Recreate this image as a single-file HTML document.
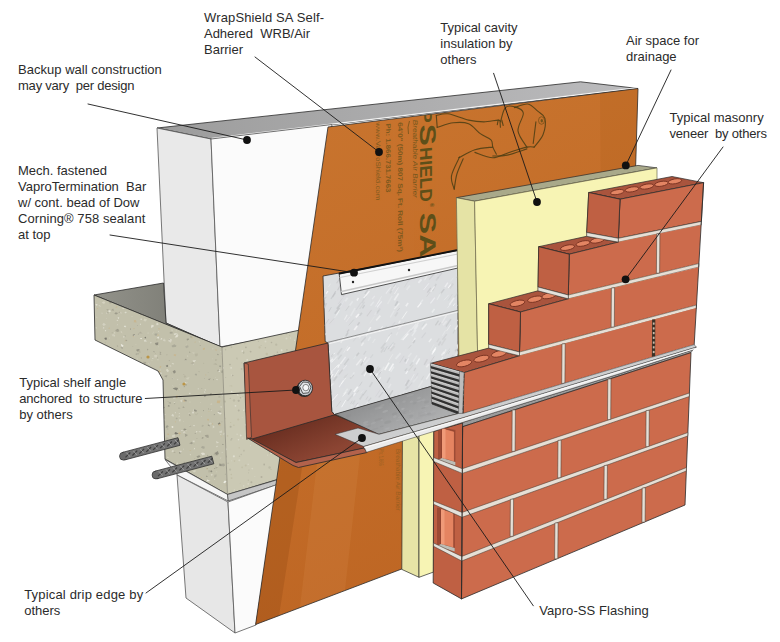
<!DOCTYPE html>
<html><head><meta charset="utf-8"><title>WrapShield SA detail</title>
<style>html,body{margin:0;padding:0;background:#fff}svg{display:block}</style></head>
<body>
<svg width="780" height="642" viewBox="0 0 780 642">
<rect width="780" height="642" fill="#fff"/>

<defs>
<linearGradient id="gMem" gradientUnits="userSpaceOnUse" x1="300" y1="120" x2="520" y2="640">
<stop offset="0" stop-color="#c8742e"/><stop offset="0.5" stop-color="#c36c28"/><stop offset="1" stop-color="#bc6422"/></linearGradient>
<linearGradient id="gTop" gradientUnits="userSpaceOnUse" x1="157" y1="0" x2="640" y2="0">
<stop offset="0" stop-color="#9c9c9c"/><stop offset="1" stop-color="#bcbcbe"/></linearGradient>
<linearGradient id="gSlabTop" gradientUnits="userSpaceOnUse" x1="94" y1="0" x2="220" y2="0">
<stop offset="0" stop-color="#92928a"/><stop offset="1" stop-color="#74746d"/></linearGradient>
<linearGradient id="gFlashH" gradientUnits="userSpaceOnUse" x1="380" y1="395" x2="400" y2="435">
<stop offset="0" stop-color="#909192"/><stop offset="1" stop-color="#acadae"/></linearGradient>
<linearGradient id="gLeg" gradientUnits="userSpaceOnUse" x1="290" y1="425" x2="305" y2="462"><stop offset="0" stop-color="#6c3022"/><stop offset="1" stop-color="#8c4533"/></linearGradient>
<clipPath id="cSlabSide"><polygon points="94,295 222,347 227.5,494.5 165,459 163,380 158,371 95,340"/></clipPath>
<clipPath id="cSlabFront"><polygon points="222,347 300,330 279,479 227.5,494.5"/></clipPath>
<clipPath id="cFlashV"><polygon points="323,276 458,251 458,380 431,386.5 334.6,414.8 331.8,411.5 328,343 325.2,341.5"/></clipPath>
<clipPath id="cMem"><polygon points="328,127 638,88.5 635.6,168 634,300 470,420 403,568.5 255.6,624.5"/></clipPath>
</defs>

<polygon points="157.0,128.0 580.5,81.8 638.0,88.5 211.0,139.0" fill="url(#gTop)" stroke="#2a2a2a" stroke-width="0.8" stroke-linejoin="round" />
<polyline points="212.0,138.3 637.0,87.8" fill="none" stroke="#f2f2f2" stroke-width="1.2" stroke-linecap="round" stroke-linejoin="round" />
<polygon points="157.0,128.0 211.0,139.0 220.0,347.0 166.0,323.0" fill="#e9e9e9" stroke="#555" stroke-width="0.8" stroke-linejoin="round" />
<polygon points="211.0,139.0 332.0,124.5 300.0,332.0 220.0,347.0" fill="#fbfbfb" stroke="#555" stroke-width="0.8" stroke-linejoin="round" />
<polygon points="94.0,295.0 163.5,283.0 166.0,323.0 221.0,347.0" fill="url(#gSlabTop)" stroke="#2a2a2a" stroke-width="0.8" stroke-linejoin="round" />
<polygon points="94.0,295.0 222.0,347.0 227.5,494.5 165.0,459.0 163.0,380.0 158.0,371.0 95.0,340.0" fill="#c2c0ab" />
<polygon points="222.0,347.0 300.0,330.0 279.0,479.0 227.5,494.5" fill="#cbc9b4" />
<g clip-path="url(#cSlabSide)">
<polygon points="138.0,325.1 137.8,325.7 137.4,325.2" fill="#77756b" opacity="0.78"/>
<polygon points="221.2,421.7 222.5,421.4 222.0,422.4" fill="#a5a394" opacity="0.59"/>
<polygon points="170.4,331.7 172.4,331.9 173.0,333.3 170.6,333.8 169.4,332.9" fill="#a5a394" opacity="0.90"/>
<polygon points="192.0,352.9 192.0,352.5 192.8,352.5 193.1,352.9 192.4,353.2" fill="#d6d3c2" opacity="0.59"/>
<polygon points="130.2,436.4 129.2,435.6 129.8,434.4 131.2,433.9 131.6,435.3" fill="#d9d7c9" opacity="0.71"/>
<polygon points="211.8,310.4 212.3,311.0 212.0,311.6 211.1,311.3" fill="#9c9a8a" opacity="0.88"/>
<polygon points="117.5,351.6 119.0,351.0 119.2,352.1" fill="#d6d3c2" opacity="0.74"/>
<polygon points="148.9,333.1 147.7,333.9 147.8,332.3" fill="#dedccf" opacity="0.61"/>
<polygon points="128.0,365.4 127.5,364.7 128.0,364.3 128.6,364.4 128.6,365.1" fill="#c9b48a" opacity="0.92"/>
<polygon points="195.5,356.4 194.6,353.8 198.0,353.5 197.4,355.9" fill="#b0ad9a" opacity="0.65"/>
<polygon points="147.9,457.0 147.4,456.6 148.0,455.9 148.3,456.2 148.5,456.5" fill="#8f8d80" opacity="0.63"/>
<polygon points="180.2,475.4 178.3,477.1 177.0,475.1" fill="#e9e7dc" opacity="0.87"/>
<polygon points="225.4,375.2 224.4,374.8 225.7,374.2" fill="#d6d3c2" opacity="0.69"/>
<polygon points="165.9,321.5 167.2,320.4 169.3,320.7 168.6,322.5" fill="#e4e2d6" opacity="0.72"/>
<polygon points="110.6,477.7 111.9,476.8 113.7,477.6 111.8,479.3" fill="#efeee6" opacity="0.84"/>
<polygon points="169.3,361.2 168.5,360.2 170.0,360.3" fill="#9c9a8a" opacity="0.73"/>
<polygon points="176.7,395.0 178.1,396.0 176.6,398.2 175.7,397.2" fill="#c9b48a" opacity="0.73"/>
<polygon points="104.0,343.8 103.4,343.8 103.5,343.1 104.4,343.2" fill="#e4e2d6" opacity="0.61"/>
<polygon points="151.5,399.8 151.5,397.7 154.1,398.4" fill="#b0ad9a" opacity="0.60"/>
<polygon points="218.7,340.3 218.6,341.4 217.6,341.6 217.3,340.7" fill="#8f8d80" opacity="0.66"/>
<polygon points="201.2,331.6 202.4,331.5 201.5,332.5" fill="#8f8d80" opacity="0.92"/>
<polygon points="178.4,304.4 177.0,303.8 177.7,303.0 178.6,303.4" fill="#dedccf" opacity="0.65"/>
<polygon points="95.6,441.8 96.6,442.1 96.6,442.4 96.2,443.0 95.6,442.4" fill="#e9e7dc" opacity="0.95"/>
<polygon points="227.4,463.9 225.8,463.5 226.4,462.6" fill="#d6d3c2" opacity="0.73"/>
<polygon points="116.8,385.3 115.3,386.1 113.5,384.8 115.9,383.3" fill="#b0ad9a" opacity="0.86"/>
<polygon points="107.0,459.9 106.0,460.1 105.6,458.7 107.0,458.6" fill="#8f8d80" opacity="0.75"/>
<polygon points="132.6,418.2 134.1,418.8 133.4,421.0 131.0,420.5 130.6,418.5" fill="#d9d7c9" opacity="0.83"/>
<polygon points="124.5,300.7 125.5,301.2 124.6,301.9" fill="#9c9a8a" opacity="0.75"/>
<polygon points="166.0,427.1 166.7,427.6 166.4,427.9 165.7,427.5" fill="#8f8d80" opacity="0.80"/>
<polygon points="181.3,310.4 180.6,311.2 180.2,310.5 180.8,310.0" fill="#77756b" opacity="0.74"/>
<polygon points="110.7,474.9 109.7,475.0 109.3,474.5 109.7,474.4 110.4,474.4" fill="#8f8d80" opacity="0.69"/>
<polygon points="176.0,421.8 175.6,422.4 175.1,422.3 174.9,421.6 175.5,421.4" fill="#c9b48a" opacity="0.89"/>
<polygon points="109.5,481.5 109.4,480.4 110.7,480.6 111.3,480.8 110.4,481.9" fill="#e9e7dc" opacity="0.94"/>
<polygon points="153.8,358.3 153.3,358.8 152.4,359.0 152.0,358.2 152.7,358.0" fill="#d9d7c9" opacity="0.92"/>
<polygon points="109.9,388.8 112.0,388.9 112.7,390.0 110.5,391.3 109.1,390.8" fill="#8f8d80" opacity="0.95"/>
<polygon points="154.4,323.3 154.1,322.9 155.1,322.6 155.2,323.2" fill="#b0ad9a" opacity="0.85"/>
<polygon points="161.8,410.0 161.6,410.8 160.5,410.7 160.8,410.1" fill="#e9e7dc" opacity="0.86"/>
<polygon points="203.1,490.8 200.3,490.2 201.9,487.8 204.2,488.2 204.7,490.1" fill="#c9b48a" opacity="0.57"/>
<polygon points="198.5,341.6 199.5,341.1 200.3,342.1 199.6,342.7" fill="#d9d7c9" opacity="0.55"/>
<polygon points="166.0,495.3 166.7,495.0 167.3,495.3 166.4,495.6" fill="#c9b48a" opacity="0.64"/>
<polygon points="151.4,370.3 150.7,369.8 150.8,368.8 151.7,368.9 152.4,369.2" fill="#d9d7c9" opacity="0.67"/>
<polygon points="223.2,394.0 223.1,395.7 221.4,395.0 221.6,393.4" fill="#dedccf" opacity="0.68"/>
<polygon points="110.8,311.4 109.6,312.2 108.4,311.6 108.0,310.2 110.3,310.3" fill="#e4e2d6" opacity="0.94"/>
<polygon points="122.3,367.3 121.3,367.3 121.2,366.3 122.1,365.9 122.8,366.6" fill="#e4e2d6" opacity="0.74"/>
<polygon points="202.9,307.4 202.5,307.9 202.1,307.6 202.4,306.9" fill="#8f8d80" opacity="0.80"/>
<polygon points="221.4,299.2 222.4,299.6 221.7,300.6 220.9,300.3 220.9,299.3" fill="#8f8d80" opacity="0.86"/>
<polygon points="172.5,397.6 175.1,396.4 175.4,397.5 175.6,398.6 173.4,398.7" fill="#dedccf" opacity="0.64"/>
<polygon points="149.7,421.1 148.8,419.1 150.4,418.4 152.8,419.7" fill="#e9e7dc" opacity="0.78"/>
<polygon points="139.0,374.3 138.2,375.6 137.4,374.8 137.4,374.4 138.1,373.6" fill="#d9d7c9" opacity="0.78"/>
<polygon points="218.9,369.0 220.6,369.3 219.6,371.3" fill="#dedccf" opacity="0.57"/>
<polygon points="193.9,478.8 192.4,479.4 192.0,478.1 193.1,477.9" fill="#d6d3c2" opacity="0.81"/>
<polygon points="147.0,350.2 147.4,348.7 148.4,349.1 147.9,350.2" fill="#8f8d80" opacity="0.61"/>
<polygon points="108.4,312.9 109.7,312.6 109.6,313.8" fill="#dedccf" opacity="0.61"/>
<polygon points="132.5,398.8 133.2,400.1 131.8,400.2 131.4,399.2" fill="#8f8d80" opacity="0.91"/>
<polygon points="181.0,467.5 180.3,467.7 179.5,466.6 180.5,466.2" fill="#d6d3c2" opacity="0.89"/>
<polygon points="184.5,430.4 183.2,429.3 184.2,428.5 186.3,429.0 186.1,430.1" fill="#8f8d80" opacity="0.88"/>
<polygon points="206.5,457.9 206.5,457.4 207.4,457.6 207.6,458.1 206.5,458.3" fill="#e9e7dc" opacity="0.86"/>
<polygon points="98.1,308.4 97.5,309.1 96.9,308.7 97.4,307.9" fill="#c9b48a" opacity="0.91"/>
<polygon points="130.7,458.8 131.4,458.6 131.4,459.2 130.9,459.3" fill="#77756b" opacity="0.87"/>
<polygon points="129.6,450.5 128.9,448.9 130.5,449.0" fill="#9c9a8a" opacity="0.61"/>
<polygon points="137.9,312.0 137.8,310.7 139.2,310.6 139.5,311.5" fill="#9c9a8a" opacity="0.80"/>
<polygon points="150.7,368.2 150.2,368.5 150.2,367.8" fill="#dedccf" opacity="0.63"/>
<polygon points="178.8,390.5 177.8,390.8 178.3,390.2" fill="#c9b48a" opacity="0.88"/>
<polygon points="215.0,413.9 215.0,415.0 213.9,415.3 213.7,414.1" fill="#a5a394" opacity="0.93"/>
<polygon points="115.3,336.0 112.2,336.3 111.7,334.6 114.0,333.4" fill="#d6d3c2" opacity="0.58"/>
<polygon points="182.1,329.5 183.6,330.0 182.7,330.9 181.2,330.4" fill="#b0ad9a" opacity="0.64"/>
<polygon points="213.1,298.5 212.2,298.3 212.8,297.4 213.4,298.0" fill="#e4e2d6" opacity="0.74"/>
<polygon points="164.3,295.8 165.8,295.7 167.1,296.1 165.9,296.9 165.1,296.8" fill="#a5a394" opacity="0.83"/>
<polygon points="180.1,434.8 179.7,435.5 179.2,435.1" fill="#a5a394" opacity="0.93"/>
<polygon points="217.6,447.0 216.6,447.2 216.2,446.3 217.5,445.7" fill="#e9e7dc" opacity="0.70"/>
<polygon points="136.7,488.9 137.5,488.2 138.1,489.1" fill="#efeee6" opacity="0.59"/>
<polygon points="204.1,329.3 204.5,328.9 205.2,329.2 204.8,329.7" fill="#dedccf" opacity="0.66"/>
<polygon points="122.5,435.3 123.8,435.4 123.0,436.3" fill="#c9b48a" opacity="0.56"/>
<polygon points="122.9,348.9 121.3,348.6 120.4,347.6 122.0,346.8 123.0,347.5" fill="#a5a394" opacity="0.74"/>
<polygon points="186.4,348.3 185.0,346.4 188.0,345.3 188.6,346.9" fill="#a5a394" opacity="0.64"/>
<polygon points="221.6,347.4 222.4,346.2 223.8,346.1 223.9,347.4" fill="#e9e7dc" opacity="0.71"/>
<polygon points="100.5,375.1 99.3,376.1 96.8,375.5 97.4,374.1 99.8,374.1" fill="#8f8d80" opacity="0.81"/>
<polygon points="212.2,424.4 211.6,424.0 212.4,423.3 213.0,423.6 213.1,424.4" fill="#c9b48a" opacity="0.71"/>
<polygon points="185.9,482.1 184.1,482.5 185.0,481.4" fill="#c9b48a" opacity="0.78"/>
<polygon points="166.8,437.1 168.7,438.3 167.8,440.9 165.7,440.5 165.2,439.1" fill="#b0ad9a" opacity="0.57"/>
<polygon points="104.4,478.4 105.1,478.8 104.2,479.5 103.3,479.3" fill="#a5a394" opacity="0.87"/>
<polygon points="179.0,389.5 179.0,388.8 180.1,388.8 180.2,389.4 179.7,389.8" fill="#d9d7c9" opacity="0.62"/>
<polygon points="93.6,439.8 94.5,439.6 94.9,440.1 94.4,440.6 93.7,440.2" fill="#c9b48a" opacity="0.69"/>
<polygon points="173.2,426.1 173.3,427.8 171.9,428.1 171.5,426.3" fill="#e9e7dc" opacity="0.94"/>
<polygon points="105.4,476.0 106.7,475.5 107.0,476.2 106.3,477.0" fill="#e4e2d6" opacity="0.57"/>
<polygon points="158.0,322.8 158.6,325.1 156.3,325.2 156.4,323.3" fill="#dedccf" opacity="0.80"/>
<polygon points="179.2,300.6 179.6,299.9 180.7,300.0 180.7,301.0 179.6,301.6" fill="#e9e7dc" opacity="0.63"/>
<polygon points="151.7,380.0 153.2,379.0 153.7,380.1 152.9,380.6" fill="#efeee6" opacity="0.78"/>
<polygon points="178.9,453.6 180.0,451.0 180.9,453.3" fill="#77756b" opacity="0.75"/>
<polygon points="169.2,371.1 167.4,372.2 165.9,369.9 167.2,368.7" fill="#e9e7dc" opacity="0.56"/>
<polygon points="211.5,323.4 211.6,322.5 212.1,322.9" fill="#efeee6" opacity="0.60"/>
<polygon points="202.8,410.7 203.4,410.1 203.9,410.5 203.9,411.3" fill="#77756b" opacity="0.60"/>
<polygon points="223.1,312.8 223.9,311.8 225.3,312.6 224.6,313.5" fill="#77756b" opacity="0.77"/>
<polygon points="162.3,429.8 161.0,430.2 161.1,429.0" fill="#dedccf" opacity="0.89"/>
<polygon points="161.4,306.2 160.5,308.3 157.9,307.4 159.3,306.0" fill="#d6d3c2" opacity="0.85"/>
<polygon points="140.0,350.1 140.5,352.9 136.9,351.5" fill="#b0ad9a" opacity="0.79"/>
<polygon points="215.0,457.8 214.8,457.0 215.6,457.4" fill="#d6d3c2" opacity="0.77"/>
<polygon points="198.9,396.2 197.9,395.0 199.2,395.1 199.8,395.7" fill="#a5a394" opacity="0.76"/>
<polygon points="140.9,307.8 141.0,306.5 143.0,306.8 143.3,308.3 141.3,308.3" fill="#b0ad9a" opacity="0.92"/>
<polygon points="160.3,469.5 159.8,468.5 161.4,469.4" fill="#77756b" opacity="0.78"/>
<polygon points="130.4,449.8 130.5,452.1 128.9,453.0 127.9,450.6" fill="#d6d3c2" opacity="0.89"/>
<polygon points="213.9,468.0 215.2,467.9 215.4,468.6 214.1,469.1" fill="#8f8d80" opacity="0.64"/>
<polygon points="100.0,346.5 98.9,347.0 98.6,346.7 99.0,346.1 99.5,346.1" fill="#8f8d80" opacity="0.60"/>
<polygon points="159.0,328.3 159.6,328.9 158.8,329.4 158.3,328.6" fill="#c9b48a" opacity="0.92"/>
<polygon points="145.6,299.2 146.4,299.1 145.9,299.7" fill="#c9b48a" opacity="0.90"/>
<polygon points="129.1,377.9 129.6,377.1 130.8,377.5 129.9,378.2" fill="#d6d3c2" opacity="0.74"/>
<polygon points="132.3,347.1 132.7,346.2 133.3,346.9" fill="#a5a394" opacity="0.73"/>
<polygon points="161.7,397.7 162.3,397.1 163.5,397.1 162.7,398.3" fill="#d6d3c2" opacity="0.58"/>
<polygon points="104.9,417.1 106.6,416.6 106.5,417.8 105.0,418.0" fill="#d9d7c9" opacity="0.89"/>
<polygon points="210.9,395.2 209.6,394.8 210.4,393.3 212.1,393.6" fill="#8f8d80" opacity="0.76"/>
<polygon points="110.4,439.9 109.6,438.1 111.4,438.6" fill="#efeee6" opacity="0.65"/>
<polygon points="106.4,419.3 105.8,419.9 105.6,419.2" fill="#dedccf" opacity="0.73"/>
<polygon points="143.2,314.5 140.5,314.7 139.8,313.2 142.2,312.9" fill="#9c9a8a" opacity="0.93"/>
<polygon points="96.5,422.1 97.2,423.0 95.5,422.6" fill="#efeee6" opacity="0.92"/>
<polygon points="203.5,465.1 204.4,464.8 205.0,465.5 204.1,466.0 202.9,465.7" fill="#a5a394" opacity="0.73"/>
<polygon points="99.6,491.1 101.0,491.0 101.8,492.6 99.7,493.1" fill="#8f8d80" opacity="0.69"/>
<polygon points="115.4,307.5 116.5,306.3 117.5,306.7 116.7,307.8" fill="#c9b48a" opacity="0.73"/>
<polygon points="186.7,339.9 186.8,338.7 188.8,338.6 189.1,339.6 187.3,340.4" fill="#8f8d80" opacity="0.77"/>
<polygon points="159.4,351.8 161.5,351.9 160.3,353.2" fill="#9c9a8a" opacity="0.76"/>
<polygon points="226.9,430.4 228.3,430.6 228.2,431.9 226.8,431.9" fill="#d9d7c9" opacity="0.83"/>
<polygon points="216.1,320.9 216.5,319.6 218.0,319.5 219.6,321.0 218.3,321.8" fill="#e9e7dc" opacity="0.69"/>
<polygon points="164.8,415.2 164.5,414.7 164.7,414.2 165.5,414.3 165.4,414.9" fill="#efeee6" opacity="0.68"/>
<polygon points="224.8,473.9 225.4,473.7 225.7,474.2 225.1,474.5" fill="#8f8d80" opacity="0.93"/>
<polygon points="186.7,400.1 186.5,401.5 184.1,401.0 184.1,399.5" fill="#77756b" opacity="0.62"/>
<polygon points="137.7,491.1 137.6,491.9 136.7,492.3 136.3,491.4" fill="#e4e2d6" opacity="0.62"/>
<polygon points="179.8,416.0 179.2,416.9 178.7,416.5 178.6,416.1 179.2,415.6" fill="#e4e2d6" opacity="0.78"/>
<polygon points="212.0,475.7 211.0,475.6 210.8,473.9 213.0,474.4" fill="#e9e7dc" opacity="0.57"/>
<polygon points="95.3,449.3 95.9,449.5 95.9,450.2 95.4,450.3" fill="#dedccf" opacity="0.86"/>
<polygon points="101.1,306.3 100.0,306.8 98.4,305.5 99.5,304.9" fill="#d6d3c2" opacity="0.82"/>
<polygon points="173.2,378.4 172.3,378.2 172.6,377.7 173.5,378.0" fill="#e9e7dc" opacity="0.81"/>
<polygon points="224.2,380.6 223.1,380.0 223.8,379.4 224.8,379.6" fill="#8f8d80" opacity="0.60"/>
<polygon points="153.0,462.3 154.4,462.3 155.3,463.7 153.4,464.6 152.5,463.5" fill="#efeee6" opacity="0.95"/>
<polygon points="164.0,376.1 167.5,375.0 166.5,377.5" fill="#9c9a8a" opacity="0.71"/>
<polygon points="106.0,330.1 106.2,330.8 105.4,331.5 104.8,330.4" fill="#e9e7dc" opacity="0.89"/>
<polygon points="156.5,420.7 157.5,420.9 156.9,421.7 156.0,421.3" fill="#dedccf" opacity="0.80"/>
<polygon points="117.6,317.6 119.4,317.6 118.3,319.0" fill="#efeee6" opacity="0.93"/>
<polygon points="172.1,339.5 170.9,342.8 168.0,340.9 169.5,338.6" fill="#d9d7c9" opacity="0.82"/>
<polygon points="99.6,359.1 99.2,359.5 98.3,359.2 98.3,358.7 99.4,358.4" fill="#e4e2d6" opacity="0.80"/>
<polygon points="163.3,431.2 162.6,431.5 162.2,430.7 162.8,430.6" fill="#c9b48a" opacity="0.57"/>
<polygon points="142.7,378.7 140.9,378.3 141.5,377.2 143.0,377.3 143.4,378.0" fill="#c9b48a" opacity="0.88"/>
<polygon points="168.8,448.2 167.7,448.3 167.4,447.5 168.7,447.4" fill="#efeee6" opacity="0.60"/>
<polygon points="138.5,389.6 137.7,389.6 137.2,389.3 137.4,388.8 138.2,388.6" fill="#c9b48a" opacity="0.81"/>
<polygon points="179.4,483.0 178.2,483.7 178.4,482.2" fill="#e4e2d6" opacity="0.82"/>
<polygon points="108.6,440.9 106.6,439.3 107.3,438.7 109.7,439.7" fill="#b0ad9a" opacity="0.95"/>
<polygon points="148.9,305.5 147.7,305.2 149.1,304.6" fill="#77756b" opacity="0.74"/>
<polygon points="122.8,371.4 121.7,369.7 123.8,368.1 125.7,370.8" fill="#efeee6" opacity="0.62"/>
<polygon points="133.2,384.0 134.0,383.6 134.7,384.1 134.1,384.8" fill="#9c9a8a" opacity="0.84"/>
<polygon points="138.4,428.8 137.6,427.4 139.4,426.3 140.4,427.3" fill="#d9d7c9" opacity="0.70"/>
<polygon points="173.2,378.4 172.8,379.3 171.8,378.7 172.3,378.0" fill="#a5a394" opacity="0.64"/>
<polygon points="155.5,402.6 157.4,402.6 157.8,405.3 155.1,405.9 153.9,404.0" fill="#e9e7dc" opacity="0.82"/>
<polygon points="167.1,489.9 167.6,488.7 168.1,489.8" fill="#77756b" opacity="0.60"/>
<polygon points="215.4,313.2 216.2,312.1 217.2,311.9 217.6,313.3" fill="#b0ad9a" opacity="0.69"/>
<polygon points="161.1,458.8 160.3,460.2 159.0,458.2" fill="#e9e7dc" opacity="0.60"/>
<polygon points="97.1,316.8 97.5,317.6 97.0,317.7 96.2,317.7 96.4,316.8" fill="#d9d7c9" opacity="0.56"/>
<polygon points="206.1,310.3 206.2,309.8 207.1,309.0 207.7,310.0 207.5,310.6" fill="#d6d3c2" opacity="0.74"/>
<polygon points="171.7,373.4 171.4,372.7 172.2,372.7" fill="#a5a394" opacity="0.58"/>
<polygon points="229.0,366.1 228.0,367.6 226.4,366.6" fill="#dedccf" opacity="0.90"/>
<polygon points="219.6,433.1 219.1,431.6 221.9,430.2 222.1,432.7" fill="#d9d7c9" opacity="0.65"/>
<polygon points="125.1,365.4 125.4,365.0 125.9,364.9 126.3,365.2 125.7,365.5" fill="#efeee6" opacity="0.63"/>
<polygon points="219.3,411.7 219.1,413.9 217.2,412.2" fill="#efeee6" opacity="0.64"/>
<polygon points="97.0,306.0 95.7,304.4 98.1,303.8" fill="#d9d7c9" opacity="0.69"/>
<polygon points="111.9,333.3 111.7,332.6 112.6,332.4 112.9,333.0" fill="#a5a394" opacity="0.80"/>
<polygon points="138.8,394.1 139.6,393.7 139.7,394.5 139.1,394.8" fill="#dedccf" opacity="0.86"/>
<polygon points="106.2,460.3 105.0,458.8 106.1,457.1 108.1,458.5" fill="#d6d3c2" opacity="0.77"/>
<polygon points="143.1,401.8 142.0,401.6 142.6,401.1 143.2,401.2" fill="#d9d7c9" opacity="0.86"/>
<polygon points="128.4,417.3 128.9,416.3 130.0,417.2" fill="#9c9a8a" opacity="0.71"/>
<polygon points="123.6,454.1 121.7,454.6 121.8,453.4 122.8,453.0" fill="#efeee6" opacity="0.72"/>
<polygon points="124.1,335.7 125.4,335.3 125.9,335.7 125.8,336.7" fill="#a5a394" opacity="0.65"/>
<polygon points="138.0,418.0 137.0,418.2 136.3,417.1 137.5,417.2" fill="#e4e2d6" opacity="0.92"/>
<polygon points="112.9,356.2 111.6,356.5 111.5,355.7 111.5,355.2 112.5,355.6" fill="#d9d7c9" opacity="0.75"/>
<polygon points="125.6,381.8 124.9,381.6 125.4,381.2" fill="#e9e7dc" opacity="0.85"/>
<polygon points="161.4,317.1 162.2,317.4 162.0,318.2 160.7,317.7" fill="#a5a394" opacity="0.70"/>
<polygon points="94.3,434.2 95.0,432.1 96.6,432.5 97.2,434.4" fill="#efeee6" opacity="0.55"/>
<polygon points="176.4,481.4 175.5,481.3 176.1,480.7" fill="#a5a394" opacity="0.73"/>
<polygon points="183.8,386.1 184.8,385.9 185.0,386.9 183.8,387.2" fill="#9c9a8a" opacity="0.80"/>
<polygon points="186.7,359.1 186.1,360.6 184.7,360.3 185.1,358.7" fill="#8f8d80" opacity="0.76"/>
<polygon points="164.9,459.1 164.8,458.1 165.8,458.5" fill="#d6d3c2" opacity="0.70"/>
<polygon points="182.4,400.3 183.8,399.5 184.1,400.6" fill="#c9b48a" opacity="0.76"/>
<polygon points="126.8,369.6 126.0,370.0 125.3,369.4 126.1,369.0" fill="#dedccf" opacity="0.89"/>
<polygon points="120.8,380.8 120.7,379.5 121.4,379.5 122.2,379.7 121.9,380.6" fill="#e4e2d6" opacity="0.94"/>
<polygon points="208.5,412.0 208.5,411.3 209.0,411.2 209.5,411.8 209.2,412.1" fill="#c9b48a" opacity="0.62"/>
<polygon points="102.5,375.3 102.5,374.5 103.1,374.8 103.1,375.1" fill="#e4e2d6" opacity="0.88"/>
<polygon points="106.6,313.2 107.5,311.8 109.1,313.1 107.6,313.4" fill="#a5a394" opacity="0.68"/>
<polygon points="163.5,295.8 164.7,296.1 164.3,296.6 163.4,296.5" fill="#efeee6" opacity="0.77"/>
<polygon points="133.8,322.2 134.1,320.0 135.8,320.1 136.6,322.6" fill="#c9b48a" opacity="0.78"/>
<polygon points="136.3,350.5 136.4,349.5 138.5,349.1 139.9,349.5 137.7,351.5" fill="#77756b" opacity="0.56"/>
<polygon points="189.2,443.3 192.1,441.8 192.8,443.4 191.5,444.2" fill="#8f8d80" opacity="0.64"/>
<polygon points="207.9,438.5 204.2,436.5 207.9,435.5" fill="#d6d3c2" opacity="0.67"/>
<polygon points="128.7,405.7 128.6,404.8 129.3,405.2" fill="#efeee6" opacity="0.62"/>
<polygon points="138.9,376.1 138.5,375.3 139.4,375.5" fill="#d9d7c9" opacity="0.90"/>
<polygon points="175.3,403.8 174.6,404.2 174.4,403.6 174.7,403.3" fill="#77756b" opacity="0.65"/>
<polygon points="193.9,330.3 194.9,331.2 193.5,331.7" fill="#c9b48a" opacity="0.72"/>
<polygon points="188.3,379.8 185.8,378.9 187.3,377.5 189.6,377.1" fill="#d6d3c2" opacity="0.60"/>
<polygon points="160.4,403.6 160.1,402.4 161.8,401.6 162.2,403.6" fill="#dedccf" opacity="0.56"/>
<polygon points="221.8,393.5 220.7,393.6 220.6,392.5 221.9,392.6" fill="#e9e7dc" opacity="0.64"/>
<polygon points="175.8,453.0 173.3,453.1 174.3,451.5" fill="#b0ad9a" opacity="0.92"/>
<polygon points="95.8,484.3 95.1,484.3 94.8,483.5 96.2,483.9" fill="#d6d3c2" opacity="0.74"/>
<polygon points="161.6,451.3 161.4,452.3 159.9,451.8" fill="#d9d7c9" opacity="0.82"/>
<polygon points="192.2,322.4 194.5,320.7 196.7,322.1 194.7,323.3" fill="#c9b48a" opacity="0.94"/>
<polygon points="201.0,345.2 200.5,346.0 199.8,346.0 199.8,345.1" fill="#9c9a8a" opacity="0.69"/>
<polygon points="144.9,484.0 146.5,485.1 145.4,487.0 143.6,486.4 143.8,485.0" fill="#77756b" opacity="0.69"/>
<polygon points="207.7,418.7 208.7,419.0 208.9,420.0 208.2,420.9 207.0,419.8" fill="#c9b48a" opacity="0.91"/>
<polygon points="178.1,473.9 178.9,475.2 175.8,476.0 174.6,473.4" fill="#77756b" opacity="0.84"/>
<polygon points="186.0,493.2 184.9,493.4 184.4,492.9 184.8,492.3 186.2,492.4" fill="#8f8d80" opacity="0.75"/>
<polygon points="142.6,492.2 141.4,491.0 143.3,489.8 144.5,489.7 144.4,491.8" fill="#efeee6" opacity="0.92"/>
<polygon points="162.1,493.8 164.1,495.6 161.5,497.2 159.8,495.2" fill="#a5a394" opacity="0.69"/>
<polygon points="215.9,360.8 214.9,360.6 215.6,359.0 217.3,359.9" fill="#b0ad9a" opacity="0.86"/>
<polygon points="141.3,434.9 140.9,433.7 143.0,433.5 144.2,434.9 143.0,435.5" fill="#b0ad9a" opacity="0.61"/>
<polygon points="214.4,305.7 213.3,303.0 215.9,303.5" fill="#efeee6" opacity="0.86"/>
<polygon points="99.9,460.6 99.6,461.9 98.7,460.8" fill="#a5a394" opacity="0.62"/>
<polygon points="116.6,440.8 116.0,439.8 118.3,439.1 119.7,440.4 118.6,441.2" fill="#b0ad9a" opacity="0.58"/>
<polygon points="150.2,395.0 150.6,395.9 149.4,396.5 149.0,396.0" fill="#a5a394" opacity="0.56"/>
<polygon points="224.9,480.5 226.8,481.6 224.8,483.2 223.2,482.5" fill="#efeee6" opacity="0.91"/>
<polygon points="104.1,299.4 104.7,299.1 105.5,299.8 105.0,300.3 104.2,300.0" fill="#dedccf" opacity="0.80"/>
<polygon points="140.3,362.2 139.2,361.4 140.5,361.4" fill="#8f8d80" opacity="0.59"/>
<polygon points="108.4,372.9 110.0,373.1 109.4,374.4 108.5,373.7" fill="#b0ad9a" opacity="0.80"/>
<polygon points="109.5,327.5 110.1,328.3 108.7,328.8 108.6,328.1" fill="#c9b48a" opacity="0.85"/>
<polygon points="174.9,297.4 177.1,296.8 179.1,298.3 175.8,299.5" fill="#e4e2d6" opacity="0.56"/>
<polygon points="191.3,450.0 190.1,451.0 189.2,450.2" fill="#c9b48a" opacity="0.75"/>
<polygon points="122.7,347.0 121.7,346.6 120.7,344.8 121.6,343.9 123.6,345.8" fill="#efeee6" opacity="0.86"/>
<polygon points="121.9,409.4 122.7,409.7 121.8,411.0 119.9,410.9 120.1,409.7" fill="#c9b48a" opacity="0.92"/>
<polygon points="186.1,477.8 187.2,478.2 187.3,479.2 186.8,479.4 185.6,479.0" fill="#d6d3c2" opacity="0.87"/>
<polygon points="213.8,296.8 212.8,295.9 215.4,295.2" fill="#e4e2d6" opacity="0.93"/>
<polygon points="199.2,304.0 198.5,304.6 198.0,304.4 198.0,303.6 198.8,303.2" fill="#d6d3c2" opacity="0.91"/>
<polygon points="217.4,293.8 219.9,295.8 216.6,296.3" fill="#9c9a8a" opacity="0.62"/>
<polygon points="160.7,462.7 163.8,463.1 162.5,465.2" fill="#efeee6" opacity="0.94"/>
<polygon points="107.3,349.8 105.8,351.4 104.6,350.0 106.1,348.7" fill="#b0ad9a" opacity="0.81"/>
<polygon points="215.9,440.9 219.1,442.6 216.7,443.4" fill="#e4e2d6" opacity="0.65"/>
<polygon points="113.3,453.3 112.0,454.2 111.1,453.1 111.9,452.7" fill="#c9b48a" opacity="0.71"/>
<polygon points="95.7,341.5 97.4,340.7 97.2,342.1" fill="#b0ad9a" opacity="0.94"/>
<polygon points="115.0,401.2 116.7,401.9 115.5,402.2" fill="#9c9a8a" opacity="0.93"/>
<polygon points="176.9,419.4 175.5,418.6 176.9,417.6 177.7,418.6" fill="#a5a394" opacity="0.79"/>
<polygon points="187.3,355.8 188.1,355.5 188.2,356.4 187.5,356.4" fill="#e9e7dc" opacity="0.71"/>
<polygon points="188.2,328.8 189.4,330.1 187.2,330.5 187.4,329.6" fill="#b0ad9a" opacity="0.63"/>
<polygon points="215.6,326.7 216.0,326.3 216.7,326.7 216.3,327.3" fill="#dedccf" opacity="0.92"/>
<polygon points="219.6,367.1 218.8,365.7 221.1,365.5 221.1,367.2" fill="#8f8d80" opacity="0.63"/>
<polygon points="123.4,371.8 124.1,372.0 123.4,372.7" fill="#dedccf" opacity="0.83"/>
<polygon points="107.0,319.1 106.1,318.7 106.9,318.2" fill="#dedccf" opacity="0.74"/>
<polygon points="123.5,418.8 122.4,417.7 124.0,417.1" fill="#efeee6" opacity="0.73"/>
<polygon points="193.3,310.9 192.0,310.3 193.2,309.0" fill="#b0ad9a" opacity="0.56"/>
<polygon points="158.3,445.4 155.7,444.6 156.1,442.6 158.3,443.0" fill="#d6d3c2" opacity="0.79"/>
<polygon points="215.8,310.9 216.3,311.4 216.0,312.0 215.2,311.6" fill="#a5a394" opacity="0.75"/>
<polygon points="222.8,393.9 221.7,394.5 221.2,394.0 222.1,393.4" fill="#a5a394" opacity="0.70"/>
<polygon points="116.4,461.8 115.3,461.8 114.9,461.5 115.9,460.5 116.4,461.0" fill="#c9b48a" opacity="0.62"/>
<polygon points="173.5,385.9 173.3,386.6 172.2,385.8 172.6,385.4" fill="#e4e2d6" opacity="0.62"/>
<polygon points="111.0,310.2 113.2,308.5 114.1,310.7" fill="#9c9a8a" opacity="0.72"/>
<polygon points="172.3,347.3 171.5,345.8 174.4,344.3 176.5,345.8 175.6,346.9" fill="#a5a394" opacity="0.82"/>
<polygon points="190.2,425.0 189.3,425.6 189.2,424.9" fill="#efeee6" opacity="0.69"/>
<polygon points="182.9,448.9 184.0,448.7 183.8,449.6" fill="#e9e7dc" opacity="0.77"/>
<polygon points="139.5,448.8 139.2,446.4 141.5,446.5 141.8,448.9" fill="#d9d7c9" opacity="0.70"/>
<polygon points="209.8,426.4 207.5,425.0 209.2,424.6" fill="#77756b" opacity="0.62"/>
<polygon points="188.3,296.3 187.5,296.0 188.1,295.4" fill="#dedccf" opacity="0.72"/>
<polygon points="158.4,346.6 159.0,347.1 158.4,347.2" fill="#e9e7dc" opacity="0.92"/>
<polygon points="169.6,306.5 168.5,305.3 170.5,304.4 171.3,305.8" fill="#dedccf" opacity="0.80"/>
<polygon points="205.5,390.4 204.6,390.1 204.7,389.5 205.6,389.4 206.1,390.1" fill="#e9e7dc" opacity="0.80"/>
<polygon points="215.1,336.3 215.7,335.6 216.3,336.1 215.9,336.6" fill="#dedccf" opacity="0.86"/>
<polygon points="138.1,354.0 136.5,355.3 135.4,354.3 135.9,353.5 137.4,353.1" fill="#a5a394" opacity="0.72"/>
<polygon points="100.9,455.7 103.1,455.4 104.3,457.0 102.2,457.5" fill="#efeee6" opacity="0.89"/>
<polygon points="220.6,407.6 220.4,406.2 222.1,406.5 221.5,407.7" fill="#e9e7dc" opacity="0.59"/>
<polygon points="103.2,327.3 104.2,327.6 104.4,328.2 103.0,328.5 102.9,328.0" fill="#efeee6" opacity="0.62"/>
<polygon points="204.5,448.6 203.2,448.8 200.9,447.5 202.2,445.9 204.6,446.7" fill="#a5a394" opacity="0.85"/>
<polygon points="140.2,331.6 142.6,333.5 138.6,333.4" fill="#b0ad9a" opacity="0.90"/>
<polygon points="222.4,355.0 223.1,355.7 222.4,356.0 221.7,355.9 221.5,355.6" fill="#dedccf" opacity="0.75"/>
<polygon points="139.0,381.8 139.0,384.5 135.8,383.4 136.6,381.3" fill="#dedccf" opacity="0.87"/>
<polygon points="207.4,492.7 206.7,490.5 208.2,490.7 208.9,492.7" fill="#a5a394" opacity="0.57"/>
<polygon points="209.5,425.0 208.8,423.3 210.3,422.4 212.0,423.5 211.4,424.1" fill="#d9d7c9" opacity="0.55"/>
<polygon points="222.0,339.3 224.4,340.6 222.6,342.8" fill="#e4e2d6" opacity="0.62"/>
<polygon points="131.3,399.4 131.4,397.8 134.0,397.2 135.4,399.7" fill="#dedccf" opacity="0.76"/>
<polygon points="225.5,395.4 222.8,394.2 224.0,392.0 226.4,393.1" fill="#efeee6" opacity="0.75"/>
<polygon points="216.2,476.9 213.9,477.5 214.5,474.8 216.8,474.6" fill="#a5a394" opacity="0.57"/>
<polygon points="196.4,456.6 199.1,455.2 200.6,456.6 197.8,458.0" fill="#8f8d80" opacity="0.83"/>
<polygon points="131.2,463.3 130.9,463.9 130.2,463.4" fill="#e9e7dc" opacity="0.71"/>
<polygon points="192.0,495.7 190.8,495.8 191.0,494.7 192.3,494.8" fill="#8f8d80" opacity="0.94"/>
<polygon points="159.8,485.4 159.2,485.1 159.7,484.4 160.5,484.9" fill="#9c9a8a" opacity="0.81"/>
<polygon points="157.2,462.7 157.1,463.2 156.7,463.3 156.2,462.5 156.8,462.4" fill="#b0ad9a" opacity="0.78"/>
<polygon points="124.2,455.8 124.3,456.5 123.0,456.4 123.4,455.4" fill="#e9e7dc" opacity="0.76"/>
<polygon points="220.5,423.8 218.9,424.7 217.7,423.9 219.4,422.3" fill="#77756b" opacity="0.93"/>
<polygon points="146.1,310.4 144.3,311.1 144.1,309.7 145.4,309.8" fill="#a5a394" opacity="0.92"/>
<polygon points="152.3,333.4 152.8,333.3 153.5,334.0 152.2,334.2" fill="#d9d7c9" opacity="0.61"/>
<polygon points="117.5,418.0 117.2,417.2 119.0,416.9 119.7,417.9 118.6,418.5" fill="#b0ad9a" opacity="0.73"/>
<polygon points="178.6,476.6 179.0,477.4 177.5,477.8 177.3,477.0 177.5,476.5" fill="#c9b48a" opacity="0.83"/>
<polygon points="94.0,455.8 95.4,455.6 95.3,456.7 94.4,456.8" fill="#efeee6" opacity="0.66"/>
<polygon points="214.5,452.6 217.6,452.9 217.7,456.0 213.4,455.1" fill="#b0ad9a" opacity="0.75"/>
<polygon points="205.5,303.9 206.2,304.0 206.2,304.7 205.7,304.9 205.5,304.2" fill="#77756b" opacity="0.73"/>
<polygon points="143.9,302.7 142.9,302.3 143.6,301.5 144.4,301.9" fill="#8f8d80" opacity="0.68"/>
<polygon points="184.9,433.7 188.0,435.1 185.3,437.0" fill="#8f8d80" opacity="0.65"/>
<polygon points="162.2,384.2 162.4,384.0 163.0,384.5 162.5,384.8 161.9,384.6" fill="#a5a394" opacity="0.65"/>
<polygon points="116.3,477.9 115.4,477.3 115.5,476.4 117.0,477.1" fill="#dedccf" opacity="0.72"/>
<polygon points="158.0,357.4 157.7,358.4 157.0,358.2 157.0,357.3" fill="#9c9a8a" opacity="0.66"/>
<polygon points="144.3,406.4 144.2,407.2 143.1,406.9 143.1,406.3 143.5,405.9" fill="#b0ad9a" opacity="0.66"/>
<polygon points="178.1,408.9 178.4,407.3 179.9,407.8 180.4,408.5" fill="#a5a394" opacity="0.63"/>
<polygon points="162.2,319.2 161.5,318.4 163.4,318.6" fill="#a5a394" opacity="0.69"/>
<polygon points="190.4,401.8 190.1,402.4 189.4,402.1 189.8,401.8" fill="#e9e7dc" opacity="0.88"/>
<polygon points="227.4,317.3 226.2,317.8 225.7,316.9" fill="#d9d7c9" opacity="0.77"/>
<polygon points="142.8,476.3 141.9,475.9 142.7,475.6" fill="#e9e7dc" opacity="0.57"/>
<polygon points="150.3,342.3 150.9,341.7 151.6,342.7 151.1,343.2 150.5,343.4" fill="#e9e7dc" opacity="0.63"/>
<polygon points="129.3,451.1 128.2,450.9 128.7,450.1 129.2,450.2 130.0,450.6" fill="#e9e7dc" opacity="0.81"/>
<polygon points="114.6,420.7 115.1,420.2 115.7,420.5 115.3,421.0" fill="#9c9a8a" opacity="0.71"/>
<polygon points="121.1,313.7 119.9,312.8 120.2,311.8 122.2,312.9" fill="#d9d7c9" opacity="0.59"/>
<polygon points="162.7,393.1 162.0,393.9 160.8,392.9" fill="#8f8d80" opacity="0.83"/>
<polygon points="172.6,491.4 171.9,491.7 171.5,491.1 172.1,490.7" fill="#b0ad9a" opacity="0.73"/>
<polygon points="94.1,312.8 95.0,313.4 94.9,313.9 93.4,313.3" fill="#d9d7c9" opacity="0.68"/>
<polygon points="216.3,454.9 214.8,452.9 217.9,450.9 218.8,453.9" fill="#77756b" opacity="0.60"/>
<polygon points="97.2,380.9 97.8,381.5 97.4,381.8 96.4,381.9 96.5,381.0" fill="#d9d7c9" opacity="0.84"/>
<polygon points="123.3,385.5 123.2,386.2 122.6,386.2 122.2,385.6" fill="#e4e2d6" opacity="0.71"/>
<polygon points="152.0,417.3 152.8,416.8 154.1,416.9 153.4,417.8" fill="#b0ad9a" opacity="0.69"/>
<polygon points="150.3,488.6 149.9,487.2 151.0,486.9 151.5,487.9" fill="#d6d3c2" opacity="0.86"/>
<polygon points="162.3,317.7 161.8,317.0 162.9,316.6 163.4,317.4 163.4,317.9" fill="#dedccf" opacity="0.79"/>
<polygon points="134.6,336.0 132.8,335.6 132.8,334.7 134.8,334.2" fill="#77756b" opacity="0.92"/>
<polygon points="95.6,340.7 96.8,340.3 97.0,341.1 95.5,341.6" fill="#a5a394" opacity="0.57"/>
<polygon points="145.3,339.5 147.0,341.5 144.4,341.7 143.8,340.4" fill="#efeee6" opacity="0.55"/>
<polygon points="106.1,313.1 106.7,312.6 107.6,313.3 106.8,314.1" fill="#e4e2d6" opacity="0.69"/>
<polygon points="138.1,419.0 138.5,417.7 140.2,418.5" fill="#b0ad9a" opacity="0.56"/>
<polygon points="214.2,340.6 214.3,338.6 216.4,338.9 216.1,340.1" fill="#c9b48a" opacity="0.93"/>
<polygon points="185.7,430.3 186.7,430.4 186.5,431.3 185.5,431.1" fill="#e9e7dc" opacity="0.60"/>
<polygon points="158.8,417.7 160.8,417.7 160.2,420.3 158.3,419.6" fill="#77756b" opacity="0.92"/>
<polygon points="105.1,421.2 104.0,420.8 105.4,419.9" fill="#8f8d80" opacity="0.83"/>
<polygon points="165.6,468.5 165.7,468.1 166.4,468.1 166.4,468.6" fill="#d6d3c2" opacity="0.58"/>
<polygon points="122.1,489.0 120.8,488.4 121.7,487.8 122.4,488.3" fill="#dedccf" opacity="0.86"/>
<polygon points="154.9,333.4 157.6,333.5 156.4,335.9 154.3,334.9" fill="#a5a394" opacity="0.85"/>
<polygon points="195.1,472.1 193.8,472.5 192.7,470.9 194.8,470.1 196.4,470.7" fill="#d9d7c9" opacity="0.66"/>
<polygon points="141.7,318.6 141.6,320.0 140.0,319.1" fill="#efeee6" opacity="0.83"/>
<polygon points="117.6,430.8 116.3,430.6 115.6,429.7 117.1,429.4 118.1,429.8" fill="#efeee6" opacity="0.63"/>
<polygon points="158.8,403.3 158.2,403.5 157.5,403.2 157.9,402.7 158.6,402.6" fill="#a5a394" opacity="0.70"/>
<polygon points="160.2,308.6 158.2,308.7 158.3,307.0" fill="#e4e2d6" opacity="0.66"/>
<polygon points="118.9,294.3 119.6,295.7 117.8,295.4" fill="#efeee6" opacity="0.64"/>
<polygon points="141.8,358.4 141.3,358.5 140.5,358.0 141.1,357.6 141.9,357.5" fill="#8f8d80" opacity="0.71"/>
<polygon points="184.8,408.0 182.3,407.6 183.3,406.3" fill="#9c9a8a" opacity="0.89"/>
<polygon points="157.3,321.0 157.8,321.0 157.9,321.5 157.6,321.9 156.8,321.6" fill="#d6d3c2" opacity="0.67"/>
<polygon points="167.5,456.6 168.9,457.3 168.2,458.1 166.8,457.7" fill="#dedccf" opacity="0.59"/>
<polygon points="219.5,370.8 220.0,371.7 218.8,372.0 218.3,371.0" fill="#efeee6" opacity="0.79"/>
<polygon points="117.9,325.0 116.8,325.3 117.1,324.5" fill="#efeee6" opacity="0.92"/>
<polygon points="109.4,355.5 108.6,356.1 108.2,355.1" fill="#c9b48a" opacity="0.60"/>
<polygon points="204.4,378.6 205.0,378.5 205.0,379.3" fill="#77756b" opacity="0.64"/>
<polygon points="206.5,468.2 207.4,467.9 208.0,468.5 207.5,468.8 206.6,468.8" fill="#8f8d80" opacity="0.84"/>
<polygon points="144.2,378.6 143.4,378.3 144.0,377.1 144.9,377.5 145.1,378.2" fill="#efeee6" opacity="0.65"/>
<polygon points="175.9,334.0 176.7,333.3 178.3,334.2 177.4,334.8" fill="#e9e7dc" opacity="0.83"/>
<polygon points="194.8,425.7 194.2,426.3 193.3,426.0 193.9,425.0" fill="#efeee6" opacity="0.88"/>
<polygon points="213.3,349.3 212.2,349.2 212.2,348.4 213.4,348.6" fill="#d6d3c2" opacity="0.89"/>
<polygon points="138.1,466.2 138.1,465.4 138.9,465.5 138.8,465.8" fill="#efeee6" opacity="0.59"/>
<polygon points="190.3,411.4 190.3,412.5 189.1,411.6" fill="#b0ad9a" opacity="0.77"/>
<polygon points="203.2,325.4 204.1,325.6 204.1,326.5 203.5,326.5" fill="#e9e7dc" opacity="0.83"/>
<polygon points="218.3,425.0 219.4,424.1 220.3,423.8 220.8,425.3 219.8,425.5" fill="#c9b48a" opacity="0.82"/>
<polygon points="118.9,362.3 119.4,361.2 120.0,361.8 119.7,362.4" fill="#dedccf" opacity="0.57"/>
<polygon points="150.4,363.6 149.5,364.4 148.1,363.4 150.2,362.2" fill="#dedccf" opacity="0.75"/>
<polygon points="159.8,370.2 160.3,369.7 161.1,369.6 161.0,370.6" fill="#d9d7c9" opacity="0.75"/>
<polygon points="96.5,441.3 98.4,441.5 98.4,442.3 97.4,442.8 96.3,442.1" fill="#dedccf" opacity="0.68"/>
<polygon points="165.4,481.9 167.0,480.2 168.5,480.4 169.1,482.2 166.8,482.4" fill="#dedccf" opacity="0.68"/>
<polygon points="212.7,306.6 212.8,307.3 212.3,307.3 211.6,307.1 211.8,306.8" fill="#a5a394" opacity="0.90"/>
<polygon points="221.8,325.6 223.0,324.9 223.4,326.6" fill="#b0ad9a" opacity="0.82"/>
<polygon points="192.4,360.2 196.2,360.0 194.3,362.6" fill="#e4e2d6" opacity="0.64"/>
<polygon points="221.0,457.4 221.3,458.1 220.6,458.4 220.2,457.9" fill="#e9e7dc" opacity="0.82"/>
<polygon points="209.0,408.5 208.8,409.2 208.0,409.2 208.3,408.7" fill="#77756b" opacity="0.66"/>
<polygon points="198.8,389.2 197.7,389.2 197.8,388.5 198.9,388.5" fill="#efeee6" opacity="0.71"/>
<polygon points="153.3,300.8 154.3,299.9 156.5,300.2 156.1,302.0 153.9,303.1" fill="#b0ad9a" opacity="0.81"/>
<polygon points="159.1,372.3 157.1,371.7 157.7,370.6 160.2,370.7 160.7,371.7" fill="#c9b48a" opacity="0.91"/>
<polygon points="143.6,320.9 144.2,318.5 147.1,319.3 145.8,321.4" fill="#d6d3c2" opacity="0.80"/>
<polygon points="116.9,346.3 116.8,345.7 117.4,345.6 118.2,346.1 118.1,346.6" fill="#8f8d80" opacity="0.64"/>
<polygon points="143.5,379.5 142.6,377.3 147.0,377.3 145.8,379.8" fill="#efeee6" opacity="0.80"/>
<polygon points="125.8,420.2 127.6,420.6 126.8,421.6 126.1,421.6 125.2,421.0" fill="#b0ad9a" opacity="0.67"/>
<polygon points="215.0,377.5 215.4,377.0 216.0,377.4" fill="#e4e2d6" opacity="0.64"/>
<polygon points="100.9,392.7 100.7,393.6 98.7,393.3 99.4,392.5 100.4,392.0" fill="#b0ad9a" opacity="0.86"/>
<polygon points="102.3,356.3 102.1,355.8 103.3,355.6 103.3,356.4" fill="#9c9a8a" opacity="0.78"/>
<polygon points="124.4,337.4 123.4,337.6 122.8,336.9 123.5,336.2 124.5,336.3" fill="#e4e2d6" opacity="0.79"/>
<polygon points="122.1,492.9 121.5,492.2 122.6,491.9 123.0,492.6" fill="#e4e2d6" opacity="0.62"/>
<polygon points="216.9,494.4 215.5,493.8 215.7,492.9 217.6,493.1" fill="#a5a394" opacity="0.90"/>
<polygon points="221.1,352.8 220.0,351.6 221.4,351.3" fill="#d9d7c9" opacity="0.81"/>
<polygon points="133.1,398.6 131.0,398.9 130.8,397.4 133.5,397.3" fill="#b0ad9a" opacity="0.69"/>
<polygon points="217.0,453.8 218.4,453.8 218.3,454.4 217.3,454.6" fill="#a5a394" opacity="0.69"/>
<polygon points="160.8,428.2 162.0,428.7 160.7,429.1" fill="#a5a394" opacity="0.87"/>
<polygon points="107.5,420.0 106.8,420.6 106.6,419.7" fill="#c9b48a" opacity="0.63"/>
<polygon points="167.3,485.4 166.8,482.7 169.1,484.1" fill="#a5a394" opacity="0.59"/>
<polygon points="167.5,354.2 167.8,354.8 166.7,355.6 165.8,354.6" fill="#b0ad9a" opacity="0.58"/>
<polygon points="185.3,401.0 184.8,402.1 183.6,402.0 183.2,401.2 183.9,400.1" fill="#c9b48a" opacity="0.65"/>
<polygon points="97.2,423.4 96.9,422.5 98.3,422.3 98.5,422.7 97.9,423.4" fill="#dedccf" opacity="0.61"/>
<polygon points="163.6,456.9 162.6,457.2 162.5,455.7 163.7,455.7" fill="#e9e7dc" opacity="0.59"/>
<polygon points="125.1,340.3 125.9,340.8 125.1,341.5 124.7,341.0" fill="#c9b48a" opacity="0.88"/>
<polygon points="202.1,490.7 203.9,490.9 203.3,492.5 201.6,492.1" fill="#e4e2d6" opacity="0.85"/>
<polygon points="170.0,321.1 171.2,319.6 172.7,321.0 171.6,322.1" fill="#9c9a8a" opacity="0.62"/>
<polygon points="110.0,301.3 110.9,301.6 111.5,302.9 109.6,303.5 109.4,302.6" fill="#8f8d80" opacity="0.62"/>
<polygon points="204.9,453.5 205.1,454.6 202.3,455.3 200.7,453.1 203.1,452.5" fill="#e4e2d6" opacity="0.83"/>
<polygon points="93.9,378.4 92.5,376.7 94.3,375.3 97.5,376.1 95.7,378.6" fill="#a5a394" opacity="0.79"/>
<polygon points="108.7,378.3 108.6,377.1 109.6,377.7" fill="#c9b48a" opacity="0.91"/>
<polygon points="185.4,384.4 186.8,384.4 186.8,385.2 185.5,385.4" fill="#77756b" opacity="0.61"/>
<polygon points="142.7,305.3 142.8,303.9 144.3,304.2 144.0,305.3" fill="#b0ad9a" opacity="0.62"/>
<polygon points="139.7,431.8 139.3,432.4 138.9,431.5" fill="#d6d3c2" opacity="0.88"/>
<polygon points="198.3,431.0 201.6,430.8 200.2,433.0" fill="#d9d7c9" opacity="0.63"/>
<polygon points="159.1,404.7 159.9,403.6 160.9,404.9" fill="#8f8d80" opacity="0.89"/>
<polygon points="175.3,437.6 176.5,437.6 175.7,438.2" fill="#dedccf" opacity="0.80"/>
<polygon points="182.4,397.9 182.5,397.3 183.0,397.4 183.0,397.8" fill="#dedccf" opacity="0.81"/>
<polygon points="207.2,299.3 208.1,300.5 207.0,301.0 205.9,300.0" fill="#e9e7dc" opacity="0.70"/>
<polygon points="169.5,405.5 169.6,406.4 168.3,406.6 167.7,406.2 168.2,405.3" fill="#77756b" opacity="0.71"/>
<polygon points="167.2,316.1 165.8,315.5 166.8,314.3" fill="#b0ad9a" opacity="0.73"/>
<polygon points="203.3,362.8 204.1,363.0 204.1,363.4 203.3,363.8 202.9,363.3" fill="#b0ad9a" opacity="0.72"/>
<polygon points="100.6,482.0 98.2,481.2 100.1,480.2" fill="#9c9a8a" opacity="0.55"/>
<polygon points="126.8,341.2 125.3,340.6 125.7,339.7 127.3,340.1" fill="#9c9a8a" opacity="0.82"/>
<polygon points="135.6,442.6 134.8,442.7 134.2,441.8 135.1,441.5 135.5,441.9" fill="#d9d7c9" opacity="0.74"/>
<polygon points="206.4,375.2 205.0,375.2 205.8,374.3" fill="#c9b48a" opacity="0.89"/>
<polygon points="221.2,411.8 220.0,412.8 217.9,411.2 219.7,410.6 220.4,410.9" fill="#a5a394" opacity="0.66"/>
<polygon points="101.9,399.7 103.2,400.9 101.1,402.3 99.5,401.6" fill="#e4e2d6" opacity="0.68"/>
<polygon points="179.5,397.2 179.5,396.7 180.3,396.7 180.3,397.3" fill="#a5a394" opacity="0.90"/>
<polygon points="137.8,439.1 138.6,438.5 139.2,439.5" fill="#77756b" opacity="0.71"/>
<polygon points="130.5,362.3 128.2,362.9 127.5,360.5 129.2,360.7" fill="#9c9a8a" opacity="0.67"/>
<polygon points="96.9,305.3 96.1,305.4 95.5,304.3 96.6,304.1" fill="#e9e7dc" opacity="0.94"/>
<polygon points="216.8,403.1 217.1,400.6 220.3,400.6 219.9,403.2" fill="#c9b48a" opacity="0.92"/>
<polygon points="153.6,331.8 153.7,332.7 152.5,332.1" fill="#d9d7c9" opacity="0.84"/>
<polygon points="226.6,300.1 227.1,299.8 227.5,300.6 226.4,301.2" fill="#a5a394" opacity="0.68"/>
<polygon points="137.2,391.0 135.9,391.1 135.7,390.4 136.9,390.0 137.4,390.2" fill="#efeee6" opacity="0.85"/>
<polygon points="156.9,389.5 158.1,389.4 158.7,390.0 157.5,390.5" fill="#c9b48a" opacity="0.83"/>
<polygon points="228.3,374.0 228.0,373.4 229.6,373.1 229.5,374.4" fill="#a5a394" opacity="0.55"/>
<polygon points="103.5,301.2 105.4,302.1 104.1,304.0 101.6,302.7" fill="#d6d3c2" opacity="0.93"/>
<polygon points="224.1,445.1 222.2,445.1 222.5,443.8" fill="#77756b" opacity="0.56"/>
<polygon points="179.4,421.4 178.9,420.1 179.3,419.3 180.7,419.1 180.5,421.2" fill="#e4e2d6" opacity="0.55"/>
<polygon points="149.6,317.7 150.3,316.6 151.0,317.6" fill="#8f8d80" opacity="0.82"/>
<polygon points="178.7,433.7 175.6,434.5 174.3,433.2 175.6,431.9" fill="#77756b" opacity="0.95"/>
<polygon points="102.1,381.2 103.4,383.5 100.7,382.5" fill="#8f8d80" opacity="0.89"/>
<polygon points="192.7,410.1 193.5,409.6 194.0,410.2 193.6,410.9" fill="#e9e7dc" opacity="0.76"/>
<polygon points="178.3,379.3 178.2,379.9 177.5,380.2 176.9,379.4 177.8,378.9" fill="#d9d7c9" opacity="0.78"/>
<polygon points="200.5,368.7 199.8,368.8 199.7,368.4" fill="#e9e7dc" opacity="0.70"/>
<polygon points="204.3,392.6 204.0,391.5 205.0,391.8 205.6,392.6" fill="#efeee6" opacity="0.73"/>
<polygon points="120.8,461.1 120.9,458.6 122.9,459.6" fill="#e9e7dc" opacity="0.56"/>
<polygon points="207.9,469.5 206.0,469.3 206.4,468.5 207.5,468.4" fill="#c9b48a" opacity="0.72"/>
<polygon points="127.2,377.3 128.1,376.9 128.9,377.5 128.2,378.1" fill="#d6d3c2" opacity="0.69"/>
<polygon points="212.8,425.2 214.9,427.1 212.7,428.5" fill="#dedccf" opacity="0.72"/>
<polygon points="225.5,370.2 223.5,371.4 222.5,369.2" fill="#d6d3c2" opacity="0.64"/>
<polygon points="189.9,392.5 190.6,392.9 190.1,394.2 188.8,393.8" fill="#e4e2d6" opacity="0.67"/>
<polygon points="159.5,310.0 159.9,309.4 160.7,310.4 160.0,310.6" fill="#9c9a8a" opacity="0.85"/>
<polygon points="160.4,455.5 160.0,454.9 160.3,454.5 161.1,454.9 161.0,455.5" fill="#a5a394" opacity="0.61"/>
<polygon points="229.5,408.2 229.3,408.9 228.8,409.0 228.5,408.3 228.6,407.8" fill="#8f8d80" opacity="0.58"/>
<polygon points="150.3,451.6 150.6,452.4 150.3,453.0 149.5,452.8 149.5,451.8" fill="#b0ad9a" opacity="0.90"/>
<polygon points="112.7,391.3 115.0,390.5 116.0,391.1 114.6,392.4" fill="#e4e2d6" opacity="0.60"/>
<polygon points="162.2,413.1 161.9,411.2 163.2,411.2 164.1,412.4" fill="#9c9a8a" opacity="0.85"/>
<polygon points="215.9,323.7 215.5,322.4 217.2,323.1" fill="#d6d3c2" opacity="0.86"/>
<polygon points="159.5,309.2 157.6,307.9 159.2,307.4 160.7,308.2" fill="#e9e7dc" opacity="0.60"/>
<polygon points="163.3,390.5 161.6,390.7 163.5,389.3" fill="#e4e2d6" opacity="0.90"/>
<polygon points="110.9,455.3 108.3,454.2 113.1,452.9" fill="#c9b48a" opacity="0.58"/>
<polygon points="118.4,411.0 116.9,410.3 118.0,409.7" fill="#a5a394" opacity="0.57"/>
<polygon points="194.5,353.2 193.5,353.5 193.2,352.8 194.2,352.6" fill="#dedccf" opacity="0.89"/>
<polygon points="173.3,296.4 173.8,297.5 172.9,298.6 171.5,298.4 171.8,296.8" fill="#77756b" opacity="0.65"/>
<polygon points="207.9,476.7 206.3,476.9 206.4,475.6" fill="#77756b" opacity="0.64"/>
<polygon points="107.1,387.1 106.7,388.0 105.8,388.1 105.3,387.1 105.6,386.9" fill="#8f8d80" opacity="0.63"/>
<polygon points="177.9,397.7 178.1,397.0 178.9,397.4" fill="#efeee6" opacity="0.56"/>
<polygon points="113.5,364.8 113.4,363.9 114.5,364.1" fill="#e4e2d6" opacity="0.60"/>
<polygon points="221.2,466.2 219.0,465.6 219.6,463.3 222.8,464.9" fill="#77756b" opacity="0.58"/>
<polygon points="210.0,404.3 211.4,403.2 212.4,403.9 211.2,404.9" fill="#d6d3c2" opacity="0.61"/>
<polygon points="159.9,427.4 158.8,427.5 158.9,426.6 159.8,426.7" fill="#d9d7c9" opacity="0.63"/>
<polygon points="172.1,309.8 172.4,309.4 173.3,309.1 173.3,310.2 172.8,310.5" fill="#77756b" opacity="0.66"/>
<polygon points="204.1,425.8 202.2,427.0 201.3,426.0 202.7,424.8" fill="#a5a394" opacity="0.57"/>
<polygon points="106.0,324.8 103.7,326.1 102.3,324.5 103.7,322.8" fill="#dedccf" opacity="0.60"/>
<polygon points="158.1,345.0 155.9,345.2 154.8,343.0 158.3,342.3" fill="#77756b" opacity="0.68"/>
<polygon points="94.7,451.3 95.2,451.0 96.0,451.4 95.2,452.0" fill="#a5a394" opacity="0.90"/>
<polygon points="144.2,480.9 144.3,481.8 143.4,481.9 143.2,481.2" fill="#d9d7c9" opacity="0.84"/>
<polygon points="171.2,329.8 172.2,329.3 172.9,330.3 172.5,330.7 171.7,330.7" fill="#d9d7c9" opacity="0.71"/>
<polygon points="217.3,467.9 215.9,468.4 215.5,467.1 215.9,466.3 217.7,466.9" fill="#9c9a8a" opacity="0.63"/>
<polygon points="140.1,364.8 141.0,364.2 141.4,364.8 140.7,365.2" fill="#a5a394" opacity="0.80"/>
<polygon points="225.2,381.2 224.1,379.6 225.6,378.4 226.5,379.9" fill="#d6d3c2" opacity="0.58"/>
<polygon points="161.3,469.4 160.2,470.0 159.6,468.7 161.1,469.0" fill="#c9b48a" opacity="0.90"/>
<polygon points="103.7,472.5 102.6,473.3 102.0,472.9 102.3,472.3 103.0,472.2" fill="#d6d3c2" opacity="0.60"/>
<polygon points="211.6,411.1 211.0,410.5 212.0,410.1" fill="#dedccf" opacity="0.88"/>
<polygon points="120.2,331.8 122.0,331.3 122.4,333.4" fill="#d6d3c2" opacity="0.83"/>
<polygon points="99.9,434.0 99.2,434.9 98.4,434.6 98.8,433.7" fill="#dedccf" opacity="0.89"/>
<polygon points="225.9,396.9 227.2,395.3 228.6,395.6 228.3,397.1 227.2,397.3" fill="#e9e7dc" opacity="0.78"/>
<polygon points="122.2,436.7 123.2,434.6 125.0,435.9 123.8,437.0" fill="#efeee6" opacity="0.60"/>
<polygon points="113.3,403.4 112.3,401.7 113.8,400.6 115.2,400.9 114.9,402.0" fill="#c9b48a" opacity="0.79"/>
<polygon points="107.3,370.0 106.8,370.8 105.8,370.3 106.3,369.3" fill="#9c9a8a" opacity="0.85"/>
<polygon points="166.5,366.9 165.8,365.5 168.1,364.8 167.9,367.0" fill="#77756b" opacity="0.72"/>
<polygon points="205.3,395.5 204.9,395.1 205.8,394.4 206.5,395.1 206.4,395.4" fill="#e4e2d6" opacity="0.61"/>
<polygon points="208.9,399.4 208.6,399.0 208.8,398.7 209.5,398.8" fill="#d9d7c9" opacity="0.73"/>
<polygon points="168.2,473.6 169.1,474.3 167.4,475.0" fill="#d6d3c2" opacity="0.77"/>
<polygon points="194.6,449.3 193.6,449.3 194.4,448.1 195.1,448.7" fill="#e9e7dc" opacity="0.93"/>
<polygon points="121.5,302.7 120.3,302.0 121.6,301.3" fill="#e4e2d6" opacity="0.75"/>
<polygon points="103.7,394.7 103.4,394.2 104.1,394.1 104.0,394.6" fill="#d6d3c2" opacity="0.89"/>
<polygon points="163.9,423.0 161.8,423.2 161.5,421.0 163.6,421.2" fill="#77756b" opacity="0.74"/>
<polygon points="195.6,310.2 194.7,309.8 195.0,309.2 196.0,309.4" fill="#c9b48a" opacity="0.84"/>
<polygon points="208.9,437.6 207.1,438.1 204.7,436.1 205.3,435.1 208.3,434.8" fill="#9c9a8a" opacity="0.82"/>
<polygon points="155.3,475.1 158.4,475.1 158.7,476.0 157.4,477.4 155.3,476.8" fill="#d6d3c2" opacity="0.76"/>
<polygon points="217.9,353.8 218.7,354.8 218.1,355.2 217.2,354.8 217.5,353.9" fill="#8f8d80" opacity="0.82"/>
<polygon points="109.0,295.4 109.5,296.1 109.0,296.3 108.2,296.1" fill="#9c9a8a" opacity="0.64"/>
<polygon points="209.9,456.8 211.1,456.3 210.9,457.4" fill="#e9e7dc" opacity="0.89"/>
<polygon points="196.9,410.2 196.3,412.0 193.7,410.7 194.4,409.2" fill="#8f8d80" opacity="0.84"/>
<polygon points="162.9,466.4 161.5,465.8 162.2,464.9" fill="#d9d7c9" opacity="0.82"/>
<polygon points="153.3,351.1 154.8,351.6 154.4,352.5 153.2,351.8" fill="#a5a394" opacity="0.95"/>
<polygon points="176.4,465.6 173.0,463.7 175.9,462.5" fill="#b0ad9a" opacity="0.64"/>
<polygon points="177.1,317.0 177.2,317.7 175.9,317.7 176.3,316.7" fill="#a5a394" opacity="0.74"/>
<polygon points="121.8,469.7 123.0,469.7 123.2,470.4 122.5,470.8" fill="#b0ad9a" opacity="0.90"/>
<polygon points="191.9,336.5 191.7,337.4 191.1,337.7 190.2,337.2 190.4,336.2" fill="#9c9a8a" opacity="0.84"/>
<polygon points="144.2,435.3 144.4,436.1 143.5,435.8" fill="#9c9a8a" opacity="0.84"/>
<polygon points="214.1,479.8 213.8,478.9 215.1,478.7 215.3,479.4" fill="#dedccf" opacity="0.66"/>
<polygon points="206.5,337.8 205.9,337.5 205.5,337.0 206.5,336.6 206.9,337.0" fill="#e4e2d6" opacity="0.94"/>
<polygon points="194.8,458.8 194.4,458.0 195.2,457.9" fill="#9c9a8a" opacity="0.82"/>
<polygon points="106.5,420.1 104.5,420.6 105.2,419.0" fill="#b0ad9a" opacity="0.87"/>
<polygon points="189.4,316.5 190.1,317.8 188.5,319.5 186.9,318.5" fill="#8f8d80" opacity="0.91"/>
<polygon points="144.4,398.7 144.3,400.5 142.1,401.0 141.6,398.6 143.1,398.2" fill="#c9b48a" opacity="0.76"/>
<polygon points="104.8,337.8 106.5,337.6 107.0,339.4 105.2,339.8 104.4,338.6" fill="#77756b" opacity="0.95"/>
<polygon points="174.0,415.1 173.6,416.8 171.3,415.7 172.3,413.8" fill="#d9d7c9" opacity="0.91"/>
<polygon points="130.6,439.8 132.8,439.2 134.8,440.4 132.2,441.8" fill="#e9e7dc" opacity="0.84"/>
<polygon points="199.5,310.8 200.0,310.6 200.2,310.9 199.6,311.3" fill="#e9e7dc" opacity="0.87"/>
<polygon points="201.2,416.7 200.9,416.1 201.7,415.9" fill="#efeee6" opacity="0.67"/>
<polygon points="168.9,305.8 169.0,306.4 168.4,306.5 168.1,306.2" fill="#efeee6" opacity="0.69"/>
<polygon points="194.0,297.9 195.4,299.7 193.9,300.3 192.2,300.3 192.4,297.9" fill="#e9e7dc" opacity="0.94"/>
<polygon points="140.4,338.1 141.7,337.9 141.9,338.6 141.2,339.2 140.2,338.6" fill="#efeee6" opacity="0.90"/>
<polygon points="160.4,296.4 159.9,295.8 160.5,295.5 161.3,295.9" fill="#d9d7c9" opacity="0.69"/>
<polygon points="221.4,452.3 222.8,451.7 222.3,453.0" fill="#e4e2d6" opacity="0.60"/>
<polygon points="151.9,306.7 153.7,306.6 152.8,308.0" fill="#b0ad9a" opacity="0.75"/>
<polygon points="119.5,471.6 119.9,471.3 120.6,471.7 119.7,472.3" fill="#c9b48a" opacity="0.71"/>
<polygon points="160.9,316.6 160.0,315.8 161.0,315.4 162.1,316.1" fill="#efeee6" opacity="0.59"/>
<polygon points="185.3,360.9 185.1,360.3 185.8,360.3 186.3,360.5 185.5,361.1" fill="#dedccf" opacity="0.56"/>
<polygon points="113.2,385.0 114.9,384.5 115.4,385.2 114.1,385.9" fill="#77756b" opacity="0.89"/>
<polygon points="184.4,488.6 184.0,487.4 185.3,487.6" fill="#b0ad9a" opacity="0.65"/>
<polygon points="101.4,366.8 103.1,366.6 102.1,367.7" fill="#e9e7dc" opacity="0.72"/>
<polygon points="155.4,382.4 154.1,382.3 154.2,381.1 156.1,381.7" fill="#e4e2d6" opacity="0.93"/>
<polygon points="160.8,321.8 159.5,321.5 159.5,320.5 160.5,320.2" fill="#9c9a8a" opacity="0.65"/>
<polygon points="130.0,329.4 130.3,328.3 131.1,329.3" fill="#77756b" opacity="0.87"/>
<polygon points="154.1,326.1 152.6,327.3 150.9,326.9 151.5,324.7 153.1,325.0" fill="#e4e2d6" opacity="0.83"/>
<polygon points="95.5,327.5 96.2,327.4 97.0,327.7 96.4,328.5 95.4,328.0" fill="#efeee6" opacity="0.63"/>
<polygon points="212.1,358.9 212.6,358.4 213.1,358.8 212.8,359.2" fill="#d6d3c2" opacity="0.74"/>
<polygon points="195.1,483.7 197.6,482.3 197.5,484.0" fill="#77756b" opacity="0.64"/>
<polygon points="137.9,354.3 138.4,353.6 139.4,354.0" fill="#77756b" opacity="0.66"/>
<polygon points="185.5,473.3 184.5,473.2 184.5,472.7 185.6,472.9" fill="#c9b48a" opacity="0.61"/>
<polygon points="97.9,351.8 96.8,352.0 95.6,351.2 97.0,350.9" fill="#e9e7dc" opacity="0.68"/>
<polygon points="203.1,489.7 203.5,489.3 203.8,489.3 204.3,490.1 203.6,490.2" fill="#77756b" opacity="0.88"/>
<polygon points="112.7,489.9 111.8,488.2 113.4,488.0 113.9,489.6" fill="#9c9a8a" opacity="0.82"/>
<polygon points="158.3,313.4 159.6,311.9 161.2,312.3 161.5,314.0 159.5,314.9" fill="#d6d3c2" opacity="0.93"/>
<polygon points="199.5,371.2 199.3,372.2 198.3,371.8 198.8,371.2" fill="#9c9a8a" opacity="0.60"/>
<polygon points="209.8,470.1 211.2,471.1 209.4,472.4 208.4,472.5 208.2,470.2" fill="#b0ad9a" opacity="0.68"/>
<polygon points="175.2,335.1 173.6,334.7 175.0,332.7 176.4,334.0" fill="#e9e7dc" opacity="0.73"/>
<polygon points="221.2,343.3 221.5,344.8 220.4,344.7 220.1,343.6" fill="#efeee6" opacity="0.70"/>
<polygon points="162.6,339.1 161.6,339.6 160.3,339.5 161.3,337.9" fill="#e4e2d6" opacity="0.93"/>
<polygon points="119.1,423.3 120.3,423.3 120.5,424.9 118.9,425.4 118.9,424.4" fill="#77756b" opacity="0.80"/>
<polygon points="150.0,410.7 149.3,410.9 149.2,410.0 149.8,410.0" fill="#a5a394" opacity="0.68"/>
<polygon points="200.1,402.9 199.9,402.3 201.0,402.4" fill="#d6d3c2" opacity="0.92"/>
<polygon points="210.3,471.2 211.4,470.3 212.5,471.3 211.1,472.6" fill="#77756b" opacity="0.69"/>
<polygon points="152.8,376.2 152.0,376.1 152.2,375.5 152.8,375.3 153.1,375.9" fill="#d9d7c9" opacity="0.92"/>
<polygon points="221.4,463.7 224.3,463.4 225.1,465.6 223.3,466.4 221.3,465.7" fill="#a5a394" opacity="0.94"/>
<polygon points="163.5,473.6 162.3,475.3 160.9,476.5 159.2,474.2 160.1,472.8" fill="#a5a394" opacity="0.59"/>
<polygon points="174.7,337.5 176.4,335.0 178.5,335.3 177.4,337.3" fill="#e9e7dc" opacity="0.79"/>
<polygon points="109.9,338.5 108.9,338.5 108.9,337.6 109.6,337.4 110.2,338.0" fill="#d9d7c9" opacity="0.57"/>
<polygon points="113.6,374.4 115.1,374.5 115.4,376.6 113.1,376.0" fill="#9c9a8a" opacity="0.77"/>
<polygon points="109.9,362.0 108.5,361.2 110.3,361.1" fill="#efeee6" opacity="0.94"/>
<polygon points="186.9,382.0 187.5,382.0 187.7,382.3 187.0,382.4" fill="#efeee6" opacity="0.68"/>
<polygon points="132.5,315.9 132.3,317.0 131.0,316.4" fill="#d9d7c9" opacity="0.68"/>
<polygon points="146.0,337.1 146.1,338.4 144.4,338.1 145.0,336.7" fill="#77756b" opacity="0.88"/>
<polygon points="111.9,484.7 111.5,486.0 110.1,486.2 110.5,484.2" fill="#e9e7dc" opacity="0.91"/>
<polygon points="134.7,336.1 134.0,336.4 133.5,335.4 134.1,335.1 135.2,335.6" fill="#d9d7c9" opacity="0.79"/>
<polygon points="104.8,476.7 104.0,476.2 105.0,476.0" fill="#c9b48a" opacity="0.88"/>
<polygon points="220.5,434.3 221.3,434.6 221.3,435.3 220.1,435.1" fill="#e9e7dc" opacity="0.76"/>
<polygon points="121.4,447.2 122.8,448.4 121.3,449.6 118.8,448.8 119.2,447.8" fill="#c9b48a" opacity="0.89"/>
<polygon points="155.4,353.3 156.2,353.7 155.3,354.0 154.8,353.6" fill="#b0ad9a" opacity="0.87"/>
<polygon points="171.9,436.8 172.3,435.1 175.3,434.8 174.4,437.6" fill="#dedccf" opacity="0.62"/>
<polygon points="155.6,477.8 157.6,479.0 156.7,480.2 154.3,479.3" fill="#dedccf" opacity="0.72"/>
<polygon points="114.7,447.9 115.6,448.9 114.1,449.5 113.7,448.2" fill="#a5a394" opacity="0.70"/>
<polygon points="156.4,412.9 155.6,413.9 154.9,413.1 156.0,412.2" fill="#efeee6" opacity="0.90"/>
<polygon points="157.1,484.6 157.4,483.3 158.7,483.9 158.3,484.9" fill="#77756b" opacity="0.66"/>
<polygon points="136.8,401.2 138.5,398.7 140.4,401.4" fill="#e9e7dc" opacity="0.58"/>
<polygon points="96.2,484.3 96.2,483.9 97.2,484.1 96.8,484.5" fill="#dedccf" opacity="0.72"/>
<polygon points="190.5,352.4 189.6,352.9 188.9,352.0 189.8,351.4" fill="#8f8d80" opacity="0.58"/>
<polygon points="216.6,313.2 217.6,315.0 216.0,315.3 214.7,313.6" fill="#a5a394" opacity="0.65"/>
<polygon points="136.1,374.1 136.4,376.1 133.2,375.4" fill="#c9b48a" opacity="0.71"/>
<polygon points="157.9,381.0 157.9,380.0 159.9,380.1 159.7,381.7 158.3,381.5" fill="#e4e2d6" opacity="0.71"/>
<polygon points="166.2,305.4 166.8,305.6 166.2,306.1 165.6,306.4 165.6,305.9" fill="#9c9a8a" opacity="0.85"/>
<polygon points="213.2,364.3 215.8,363.1 217.6,365.3" fill="#b0ad9a" opacity="0.72"/>
<polygon points="146.6,423.2 147.1,423.1 147.2,423.5 146.8,423.8 146.3,423.4" fill="#a5a394" opacity="0.62"/>
<polygon points="161.6,400.7 161.0,400.0 161.4,399.4 162.9,399.7 162.7,400.6" fill="#9c9a8a" opacity="0.80"/>
<polygon points="112.2,462.8 112.0,461.9 113.2,461.7 113.6,462.4" fill="#9c9a8a" opacity="0.82"/>
<polygon points="174.7,354.0 176.3,354.8 175.4,356.2 173.5,355.3 173.9,354.8" fill="#c9b48a" opacity="0.88"/>
<polygon points="157.0,383.4 157.6,383.7 157.5,384.0 156.7,383.7" fill="#c9b48a" opacity="0.72"/>
<polygon points="124.9,462.0 126.1,462.5 125.3,462.7" fill="#d6d3c2" opacity="0.58"/>
<polygon points="139.4,450.4 137.8,451.2 137.7,449.5" fill="#d9d7c9" opacity="0.68"/>
<polygon points="94.9,436.9 97.9,435.5 96.9,437.4" fill="#d9d7c9" opacity="0.59"/>
<polygon points="124.3,461.4 123.9,460.8 125.1,460.4 125.8,461.2" fill="#e4e2d6" opacity="0.84"/>
<polygon points="187.9,321.8 187.2,322.8 186.4,322.6 185.4,321.6 186.6,321.0" fill="#8f8d80" opacity="0.73"/>
<polygon points="217.2,370.5 218.1,369.5 218.9,370.1 218.6,371.3 217.7,371.6" fill="#9c9a8a" opacity="0.67"/>
<polygon points="220.5,397.7 218.0,397.5 219.0,395.6 220.5,396.7" fill="#b0ad9a" opacity="0.71"/>
<polygon points="101.9,373.8 104.0,373.8 102.5,374.9" fill="#c9b48a" opacity="0.94"/>
<polygon points="225.7,316.6 226.2,315.9 227.1,316.3 226.9,316.9" fill="#d9d7c9" opacity="0.68"/>
<polygon points="95.2,449.3 96.2,449.1 96.5,449.7 95.7,450.2" fill="#9c9a8a" opacity="0.70"/>
<polygon points="123.7,420.8 123.5,421.6 122.9,421.4 122.7,420.8 123.5,420.6" fill="#e4e2d6" opacity="0.64"/>
<polygon points="182.3,470.9 182.1,470.4 182.7,470.0 183.0,470.7" fill="#a5a394" opacity="0.67"/>
<polygon points="195.8,434.0 194.7,433.7 194.7,433.0 196.1,433.1" fill="#a5a394" opacity="0.83"/>
<polygon points="197.5,431.5 196.9,432.5 195.7,431.9 196.7,431.0" fill="#e9e7dc" opacity="0.79"/>
<polygon points="148.7,438.2 148.6,437.4 149.3,437.3 149.4,438.2" fill="#e9e7dc" opacity="0.88"/>
<polygon points="218.4,342.7 216.3,341.6 217.4,340.3 218.9,341.4" fill="#9c9a8a" opacity="0.77"/>
<polygon points="218.1,307.1 218.4,306.1 219.4,306.7" fill="#77756b" opacity="0.61"/>
<polygon points="124.2,326.9 123.8,326.0 125.3,325.5 126.3,327.0 125.4,327.3" fill="#e4e2d6" opacity="0.88"/>
<polygon points="136.1,343.9 136.4,344.3 135.8,344.5 135.6,344.0" fill="#efeee6" opacity="0.58"/>
<polygon points="184.5,374.6 184.1,375.0 183.1,374.7 183.7,374.0" fill="#b0ad9a" opacity="0.84"/>
<polygon points="161.6,477.6 160.9,478.4 160.4,477.7" fill="#e9e7dc" opacity="0.74"/>
<polygon points="189.6,454.3 191.1,454.4 190.5,455.4" fill="#e4e2d6" opacity="0.82"/>
<polygon points="119.3,361.4 118.0,361.5 118.1,360.7 118.8,360.1 119.5,360.5" fill="#dedccf" opacity="0.90"/>
<polygon points="133.4,434.2 132.7,434.7 131.8,434.2 132.7,433.7" fill="#c9b48a" opacity="0.85"/>
<polygon points="110.1,360.7 111.6,362.3 110.1,363.9 107.1,362.6 108.6,361.3" fill="#efeee6" opacity="0.93"/>
<polygon points="216.9,349.7 216.7,350.7 215.1,350.3 215.7,349.1" fill="#c9b48a" opacity="0.78"/>
<polygon points="134.3,295.2 134.8,294.9 135.2,295.2 135.3,295.5 134.4,295.6" fill="#8f8d80" opacity="0.92"/>
<polygon points="217.9,466.8 217.1,467.2 216.1,466.8 216.6,466.0 217.6,466.3" fill="#d6d3c2" opacity="0.77"/>
<polygon points="148.4,454.0 148.4,452.2 150.4,451.5 151.4,453.5" fill="#a5a394" opacity="0.70"/>
<polygon points="113.0,484.4 114.2,484.7 114.7,485.4 113.8,485.9 112.8,485.5" fill="#d9d7c9" opacity="0.72"/>
<polygon points="226.5,401.5 225.3,401.7 224.6,400.2 226.7,400.1" fill="#9c9a8a" opacity="0.75"/>
<polygon points="133.0,298.4 135.4,298.8 133.7,300.6 132.1,299.2" fill="#8f8d80" opacity="0.71"/>
<polygon points="152.0,432.4 151.8,431.6 152.7,431.1 153.0,432.2" fill="#a5a394" opacity="0.77"/>
<polygon points="116.6,442.0 114.4,439.3 117.8,440.0" fill="#77756b" opacity="0.59"/>
<polygon points="128.3,422.7 128.3,423.2 127.8,423.5 127.2,423.3 127.4,422.6" fill="#c9b48a" opacity="0.92"/>
<polygon points="117.0,319.8 118.4,320.2 117.5,321.1 116.5,320.2" fill="#e4e2d6" opacity="0.87"/>
<polygon points="169.8,366.8 169.3,365.8 169.9,365.0 171.1,365.4 171.4,366.7" fill="#d9d7c9" opacity="0.64"/>
<polygon points="148.7,459.7 147.3,458.9 148.1,458.1 148.9,458.6 149.3,459.2" fill="#9c9a8a" opacity="0.72"/>
<polygon points="124.4,308.4 123.1,309.1 122.1,308.7 123.2,307.9" fill="#e4e2d6" opacity="0.93"/>
<polygon points="154.4,474.6 153.2,476.4 151.7,474.6" fill="#efeee6" opacity="0.63"/>
<polygon points="106.9,477.6 108.4,476.6 109.7,477.2 109.9,478.0 108.0,478.4" fill="#d9d7c9" opacity="0.62"/>
<polygon points="163.4,338.7 164.4,338.4 164.6,339.2" fill="#e4e2d6" opacity="0.64"/>
<polygon points="99.5,379.0 99.7,379.7 98.5,380.0 98.2,379.3" fill="#e4e2d6" opacity="0.59"/>
<polygon points="190.5,363.5 192.2,362.0 194.1,362.3 193.8,364.5" fill="#b0ad9a" opacity="0.73"/>
<polygon points="226.7,468.5 226.8,467.9 227.3,467.9 227.8,468.1 227.4,468.6" fill="#8f8d80" opacity="0.57"/>
<polygon points="160.6,477.1 159.1,475.0 160.6,473.6 162.5,475.7" fill="#efeee6" opacity="0.81"/>
<polygon points="115.3,332.5 115.3,333.5 114.4,333.6 113.9,333.1 114.0,332.3" fill="#d9d7c9" opacity="0.82"/>
<polygon points="128.1,375.9 127.4,375.6 127.8,374.6 128.5,374.5 128.8,375.1" fill="#c9b48a" opacity="0.80"/>
<polygon points="139.5,417.6 139.2,419.1 137.8,419.6 136.9,418.2 138.1,417.5" fill="#d6d3c2" opacity="0.74"/>
<polygon points="134.2,328.1 135.0,328.7 134.1,329.3 133.2,329.1 132.9,328.5" fill="#c9b48a" opacity="0.57"/>
<polygon points="148.4,382.2 148.4,383.0 147.7,383.0 147.4,382.5 147.3,381.8" fill="#b0ad9a" opacity="0.76"/>
<polygon points="154.2,490.2 154.6,489.7 155.3,490.1 155.1,490.7 154.3,490.8" fill="#e9e7dc" opacity="0.93"/>
<polygon points="163.3,420.4 164.5,418.6 165.7,420.5" fill="#dedccf" opacity="0.69"/>
<polygon points="217.1,295.4 216.5,296.0 216.4,295.1" fill="#d9d7c9" opacity="0.84"/>
<polygon points="124.9,488.0 123.6,486.1 124.7,484.9 127.1,485.7 126.7,487.1" fill="#c9b48a" opacity="0.65"/>
<polygon points="209.6,409.3 210.5,408.7 211.1,409.6 210.2,410.0" fill="#b0ad9a" opacity="0.66"/>
<polygon points="179.2,451.2 181.2,450.5 181.7,451.6 180.5,453.1" fill="#efeee6" opacity="0.58"/>
<polygon points="226.5,343.0 226.3,344.0 225.3,344.0 225.3,343.4 226.1,342.6" fill="#e9e7dc" opacity="0.68"/>
<polygon points="189.7,413.5 188.3,413.7 189.4,412.4" fill="#dedccf" opacity="0.79"/>
<polygon points="169.7,469.3 170.9,469.4 171.3,471.2 170.4,471.6 169.1,470.5" fill="#9c9a8a" opacity="0.65"/>
<polygon points="140.0,312.9 139.5,312.3 140.5,311.9 141.2,312.7" fill="#d9d7c9" opacity="0.65"/>
<polygon points="151.6,432.8 151.2,432.1 151.6,431.6 152.3,432.4" fill="#e9e7dc" opacity="0.78"/>
<polygon points="119.6,297.4 118.7,297.7 118.0,297.4 119.0,296.8" fill="#8f8d80" opacity="0.67"/>
<polygon points="158.3,334.2 159.4,335.4 158.3,335.7 157.1,335.4 157.1,334.6" fill="#c9b48a" opacity="0.60"/>
<polygon points="208.4,455.3 207.0,456.0 207.1,454.7" fill="#8f8d80" opacity="0.64"/>
<polygon points="155.5,396.8 155.2,396.1 156.1,396.2 156.1,396.8" fill="#e9e7dc" opacity="0.61"/>
<polygon points="95.2,401.2 95.7,401.5 95.4,402.1 94.9,402.0" fill="#d6d3c2" opacity="0.61"/>
<polygon points="159.5,332.3 158.1,332.1 158.5,331.0" fill="#e9e7dc" opacity="0.63"/>
<polygon points="110.2,393.4 109.8,395.9 107.0,395.0 108.9,393.5" fill="#9c9a8a" opacity="0.62"/>
<polygon points="178.1,301.1 177.2,301.3 177.4,300.9" fill="#e4e2d6" opacity="0.89"/>
<polygon points="195.6,321.6 195.3,321.1 196.0,320.8 196.8,321.0 196.4,321.8" fill="#e9e7dc" opacity="0.66"/>
<polygon points="95.1,456.3 97.1,456.8 95.6,458.2" fill="#9c9a8a" opacity="0.66"/>
<polygon points="145.7,412.7 145.0,409.9 148.0,409.5 148.3,411.4" fill="#9c9a8a" opacity="0.76"/>
<polygon points="226.2,485.6 225.6,485.5 225.4,485.0 225.9,484.7 226.5,485.1" fill="#c9b48a" opacity="0.68"/>
<polygon points="182.0,300.7 185.0,298.7 185.6,301.7" fill="#d9d7c9" opacity="0.91"/>
<polygon points="151.6,468.3 150.0,469.7 149.2,468.6 150.4,467.4" fill="#8f8d80" opacity="0.76"/>
<polygon points="119.3,311.5 120.3,312.6 118.3,313.0" fill="#9c9a8a" opacity="0.72"/>
<polygon points="162.3,314.0 161.9,315.7 159.1,315.6 159.2,314.3" fill="#d6d3c2" opacity="0.78"/>
<polygon points="111.8,452.9 112.2,452.1 113.0,452.5 112.9,453.3" fill="#a5a394" opacity="0.79"/>
<polygon points="108.3,469.9 106.4,468.6 109.6,467.8" fill="#d9d7c9" opacity="0.63"/>
<polygon points="153.5,432.0 154.3,432.3 153.9,433.0 153.2,432.7" fill="#e9e7dc" opacity="0.61"/>
<polygon points="125.2,313.5 124.4,312.4 125.8,311.5 127.0,312.2" fill="#efeee6" opacity="0.55"/>
<polygon points="96.8,457.9 96.9,456.8 97.8,456.8 98.1,458.0" fill="#dedccf" opacity="0.57"/>
<polygon points="123.5,399.8 125.0,400.6 123.3,400.9" fill="#d9d7c9" opacity="0.57"/>
<polygon points="133.2,396.2 133.4,397.5 131.2,398.4 131.1,395.6" fill="#b0ad9a" opacity="0.73"/>
<polygon points="165.1,339.2 165.6,340.7 165.4,341.6 163.2,341.1 162.9,339.5" fill="#dedccf" opacity="0.60"/>
<polygon points="223.5,328.8 223.3,329.4 222.5,329.3" fill="#9c9a8a" opacity="0.56"/>
<polygon points="128.5,375.9 127.2,375.6 128.3,374.7 129.2,375.0" fill="#8f8d80" opacity="0.65"/>
<polygon points="197.7,335.8 198.5,336.0 198.1,336.6 197.5,336.3" fill="#77756b" opacity="0.84"/>
<polygon points="179.7,434.6 178.1,433.6 178.6,432.5 180.1,432.5 180.8,433.5" fill="#c9b48a" opacity="0.81"/>
<polygon points="149.8,469.2 148.0,468.4 148.1,467.4 149.9,467.6" fill="#efeee6" opacity="0.89"/>
<polygon points="158.1,360.6 156.7,359.8 158.3,359.0 158.6,359.8" fill="#d6d3c2" opacity="0.73"/>
<polygon points="184.6,381.8 187.2,383.1 184.7,383.9" fill="#dedccf" opacity="0.86"/>
<polygon points="176.2,327.4 176.6,327.7 176.2,328.0 175.4,328.0 175.2,327.6" fill="#b0ad9a" opacity="0.88"/>
<polygon points="218.9,491.1 220.1,492.1 219.5,492.7 218.2,492.7 217.9,491.7" fill="#e4e2d6" opacity="0.63"/>
<polygon points="223.8,435.1 222.6,434.2 224.0,432.4 226.0,433.6" fill="#d6d3c2" opacity="0.68"/>
<polygon points="158.6,336.6 159.2,338.0 158.1,338.7 156.9,337.5" fill="#e4e2d6" opacity="0.95"/>
<polygon points="116.0,314.5 114.3,313.4 115.8,312.3 117.8,312.9 117.4,314.0" fill="#8f8d80" opacity="0.73"/>
<polygon points="118.6,329.6 117.8,329.7 117.5,329.3 117.6,328.9 118.3,329.1" fill="#8f8d80" opacity="0.87"/>
<polygon points="183.9,377.2 184.0,375.6 185.9,375.7 186.3,376.5 184.8,377.8" fill="#b0ad9a" opacity="0.64"/>
<polygon points="123.4,367.1 123.9,366.2 124.6,366.3 125.1,367.1 124.4,367.4" fill="#e4e2d6" opacity="0.65"/>
<polygon points="202.8,438.7 201.4,438.3 202.6,436.9 203.8,437.8" fill="#8f8d80" opacity="0.71"/>
<polygon points="169.4,482.8 171.0,483.1 169.1,484.3 168.0,483.4" fill="#77756b" opacity="0.89"/>
<polygon points="220.0,303.9 218.7,302.7 221.0,300.8 221.4,301.6 221.4,303.3" fill="#d9d7c9" opacity="0.72"/>
<polygon points="181.1,430.3 182.2,430.1 183.1,430.6 182.4,431.1 181.1,431.1" fill="#e4e2d6" opacity="0.64"/>
<polygon points="135.5,299.1 136.4,299.8 135.0,300.9 134.0,299.3" fill="#b0ad9a" opacity="0.75"/>
<polygon points="146.4,361.9 144.7,365.2 143.0,361.8" fill="#9c9a8a" opacity="0.65"/>
<polygon points="168.0,465.2 168.5,465.7 167.9,465.9 167.4,465.6" fill="#e9e7dc" opacity="0.77"/>
<polygon points="207.6,295.8 208.3,295.3 208.9,295.7 208.3,296.4" fill="#d9d7c9" opacity="0.59"/>
<polygon points="189.3,302.7 188.9,302.0 189.5,301.8 190.0,302.6" fill="#9c9a8a" opacity="0.69"/>
<polygon points="119.1,471.2 120.3,470.1 121.9,470.8 120.9,472.1" fill="#77756b" opacity="0.61"/>
<polygon points="128.7,466.4 129.2,467.7 127.9,469.1 126.8,467.1" fill="#e4e2d6" opacity="0.76"/>
<polygon points="159.7,354.6 159.7,353.8 160.6,353.4 161.2,354.1 161.2,354.6" fill="#8f8d80" opacity="0.81"/>
<polygon points="99.1,460.6 99.5,460.3 99.9,460.9 99.2,461.1" fill="#a5a394" opacity="0.64"/>
<polygon points="204.2,446.4 204.5,447.2 203.3,447.4 203.4,446.3" fill="#b0ad9a" opacity="0.86"/>
<polygon points="130.9,395.1 131.9,394.6 133.4,395.1 132.1,396.3" fill="#77756b" opacity="0.87"/>
<polygon points="126.5,367.4 128.1,367.5 127.4,368.6 126.5,368.0" fill="#b0ad9a" opacity="0.85"/>
<polygon points="180.6,298.5 181.8,297.9 182.1,298.5 181.5,298.8" fill="#efeee6" opacity="0.63"/>
<polygon points="161.1,374.4 159.9,373.1 160.9,372.1 162.1,373.6" fill="#d9d7c9" opacity="0.74"/>
<polygon points="196.9,373.9 197.0,375.2 196.0,375.4 194.6,374.8 195.8,373.5" fill="#a5a394" opacity="0.85"/>
<polygon points="133.9,308.2 133.0,308.2 133.2,307.5 134.3,307.6" fill="#77756b" opacity="0.56"/>
<polygon points="110.0,469.1 109.8,469.4 108.7,469.2 109.2,468.8" fill="#c9b48a" opacity="0.87"/>
<polygon points="181.1,476.2 183.1,476.8 181.8,478.2 179.7,477.4" fill="#b0ad9a" opacity="0.94"/>
<polygon points="220.8,436.4 220.7,435.8 221.6,435.7 221.9,436.6" fill="#c9b48a" opacity="0.72"/>
<polygon points="100.8,482.0 101.9,482.2 101.8,483.2 100.8,483.0" fill="#d9d7c9" opacity="0.59"/>
<polygon points="169.0,339.3 170.1,339.4 169.7,340.0 168.8,339.9" fill="#8f8d80" opacity="0.66"/>
<polygon points="111.5,470.5 110.6,471.4 109.8,470.1 110.9,469.5" fill="#dedccf" opacity="0.80"/>
<polygon points="162.0,485.3 162.5,484.8 163.1,485.6" fill="#d6d3c2" opacity="0.56"/>
<polygon points="179.4,396.1 179.0,396.1 178.6,395.7 179.5,395.4" fill="#8f8d80" opacity="0.68"/>
<polygon points="204.3,298.0 202.6,298.0 202.2,297.0 202.8,296.5 203.9,296.7" fill="#d9d7c9" opacity="0.57"/>
<polygon points="196.7,493.8 196.9,495.2 195.5,496.4 194.6,495.1" fill="#efeee6" opacity="0.59"/>
<polygon points="201.5,477.2 202.2,477.6 201.8,478.0 201.0,477.9 201.0,477.4" fill="#c9b48a" opacity="0.91"/>
<polygon points="193.1,361.4 194.2,361.1 194.3,361.7 193.7,362.1 193.1,361.8" fill="#e9e7dc" opacity="0.77"/>
<polygon points="192.3,411.8 193.8,411.9 194.1,412.9 193.7,413.6 191.8,413.2" fill="#dedccf" opacity="0.82"/>
<polygon points="183.7,421.5 183.2,421.7 182.8,421.4 183.3,420.9" fill="#d9d7c9" opacity="0.85"/>
<polygon points="149.5,363.5 149.0,363.1 149.9,362.8 150.4,362.9 149.8,363.5" fill="#8f8d80" opacity="0.90"/>
<polygon points="167.7,492.6 168.9,492.5 169.6,493.3 168.1,493.6" fill="#e4e2d6" opacity="0.68"/>
<polygon points="182.7,432.3 184.5,431.0 185.7,432.6 183.7,433.6" fill="#dedccf" opacity="0.59"/>
<polygon points="113.6,336.1 113.9,335.4 115.0,335.8 114.6,336.6 113.9,336.5" fill="#e4e2d6" opacity="0.72"/>
<polygon points="178.8,413.7 179.0,413.0 179.6,413.3 179.8,413.8" fill="#e9e7dc" opacity="0.94"/>
<polygon points="95.6,458.8 96.6,459.2 96.4,459.7 95.6,459.6" fill="#a5a394" opacity="0.64"/>
<polygon points="216.1,326.1 218.6,325.1 219.4,326.5 217.0,327.2" fill="#d9d7c9" opacity="0.72"/>
<polygon points="142.8,449.5 143.8,448.8 143.8,449.9" fill="#8f8d80" opacity="0.80"/>
<polygon points="136.9,358.5 136.4,357.8 136.6,357.4 137.5,357.8" fill="#d6d3c2" opacity="0.56"/>
<polygon points="116.7,494.3 116.8,495.1 116.1,495.9 114.7,494.8 115.7,493.7" fill="#c9b48a" opacity="0.61"/>
<polygon points="128.5,305.4 127.4,306.5 125.5,305.6 126.5,304.6" fill="#e4e2d6" opacity="0.60"/>
<polygon points="189.0,298.6 188.3,298.7 188.1,297.7 188.8,297.2 189.5,298.0" fill="#d9d7c9" opacity="0.65"/>
<polygon points="208.4,317.0 208.5,316.2 209.9,316.6 209.2,317.6" fill="#d6d3c2" opacity="0.75"/>
<polygon points="203.1,349.9 202.8,348.6 204.4,347.5 205.1,349.2" fill="#c9b48a" opacity="0.91"/>
<polygon points="166.5,313.1 166.3,312.8 166.9,312.2 167.9,312.9 167.5,313.4" fill="#e4e2d6" opacity="0.68"/>
<polygon points="168.4,401.2 168.5,401.7 168.2,402.1 167.6,402.1 167.6,401.5" fill="#a5a394" opacity="0.79"/>
<polygon points="95.1,397.0 98.7,396.9 97.6,399.0" fill="#e9e7dc" opacity="0.93"/>
<polygon points="124.3,397.8 124.4,394.6 127.0,397.0" fill="#e9e7dc" opacity="0.62"/>
<polygon points="113.9,357.8 114.7,357.8 115.2,358.2 114.5,358.7 113.8,358.3" fill="#9c9a8a" opacity="0.71"/>
<polygon points="175.0,412.5 175.4,412.4 175.9,412.6 175.5,413.3 174.8,413.1" fill="#efeee6" opacity="0.92"/>
<polygon points="157.3,355.1 156.7,357.6 154.5,357.6 154.1,355.1" fill="#d6d3c2" opacity="0.74"/>
<polygon points="167.7,298.7 168.0,298.2 168.6,298.3 168.2,299.0" fill="#b0ad9a" opacity="0.88"/>
<polygon points="190.7,415.4 189.3,415.5 189.6,414.1" fill="#77756b" opacity="0.84"/>
<polygon points="196.0,328.0 195.3,327.6 195.9,326.9 196.4,327.3" fill="#e4e2d6" opacity="0.61"/>
<polygon points="102.1,298.5 101.6,298.5 101.6,298.2 102.1,298.0" fill="#c9b48a" opacity="0.57"/>
<polygon points="197.2,438.1 197.2,439.1 196.3,438.6" fill="#9c9a8a" opacity="0.89"/>
<polygon points="139.6,443.3 139.2,443.4 138.5,443.0 139.3,442.6" fill="#efeee6" opacity="0.93"/>
<polygon points="197.9,414.2 197.0,414.1 197.6,413.5 198.2,413.7" fill="#9c9a8a" opacity="0.59"/>
<polygon points="149.3,461.9 149.7,462.7 148.7,463.4 147.7,462.7 148.3,461.7" fill="#77756b" opacity="0.92"/>
<polygon points="120.2,418.2 119.4,419.9 118.3,418.5" fill="#9c9a8a" opacity="0.64"/>
<polygon points="202.7,306.7 201.7,307.3 200.8,306.8 201.4,306.0 202.3,306.0" fill="#b0ad9a" opacity="0.66"/>
<polygon points="116.9,457.8 117.3,457.5 118.7,457.5 118.4,458.3 117.1,458.5" fill="#9c9a8a" opacity="0.67"/>
<polygon points="111.9,479.8 112.6,479.1 113.3,480.2" fill="#d9d7c9" opacity="0.94"/>
<polygon points="163.1,381.6 162.6,381.3 163.3,380.5 163.9,381.1 163.9,381.6" fill="#d6d3c2" opacity="0.77"/>
<polygon points="174.0,373.7 172.6,371.2 175.0,369.9 175.9,372.3" fill="#77756b" opacity="0.65"/>
<polygon points="177.4,464.1 176.6,463.6 176.4,462.9 177.3,462.6 178.0,463.5" fill="#e4e2d6" opacity="0.88"/>
<polygon points="175.5,319.2 174.7,319.2 174.2,318.5 175.3,318.5" fill="#d9d7c9" opacity="0.91"/>
<polygon points="117.1,393.7 116.7,392.9 117.9,392.5 118.3,393.3" fill="#d9d7c9" opacity="0.82"/>
<polygon points="215.9,379.8 216.6,379.0 218.1,379.6 217.6,380.3" fill="#e4e2d6" opacity="0.65"/>
<polygon points="189.8,479.2 188.8,479.7 188.2,478.8 189.2,478.4" fill="#dedccf" opacity="0.77"/>
<polygon points="120.8,453.6 119.6,453.8 119.9,452.8" fill="#8f8d80" opacity="0.82"/>
<polygon points="138.5,333.4 138.8,333.9 138.8,334.7 137.9,334.5 137.8,334.0" fill="#a5a394" opacity="0.91"/>
<polygon points="184.1,461.7 184.9,462.3 185.0,462.8 184.0,462.8 183.4,462.1" fill="#9c9a8a" opacity="0.93"/>
<polygon points="218.3,466.0 217.0,466.1 218.0,465.2" fill="#d6d3c2" opacity="0.75"/>
<polygon points="209.1,298.8 208.2,297.9 209.4,297.3" fill="#e9e7dc" opacity="0.81"/>
<polygon points="201.6,388.1 202.3,388.3 201.7,388.8" fill="#77756b" opacity="0.68"/>
<polygon points="102.0,486.3 101.1,486.2 101.7,485.2 102.4,485.1 102.5,486.1" fill="#dedccf" opacity="0.72"/>
<polygon points="167.8,435.1 167.0,433.9 168.1,433.3 169.3,434.7" fill="#c9b48a" opacity="0.81"/>
<polygon points="192.9,363.7 194.0,363.8 193.8,365.1 192.9,364.7" fill="#d9d7c9" opacity="0.73"/>
<polygon points="174.2,402.9 173.7,402.8 173.9,402.0 174.4,402.0 175.0,402.3" fill="#e9e7dc" opacity="0.70"/>
<polygon points="133.9,336.6 133.4,337.3 132.6,336.9 133.1,336.0" fill="#c9b48a" opacity="0.88"/>
<polygon points="159.5,329.5 158.9,329.1 159.3,328.5 159.9,328.7" fill="#c9b48a" opacity="0.65"/>
<polygon points="122.0,460.9 121.2,461.5 120.7,461.1 121.1,460.6" fill="#a5a394" opacity="0.67"/>
<polygon points="200.3,325.2 203.6,325.9 201.8,328.0" fill="#d6d3c2" opacity="0.85"/>
<polygon points="221.2,372.7 221.6,370.5 224.1,370.0 224.3,372.8" fill="#8f8d80" opacity="0.61"/>
<polygon points="114.6,358.6 115.7,358.4 115.5,359.2 114.7,359.6" fill="#d6d3c2" opacity="0.79"/>
<polygon points="160.4,367.9 159.4,367.3 160.4,365.9 161.4,366.4" fill="#c9b48a" opacity="0.86"/>
<polygon points="139.4,390.3 140.4,390.1 140.5,390.8 139.9,391.0 139.2,390.7" fill="#77756b" opacity="0.56"/>
<polygon points="147.6,483.3 146.9,483.9 146.3,483.1 146.9,482.7" fill="#77756b" opacity="0.85"/>
<polygon points="200.0,306.7 199.8,304.5 201.9,303.9 202.4,306.0" fill="#b0ad9a" opacity="0.86"/>
<polygon points="95.9,308.1 94.9,308.2 95.4,307.4" fill="#d9d7c9" opacity="0.70"/>
<polygon points="203.4,322.8 203.7,323.3 202.8,323.5 202.5,322.6" fill="#b0ad9a" opacity="0.57"/>
<polygon points="113.5,461.5 112.2,460.5 113.9,459.0 115.0,460.2" fill="#e9e7dc" opacity="0.69"/>
<polygon points="185.2,323.8 185.3,322.5 187.0,322.3 187.6,323.5 186.5,324.1" fill="#d9d7c9" opacity="0.62"/>
<polygon points="131.7,411.4 131.2,410.3 133.3,409.9" fill="#d9d7c9" opacity="0.62"/>
<polygon points="120.9,404.7 119.2,404.9 119.1,403.6 120.4,403.6" fill="#efeee6" opacity="0.87"/>
<polygon points="206.9,489.6 207.8,489.3 208.0,490.2 207.2,490.2" fill="#efeee6" opacity="0.86"/>
<polygon points="124.7,303.4 125.6,303.9 125.7,304.5 124.3,304.4" fill="#e9e7dc" opacity="0.58"/>
<polygon points="213.5,308.4 215.5,309.1 213.5,310.7 212.1,309.2" fill="#efeee6" opacity="0.72"/>
<polygon points="101.3,442.5 101.3,442.0 102.2,440.5 103.5,441.2 103.3,442.6" fill="#e4e2d6" opacity="0.63"/>
<polygon points="166.8,429.5 167.0,428.3 168.1,428.4 168.4,429.6" fill="#a5a394" opacity="0.62"/>
<polygon points="102.7,472.8 101.2,471.8 102.7,470.3 104.2,470.6" fill="#8f8d80" opacity="0.63"/>
<polygon points="195.2,415.1 196.0,413.5 196.9,415.3" fill="#b0ad9a" opacity="0.62"/>
<polygon points="145.5,297.5 146.1,297.6 146.1,298.0 145.2,298.2 145.4,297.7" fill="#efeee6" opacity="0.67"/>
<polygon points="227.3,365.7 226.4,366.3 225.6,365.3 226.6,364.9" fill="#e9e7dc" opacity="0.91"/>
<polygon points="95.2,356.5 94.6,356.2 94.9,355.6 95.7,355.6" fill="#b0ad9a" opacity="0.88"/>
<polygon points="148.5,435.2 151.0,436.0 149.8,438.9 147.4,436.8" fill="#d6d3c2" opacity="0.83"/>
<polygon points="191.5,426.7 189.0,426.4 190.0,425.4" fill="#a5a394" opacity="0.77"/>
<polygon points="144.3,450.9 144.5,451.5 143.7,451.9 143.5,450.9" fill="#efeee6" opacity="0.62"/>
<polygon points="140.8,325.3 139.6,324.0 141.1,323.6" fill="#dedccf" opacity="0.92"/>
<polygon points="210.8,378.5 209.1,380.3 208.1,379.1" fill="#8f8d80" opacity="0.83"/>
<polygon points="224.8,383.7 224.3,384.4 223.6,383.5 224.5,383.4" fill="#e9e7dc" opacity="0.63"/>
<polygon points="145.4,386.3 145.0,385.5 146.6,385.2 146.5,386.5" fill="#77756b" opacity="0.64"/>
<polygon points="147.1,434.7 147.0,435.8 146.2,435.8 146.3,434.8" fill="#d9d7c9" opacity="0.55"/>
<polygon points="219.3,412.4 221.8,412.9 220.6,414.4 218.9,414.1" fill="#e4e2d6" opacity="0.87"/>
<polygon points="187.1,344.6 186.4,344.6 186.0,344.0 187.1,343.8" fill="#d6d3c2" opacity="0.61"/>
<polygon points="125.0,485.0 124.9,484.0 126.8,484.1 127.3,485.3" fill="#77756b" opacity="0.57"/>
<polygon points="227.6,349.6 229.3,349.6 228.0,350.6" fill="#e4e2d6" opacity="0.93"/>
<polygon points="168.4,403.1 170.4,401.9 170.9,403.7" fill="#8f8d80" opacity="0.68"/>
<polygon points="163.3,476.3 162.4,476.3 161.6,475.8 161.9,475.2 163.3,475.3" fill="#efeee6" opacity="0.61"/>
<polygon points="122.6,377.8 124.0,377.6 124.2,378.6" fill="#e9e7dc" opacity="0.94"/>
<polygon points="196.1,342.1 195.1,342.7 194.3,342.4 195.2,341.5" fill="#c9b48a" opacity="0.59"/>
<polygon points="118.2,484.9 118.7,484.8 119.3,485.2 118.8,485.6 118.0,485.3" fill="#e9e7dc" opacity="0.66"/>
<polygon points="213.1,379.5 214.1,379.2 213.9,380.1 213.2,380.2" fill="#77756b" opacity="0.57"/>
<polygon points="161.4,452.3 161.2,453.0 160.6,452.7 161.0,452.0" fill="#c9b48a" opacity="0.62"/>
<polygon points="103.1,448.2 103.5,447.3 104.3,448.1" fill="#efeee6" opacity="0.93"/>
<polygon points="135.1,359.8 134.5,359.2 135.2,358.9 135.5,359.4" fill="#d6d3c2" opacity="0.66"/>
<polygon points="174.0,389.3 172.7,388.3 175.6,387.6 178.1,388.1 176.9,390.6" fill="#77756b" opacity="0.77"/>
<polygon points="134.2,369.5 133.5,368.6 134.6,368.4 134.9,369.1" fill="#e4e2d6" opacity="0.66"/>
<polygon points="104.5,342.5 105.7,342.3 105.3,343.2" fill="#9c9a8a" opacity="0.55"/>
<polygon points="216.7,471.2 217.3,471.9 217.0,472.3 216.2,472.1" fill="#d9d7c9" opacity="0.81"/>
<polygon points="141.7,467.5 140.4,469.9 139.2,467.9" fill="#e9e7dc" opacity="0.71"/>
<polygon points="144.6,314.9 144.3,315.8 142.9,315.7 143.6,314.8" fill="#8f8d80" opacity="0.71"/>
<polygon points="219.6,402.7 220.2,402.4 220.8,402.9 220.4,403.1" fill="#d6d3c2" opacity="0.60"/>
<polygon points="166.5,460.9 167.2,459.7 168.6,460.0 169.2,461.3 167.6,461.7" fill="#9c9a8a" opacity="0.65"/>
<polygon points="111.5,476.7 109.2,475.9 111.3,474.3" fill="#9c9a8a" opacity="0.69"/>
<polygon points="151.2,326.7 152.7,326.9 151.1,328.3" fill="#e4e2d6" opacity="0.87"/>
<polygon points="216.8,298.9 216.1,300.1 214.8,299.3 215.7,298.5" fill="#efeee6" opacity="0.69"/>
<polygon points="207.3,479.4 210.5,480.9 206.6,481.4" fill="#efeee6" opacity="0.86"/>
<polygon points="166.9,428.0 165.8,426.6 166.1,425.8 167.6,425.2 168.7,426.5" fill="#8f8d80" opacity="0.68"/>
<polygon points="122.2,409.2 122.2,410.0 121.5,410.2 121.3,409.4" fill="#d9d7c9" opacity="0.88"/>
<polygon points="109.9,439.8 109.4,440.1 109.0,439.7 109.1,439.2 109.9,439.3" fill="#8f8d80" opacity="0.65"/>
<polygon points="178.4,445.3 178.8,444.8 179.8,444.5 180.3,445.0 180.4,445.8" fill="#dedccf" opacity="0.90"/>
<polygon points="197.3,324.2 196.0,324.8 196.1,323.6" fill="#e4e2d6" opacity="0.80"/>
<polygon points="156.3,340.6 156.1,339.2 157.3,339.1 157.5,339.9" fill="#b0ad9a" opacity="0.70"/>
<polygon points="177.3,416.5 176.6,416.8 176.2,416.0" fill="#d6d3c2" opacity="0.61"/>
<polygon points="193.6,411.1 194.0,411.7 192.9,412.0 192.6,411.5" fill="#d6d3c2" opacity="0.92"/>
<polygon points="179.7,400.8 182.5,399.3 181.9,402.5" fill="#e4e2d6" opacity="0.58"/>
<polygon points="110.1,374.8 108.7,375.5 108.9,374.4" fill="#d9d7c9" opacity="0.79"/>
<polygon points="102.0,312.5 102.6,313.2 102.1,314.0 101.3,313.1" fill="#e4e2d6" opacity="0.55"/>
<polygon points="208.5,372.7 207.5,372.3 208.3,371.9" fill="#9c9a8a" opacity="0.63"/>
<polygon points="193.1,336.7 192.8,338.5 191.0,338.1" fill="#c9b48a" opacity="0.61"/>
<polygon points="171.8,364.0 171.8,362.7 174.1,363.4 174.0,364.5" fill="#dedccf" opacity="0.68"/>
<polygon points="130.2,359.2 132.0,359.5 130.8,361.1" fill="#8f8d80" opacity="0.63"/>
<polygon points="137.2,359.6 136.6,359.2 137.1,358.6 137.8,359.0" fill="#e4e2d6" opacity="0.69"/>
<polygon points="179.4,384.2 179.8,384.9 179.2,385.0" fill="#dedccf" opacity="0.56"/>
<polygon points="106.2,309.3 108.1,309.1 109.1,310.3 107.5,310.8" fill="#9c9a8a" opacity="0.55"/>
<polygon points="174.5,317.7 175.4,317.6 175.7,318.0 175.5,318.3 174.4,318.3" fill="#b0ad9a" opacity="0.72"/>
<polygon points="115.5,331.3 115.5,329.9 117.5,328.7 119.5,331.0 117.9,332.0" fill="#8f8d80" opacity="0.60"/>
<polygon points="152.6,360.2 151.9,360.7 151.5,360.2 151.9,359.7" fill="#dedccf" opacity="0.60"/>
<polygon points="126.4,300.1 124.3,299.1 126.2,297.7" fill="#dedccf" opacity="0.75"/>
<polygon points="93.6,426.8 94.6,426.1 95.5,426.6 94.2,427.7" fill="#a5a394" opacity="0.72"/>
<polygon points="163.3,408.8 162.1,406.9 163.2,406.5 164.8,407.3" fill="#77756b" opacity="0.69"/>
<polygon points="223.9,313.2 224.5,313.7 224.2,314.6 222.6,314.2" fill="#b0ad9a" opacity="0.92"/>
<polygon points="177.1,330.6 176.3,331.5 175.4,331.0 176.0,330.6" fill="#d6d3c2" opacity="0.91"/>
<polygon points="144.1,306.9 143.0,307.1 142.2,306.5 142.8,305.7 144.0,305.9" fill="#b0ad9a" opacity="0.64"/>
<polygon points="171.4,451.3 172.8,450.0 174.2,451.0 172.6,452.3" fill="#e4e2d6" opacity="0.65"/>
<polygon points="206.6,395.7 204.6,397.1 203.8,396.1 205.0,394.7" fill="#8f8d80" opacity="0.88"/>
<polygon points="151.9,404.5 152.7,402.7 154.1,405.3" fill="#d6d3c2" opacity="0.76"/>
<polygon points="148.0,427.8 145.7,429.8 143.7,428.3 144.9,426.4" fill="#dedccf" opacity="0.62"/>
<polygon points="105.8,373.4 106.5,374.4 105.2,374.6 104.3,373.5" fill="#d6d3c2" opacity="0.71"/>
<polygon points="95.6,360.0 94.7,360.5 93.7,360.5 94.1,359.3" fill="#b0ad9a" opacity="0.95"/>
<polygon points="164.3,485.9 164.2,484.4 165.8,484.6 165.7,485.9" fill="#d6d3c2" opacity="0.92"/>
<polygon points="193.7,443.4 195.2,444.1 193.6,444.6" fill="#b0ad9a" opacity="0.74"/>
<polygon points="188.2,495.8 186.6,495.3 187.1,494.0 188.8,494.6" fill="#8f8d80" opacity="0.91"/>
<polygon points="192.6,440.4 195.1,440.8 194.1,442.6 192.6,441.8" fill="#d9d7c9" opacity="0.91"/>
<polygon points="162.3,435.8 163.8,435.4 164.3,436.3 163.8,437.3 162.4,437.1" fill="#9c9a8a" opacity="0.75"/>
<polygon points="224.1,309.0 224.7,307.6 226.4,308.1 226.7,309.7 225.3,310.5" fill="#e9e7dc" opacity="0.94"/>
<polygon points="203.5,318.0 202.4,316.8 203.2,316.4 204.7,317.4" fill="#dedccf" opacity="0.61"/>
<circle cx="184" cy="384" r="1.6" fill="#b98a2e" opacity="0.8"/>
<circle cx="173" cy="468" r="1.6" fill="#b98a2e" opacity="0.8"/>
<circle cx="148" cy="357" r="1.6" fill="#b98a2e" opacity="0.8"/>
</g>
<g clip-path="url(#cSlabFront)">
<circle cx="291.1" cy="421.8" r="0.6" fill="#e6e4d8" opacity="0.7"/>
<circle cx="274.9" cy="486.3" r="0.7" fill="#bdb9a0" opacity="0.7"/>
<circle cx="246.5" cy="435.2" r="0.6" fill="#a9a795" opacity="0.7"/>
<circle cx="242.9" cy="438.0" r="0.6" fill="#e6e4d8" opacity="0.7"/>
<circle cx="286.9" cy="494.9" r="0.8" fill="#a9a795" opacity="0.7"/>
<circle cx="249.2" cy="365.4" r="0.7" fill="#b5b3a0" opacity="0.7"/>
<circle cx="297.3" cy="360.3" r="0.9" fill="#a9a795" opacity="0.7"/>
<circle cx="276.0" cy="357.3" r="1.0" fill="#dcdacb" opacity="0.7"/>
<circle cx="285.6" cy="387.4" r="1.1" fill="#a9a795" opacity="0.7"/>
<circle cx="287.2" cy="411.9" r="1.1" fill="#e6e4d8" opacity="0.7"/>
<circle cx="245.7" cy="465.4" r="1.0" fill="#bdb9a0" opacity="0.7"/>
<circle cx="251.8" cy="368.2" r="0.6" fill="#e6e4d8" opacity="0.7"/>
<circle cx="225.7" cy="449.2" r="1.2" fill="#e6e4d8" opacity="0.7"/>
<circle cx="260.3" cy="429.0" r="0.4" fill="#a9a795" opacity="0.7"/>
<circle cx="238.7" cy="410.4" r="1.0" fill="#a9a795" opacity="0.7"/>
<circle cx="269.3" cy="373.7" r="0.9" fill="#b5b3a0" opacity="0.7"/>
<circle cx="286.3" cy="333.2" r="1.1" fill="#a9a795" opacity="0.7"/>
<circle cx="261.5" cy="476.9" r="1.0" fill="#a9a795" opacity="0.7"/>
<circle cx="290.9" cy="377.4" r="0.7" fill="#e6e4d8" opacity="0.7"/>
<circle cx="276.7" cy="486.0" r="0.7" fill="#a9a795" opacity="0.7"/>
<circle cx="250.3" cy="445.8" r="0.5" fill="#e6e4d8" opacity="0.7"/>
<circle cx="222.7" cy="487.5" r="0.7" fill="#b5b3a0" opacity="0.7"/>
<circle cx="238.2" cy="419.4" r="1.0" fill="#bdb9a0" opacity="0.7"/>
<circle cx="276.2" cy="344.7" r="1.1" fill="#b5b3a0" opacity="0.7"/>
<circle cx="270.0" cy="444.8" r="1.0" fill="#b5b3a0" opacity="0.7"/>
<circle cx="239.3" cy="460.2" r="1.0" fill="#dcdacb" opacity="0.7"/>
<circle cx="299.1" cy="398.8" r="1.0" fill="#dcdacb" opacity="0.7"/>
<circle cx="240.1" cy="391.6" r="0.6" fill="#b5b3a0" opacity="0.7"/>
<circle cx="245.8" cy="424.7" r="1.0" fill="#e6e4d8" opacity="0.7"/>
<circle cx="259.6" cy="347.4" r="1.1" fill="#bdb9a0" opacity="0.7"/>
<circle cx="291.7" cy="475.5" r="0.9" fill="#a9a795" opacity="0.7"/>
<circle cx="255.1" cy="413.0" r="1.1" fill="#e6e4d8" opacity="0.7"/>
<circle cx="269.6" cy="467.5" r="1.2" fill="#b5b3a0" opacity="0.7"/>
<circle cx="231.4" cy="375.1" r="0.5" fill="#e6e4d8" opacity="0.7"/>
<circle cx="291.7" cy="460.9" r="0.8" fill="#b5b3a0" opacity="0.7"/>
<circle cx="248.3" cy="480.2" r="0.6" fill="#b5b3a0" opacity="0.7"/>
<circle cx="225.7" cy="467.9" r="1.1" fill="#b5b3a0" opacity="0.7"/>
<circle cx="281.6" cy="442.5" r="0.8" fill="#bdb9a0" opacity="0.7"/>
<circle cx="256.6" cy="332.9" r="0.4" fill="#bdb9a0" opacity="0.7"/>
<circle cx="281.7" cy="383.7" r="0.5" fill="#a9a795" opacity="0.7"/>
<circle cx="281.3" cy="458.3" r="0.7" fill="#a9a795" opacity="0.7"/>
<circle cx="223.2" cy="367.9" r="0.9" fill="#e6e4d8" opacity="0.7"/>
<circle cx="258.4" cy="341.3" r="0.6" fill="#b5b3a0" opacity="0.7"/>
<circle cx="240.7" cy="435.5" r="0.9" fill="#e6e4d8" opacity="0.7"/>
<circle cx="265.6" cy="370.7" r="0.5" fill="#dcdacb" opacity="0.7"/>
<circle cx="234.0" cy="400.4" r="1.2" fill="#b5b3a0" opacity="0.7"/>
<circle cx="234.4" cy="335.2" r="0.4" fill="#e6e4d8" opacity="0.7"/>
<circle cx="291.9" cy="374.9" r="0.7" fill="#a9a795" opacity="0.7"/>
<circle cx="284.2" cy="352.7" r="0.8" fill="#bdb9a0" opacity="0.7"/>
<circle cx="243.5" cy="352.2" r="0.9" fill="#b5b3a0" opacity="0.7"/>
<circle cx="245.9" cy="347.3" r="0.9" fill="#a9a795" opacity="0.7"/>
<circle cx="298.1" cy="363.5" r="0.7" fill="#dcdacb" opacity="0.7"/>
<circle cx="248.2" cy="483.9" r="0.8" fill="#dcdacb" opacity="0.7"/>
<circle cx="273.3" cy="386.1" r="1.0" fill="#a9a795" opacity="0.7"/>
<circle cx="232.1" cy="345.0" r="0.9" fill="#e6e4d8" opacity="0.7"/>
<circle cx="241.2" cy="454.5" r="0.8" fill="#b5b3a0" opacity="0.7"/>
<circle cx="265.3" cy="331.2" r="1.1" fill="#dcdacb" opacity="0.7"/>
<circle cx="283.8" cy="393.3" r="0.7" fill="#bdb9a0" opacity="0.7"/>
<circle cx="277.4" cy="352.3" r="0.8" fill="#a9a795" opacity="0.7"/>
<circle cx="256.3" cy="359.7" r="0.8" fill="#bdb9a0" opacity="0.7"/>
<circle cx="276.9" cy="437.6" r="1.1" fill="#b5b3a0" opacity="0.7"/>
<circle cx="285.5" cy="380.8" r="1.2" fill="#dcdacb" opacity="0.7"/>
<circle cx="242.1" cy="467.4" r="0.8" fill="#bdb9a0" opacity="0.7"/>
<circle cx="286.6" cy="491.9" r="1.0" fill="#dcdacb" opacity="0.7"/>
<circle cx="231.7" cy="385.9" r="0.6" fill="#bdb9a0" opacity="0.7"/>
<circle cx="237.3" cy="334.4" r="0.8" fill="#b5b3a0" opacity="0.7"/>
<circle cx="234.5" cy="461.1" r="0.8" fill="#bdb9a0" opacity="0.7"/>
<circle cx="251.2" cy="432.7" r="0.6" fill="#dcdacb" opacity="0.7"/>
<circle cx="242.3" cy="351.1" r="0.9" fill="#e6e4d8" opacity="0.7"/>
<circle cx="254.5" cy="401.1" r="0.5" fill="#a9a795" opacity="0.7"/>
<circle cx="289.7" cy="335.5" r="0.5" fill="#b5b3a0" opacity="0.7"/>
<circle cx="231.0" cy="439.9" r="0.7" fill="#a9a795" opacity="0.7"/>
<circle cx="255.2" cy="434.5" r="1.0" fill="#e6e4d8" opacity="0.7"/>
<circle cx="291.1" cy="405.1" r="0.8" fill="#a9a795" opacity="0.7"/>
<circle cx="287.0" cy="407.6" r="0.8" fill="#bdb9a0" opacity="0.7"/>
<circle cx="275.1" cy="330.2" r="1.2" fill="#a9a795" opacity="0.7"/>
<circle cx="238.7" cy="400.8" r="1.1" fill="#a9a795" opacity="0.7"/>
<circle cx="283.3" cy="425.7" r="0.6" fill="#dcdacb" opacity="0.7"/>
<circle cx="267.1" cy="354.9" r="0.4" fill="#bdb9a0" opacity="0.7"/>
<circle cx="222.1" cy="412.9" r="1.2" fill="#b5b3a0" opacity="0.7"/>
<circle cx="274.4" cy="354.9" r="0.8" fill="#bdb9a0" opacity="0.7"/>
<circle cx="278.1" cy="452.1" r="0.7" fill="#a9a795" opacity="0.7"/>
<circle cx="225.6" cy="377.5" r="0.5" fill="#b5b3a0" opacity="0.7"/>
<circle cx="279.6" cy="367.8" r="0.9" fill="#bdb9a0" opacity="0.7"/>
<circle cx="261.7" cy="366.3" r="0.8" fill="#bdb9a0" opacity="0.7"/>
<circle cx="265.7" cy="382.7" r="0.7" fill="#dcdacb" opacity="0.7"/>
<circle cx="289.9" cy="447.9" r="0.8" fill="#bdb9a0" opacity="0.7"/>
<circle cx="267.9" cy="394.4" r="0.5" fill="#b5b3a0" opacity="0.7"/>
<circle cx="266.6" cy="369.9" r="1.2" fill="#a9a795" opacity="0.7"/>
<circle cx="225.6" cy="349.8" r="0.7" fill="#b5b3a0" opacity="0.7"/>
<circle cx="259.0" cy="366.8" r="0.9" fill="#e6e4d8" opacity="0.7"/>
<circle cx="296.2" cy="385.4" r="1.0" fill="#bdb9a0" opacity="0.7"/>
<circle cx="261.4" cy="398.0" r="0.5" fill="#e6e4d8" opacity="0.7"/>
<circle cx="255.5" cy="337.6" r="0.5" fill="#e6e4d8" opacity="0.7"/>
<circle cx="230.7" cy="422.5" r="0.6" fill="#bdb9a0" opacity="0.7"/>
<circle cx="245.8" cy="411.6" r="1.0" fill="#a9a795" opacity="0.7"/>
<circle cx="243.7" cy="485.9" r="0.8" fill="#dcdacb" opacity="0.7"/>
<circle cx="225.1" cy="418.6" r="0.8" fill="#bdb9a0" opacity="0.7"/>
<circle cx="282.5" cy="482.3" r="0.8" fill="#e6e4d8" opacity="0.7"/>
<circle cx="285.6" cy="429.9" r="1.1" fill="#e6e4d8" opacity="0.7"/>
<circle cx="262.5" cy="380.3" r="0.4" fill="#dcdacb" opacity="0.7"/>
<circle cx="251.4" cy="482.3" r="1.0" fill="#a9a795" opacity="0.7"/>
<circle cx="237.9" cy="394.8" r="1.1" fill="#dcdacb" opacity="0.7"/>
<circle cx="258.1" cy="366.8" r="0.5" fill="#e6e4d8" opacity="0.7"/>
<circle cx="236.9" cy="358.2" r="0.8" fill="#b5b3a0" opacity="0.7"/>
<circle cx="223.6" cy="340.4" r="1.1" fill="#a9a795" opacity="0.7"/>
<circle cx="265.2" cy="411.5" r="0.8" fill="#b5b3a0" opacity="0.7"/>
<circle cx="225.5" cy="348.9" r="0.5" fill="#bdb9a0" opacity="0.7"/>
<circle cx="252.3" cy="468.6" r="0.9" fill="#dcdacb" opacity="0.7"/>
<circle cx="271.0" cy="469.4" r="0.7" fill="#bdb9a0" opacity="0.7"/>
<circle cx="290.5" cy="373.1" r="0.7" fill="#b5b3a0" opacity="0.7"/>
<circle cx="296.5" cy="469.5" r="0.6" fill="#e6e4d8" opacity="0.7"/>
<circle cx="257.9" cy="382.0" r="0.6" fill="#e6e4d8" opacity="0.7"/>
<circle cx="225.2" cy="493.4" r="0.9" fill="#bdb9a0" opacity="0.7"/>
<circle cx="253.6" cy="427.9" r="0.7" fill="#e6e4d8" opacity="0.7"/>
<circle cx="222.4" cy="438.3" r="0.6" fill="#bdb9a0" opacity="0.7"/>
<circle cx="267.6" cy="455.1" r="0.6" fill="#dcdacb" opacity="0.7"/>
<circle cx="231.3" cy="474.5" r="0.8" fill="#bdb9a0" opacity="0.7"/>
<circle cx="272.1" cy="366.1" r="0.5" fill="#b5b3a0" opacity="0.7"/>
<circle cx="266.8" cy="354.0" r="1.2" fill="#bdb9a0" opacity="0.7"/>
<circle cx="283.1" cy="483.3" r="1.2" fill="#dcdacb" opacity="0.7"/>
<circle cx="262.3" cy="398.8" r="0.5" fill="#dcdacb" opacity="0.7"/>
<circle cx="247.2" cy="359.9" r="0.9" fill="#e6e4d8" opacity="0.7"/>
<circle cx="223.5" cy="443.4" r="0.7" fill="#dcdacb" opacity="0.7"/>
<circle cx="230.6" cy="426.8" r="1.0" fill="#a9a795" opacity="0.7"/>
<circle cx="286.9" cy="349.8" r="0.9" fill="#b5b3a0" opacity="0.7"/>
<circle cx="246.0" cy="371.5" r="1.1" fill="#a9a795" opacity="0.7"/>
<circle cx="231.8" cy="438.8" r="0.7" fill="#a9a795" opacity="0.7"/>
<circle cx="291.3" cy="482.4" r="0.5" fill="#b5b3a0" opacity="0.7"/>
<circle cx="261.0" cy="412.9" r="1.1" fill="#b5b3a0" opacity="0.7"/>
<circle cx="287.2" cy="486.4" r="0.5" fill="#bdb9a0" opacity="0.7"/>
<circle cx="273.8" cy="369.1" r="0.7" fill="#a9a795" opacity="0.7"/>
<circle cx="265.4" cy="347.8" r="0.7" fill="#b5b3a0" opacity="0.7"/>
<circle cx="279.0" cy="452.6" r="0.4" fill="#e6e4d8" opacity="0.7"/>
<circle cx="248.5" cy="472.7" r="0.5" fill="#b5b3a0" opacity="0.7"/>
<circle cx="260.8" cy="483.8" r="0.6" fill="#a9a795" opacity="0.7"/>
<circle cx="286.9" cy="331.7" r="0.5" fill="#dcdacb" opacity="0.7"/>
<circle cx="239.5" cy="456.2" r="0.7" fill="#b5b3a0" opacity="0.7"/>
<circle cx="296.5" cy="358.8" r="1.0" fill="#bdb9a0" opacity="0.7"/>
<circle cx="276.5" cy="426.8" r="0.6" fill="#a9a795" opacity="0.7"/>
<circle cx="259.5" cy="423.1" r="0.8" fill="#b5b3a0" opacity="0.7"/>
<circle cx="294.0" cy="376.5" r="1.0" fill="#b5b3a0" opacity="0.7"/>
<circle cx="295.3" cy="402.2" r="0.5" fill="#b5b3a0" opacity="0.7"/>
<circle cx="270.8" cy="453.2" r="1.1" fill="#e6e4d8" opacity="0.7"/>
<circle cx="231.1" cy="367.9" r="0.8" fill="#e6e4d8" opacity="0.7"/>
<circle cx="261.8" cy="389.6" r="0.8" fill="#bdb9a0" opacity="0.7"/>
<circle cx="228.1" cy="463.2" r="0.8" fill="#b5b3a0" opacity="0.7"/>
<circle cx="230.1" cy="385.7" r="0.5" fill="#bdb9a0" opacity="0.7"/>
<circle cx="256.9" cy="430.0" r="0.4" fill="#e6e4d8" opacity="0.7"/>
<circle cx="242.8" cy="398.0" r="0.5" fill="#dcdacb" opacity="0.7"/>
<circle cx="298.8" cy="384.3" r="0.8" fill="#e6e4d8" opacity="0.7"/>
<circle cx="241.6" cy="362.7" r="0.5" fill="#bdb9a0" opacity="0.7"/>
<circle cx="293.3" cy="491.7" r="0.9" fill="#dcdacb" opacity="0.7"/>
<circle cx="279.8" cy="356.9" r="0.6" fill="#bdb9a0" opacity="0.7"/>
<circle cx="248.7" cy="376.6" r="0.7" fill="#bdb9a0" opacity="0.7"/>
<circle cx="271.5" cy="342.5" r="0.8" fill="#a9a795" opacity="0.7"/>
<circle cx="296.1" cy="393.3" r="1.0" fill="#bdb9a0" opacity="0.7"/>
<circle cx="276.0" cy="423.4" r="0.9" fill="#e6e4d8" opacity="0.7"/>
<circle cx="292.2" cy="459.6" r="0.7" fill="#bdb9a0" opacity="0.7"/>
<circle cx="288.0" cy="385.4" r="0.8" fill="#e6e4d8" opacity="0.7"/>
<circle cx="276.5" cy="426.9" r="0.6" fill="#a9a795" opacity="0.7"/>
<circle cx="290.5" cy="338.1" r="0.5" fill="#e6e4d8" opacity="0.7"/>
<circle cx="275.0" cy="432.4" r="1.1" fill="#a9a795" opacity="0.7"/>
<circle cx="272.4" cy="389.5" r="1.2" fill="#dcdacb" opacity="0.7"/>
<circle cx="285.4" cy="445.8" r="1.1" fill="#e6e4d8" opacity="0.7"/>
<circle cx="281.1" cy="334.4" r="0.8" fill="#b5b3a0" opacity="0.7"/>
<circle cx="288.4" cy="486.0" r="0.8" fill="#bdb9a0" opacity="0.7"/>
<circle cx="250.3" cy="395.5" r="1.1" fill="#a9a795" opacity="0.7"/>
<circle cx="295.3" cy="355.0" r="0.7" fill="#bdb9a0" opacity="0.7"/>
<circle cx="294.3" cy="465.1" r="1.1" fill="#a9a795" opacity="0.7"/>
<circle cx="281.5" cy="445.1" r="0.6" fill="#b5b3a0" opacity="0.7"/>
<circle cx="263.4" cy="398.1" r="1.0" fill="#a9a795" opacity="0.7"/>
<circle cx="274.3" cy="441.5" r="1.1" fill="#a9a795" opacity="0.7"/>
<circle cx="264.5" cy="414.3" r="0.8" fill="#b5b3a0" opacity="0.7"/>
<circle cx="287.8" cy="460.9" r="0.9" fill="#a9a795" opacity="0.7"/>
<circle cx="261.4" cy="411.8" r="0.8" fill="#b5b3a0" opacity="0.7"/>
<circle cx="299.4" cy="353.9" r="0.6" fill="#a9a795" opacity="0.7"/>
<circle cx="293.1" cy="355.8" r="1.2" fill="#bdb9a0" opacity="0.7"/>
<circle cx="261.6" cy="382.7" r="0.7" fill="#a9a795" opacity="0.7"/>
<circle cx="272.5" cy="433.6" r="1.1" fill="#b5b3a0" opacity="0.7"/>
<circle cx="274.6" cy="450.4" r="1.1" fill="#dcdacb" opacity="0.7"/>
<circle cx="260.7" cy="485.2" r="1.2" fill="#dcdacb" opacity="0.7"/>
<circle cx="281.6" cy="350.2" r="1.0" fill="#e6e4d8" opacity="0.7"/>
<circle cx="254.9" cy="412.2" r="0.6" fill="#e6e4d8" opacity="0.7"/>
<circle cx="267.9" cy="362.3" r="0.7" fill="#b5b3a0" opacity="0.7"/>
<circle cx="230.0" cy="364.6" r="0.8" fill="#a9a795" opacity="0.7"/>
<circle cx="223.4" cy="446.1" r="1.1" fill="#dcdacb" opacity="0.7"/>
<circle cx="288.3" cy="362.4" r="1.1" fill="#bdb9a0" opacity="0.7"/>
<circle cx="269.6" cy="453.0" r="1.0" fill="#bdb9a0" opacity="0.7"/>
<circle cx="231.7" cy="391.5" r="0.8" fill="#e6e4d8" opacity="0.7"/>
<circle cx="240.5" cy="397.8" r="0.7" fill="#a9a795" opacity="0.7"/>
<circle cx="260.8" cy="430.9" r="1.2" fill="#bdb9a0" opacity="0.7"/>
<circle cx="286.5" cy="338.5" r="1.0" fill="#dcdacb" opacity="0.7"/>
<circle cx="248.2" cy="464.3" r="0.8" fill="#dcdacb" opacity="0.7"/>
<circle cx="257.0" cy="491.5" r="0.5" fill="#a9a795" opacity="0.7"/>
<circle cx="293.4" cy="460.4" r="1.0" fill="#e6e4d8" opacity="0.7"/>
<circle cx="258.4" cy="392.2" r="1.1" fill="#a9a795" opacity="0.7"/>
<circle cx="279.5" cy="447.3" r="0.4" fill="#e6e4d8" opacity="0.7"/>
<circle cx="259.1" cy="335.5" r="0.4" fill="#bdb9a0" opacity="0.7"/>
<circle cx="292.1" cy="395.2" r="0.9" fill="#b5b3a0" opacity="0.7"/>
<circle cx="254.9" cy="377.0" r="0.6" fill="#dcdacb" opacity="0.7"/>
<circle cx="224.9" cy="401.6" r="1.1" fill="#b5b3a0" opacity="0.7"/>
<circle cx="297.0" cy="439.5" r="1.1" fill="#b5b3a0" opacity="0.7"/>
<circle cx="237.1" cy="434.2" r="0.7" fill="#dcdacb" opacity="0.7"/>
<circle cx="232.7" cy="375.5" r="0.8" fill="#a9a795" opacity="0.7"/>
<circle cx="230.1" cy="469.6" r="1.1" fill="#b5b3a0" opacity="0.7"/>
<circle cx="287.7" cy="457.6" r="0.9" fill="#a9a795" opacity="0.7"/>
<circle cx="233.9" cy="425.3" r="0.8" fill="#bdb9a0" opacity="0.7"/>
<circle cx="239.2" cy="447.7" r="0.8" fill="#bdb9a0" opacity="0.7"/>
<circle cx="230.5" cy="331.7" r="1.0" fill="#e6e4d8" opacity="0.7"/>
<circle cx="237.1" cy="359.5" r="0.4" fill="#b5b3a0" opacity="0.7"/>
<circle cx="247.5" cy="379.5" r="1.1" fill="#a9a795" opacity="0.7"/>
<circle cx="248.9" cy="470.1" r="0.7" fill="#b5b3a0" opacity="0.7"/>
<circle cx="234.2" cy="332.4" r="1.1" fill="#a9a795" opacity="0.7"/>
<circle cx="284.0" cy="331.0" r="0.6" fill="#dcdacb" opacity="0.7"/>
<circle cx="285.5" cy="380.7" r="0.4" fill="#e6e4d8" opacity="0.7"/>
<circle cx="247.1" cy="437.1" r="1.1" fill="#b5b3a0" opacity="0.7"/>
<circle cx="235.5" cy="405.8" r="0.9" fill="#e6e4d8" opacity="0.7"/>
<circle cx="231.3" cy="460.7" r="0.5" fill="#dcdacb" opacity="0.7"/>
<circle cx="266.7" cy="395.2" r="0.6" fill="#e6e4d8" opacity="0.7"/>
<circle cx="263.3" cy="487.7" r="1.1" fill="#e6e4d8" opacity="0.7"/>
<circle cx="240.1" cy="483.1" r="0.4" fill="#a9a795" opacity="0.7"/>
<circle cx="243.7" cy="410.2" r="0.7" fill="#e6e4d8" opacity="0.7"/>
<circle cx="261.1" cy="345.5" r="0.5" fill="#b5b3a0" opacity="0.7"/>
<circle cx="241.6" cy="369.0" r="0.9" fill="#b5b3a0" opacity="0.7"/>
<circle cx="264.9" cy="440.1" r="0.9" fill="#a9a795" opacity="0.7"/>
<circle cx="298.9" cy="457.0" r="0.5" fill="#bdb9a0" opacity="0.7"/>
<circle cx="242.8" cy="396.6" r="0.6" fill="#bdb9a0" opacity="0.7"/>
<circle cx="296.9" cy="451.1" r="0.9" fill="#bdb9a0" opacity="0.7"/>
<circle cx="284.0" cy="459.9" r="0.7" fill="#bdb9a0" opacity="0.7"/>
<circle cx="265.5" cy="341.4" r="1.0" fill="#dcdacb" opacity="0.7"/>
<circle cx="230.3" cy="398.3" r="0.6" fill="#a9a795" opacity="0.7"/>
<circle cx="234.4" cy="489.9" r="0.6" fill="#dcdacb" opacity="0.7"/>
<circle cx="292.1" cy="350.1" r="0.7" fill="#bdb9a0" opacity="0.7"/>
<circle cx="225.6" cy="479.7" r="1.0" fill="#a9a795" opacity="0.7"/>
<circle cx="262.2" cy="424.8" r="0.9" fill="#dcdacb" opacity="0.7"/>
<circle cx="244.8" cy="343.6" r="0.7" fill="#bdb9a0" opacity="0.7"/>
<circle cx="254.8" cy="476.3" r="0.5" fill="#dcdacb" opacity="0.7"/>
<circle cx="286.8" cy="489.0" r="1.2" fill="#a9a795" opacity="0.7"/>
<circle cx="268.7" cy="437.0" r="1.0" fill="#b5b3a0" opacity="0.7"/>
<circle cx="300.0" cy="473.6" r="1.0" fill="#b5b3a0" opacity="0.7"/>
<circle cx="242.1" cy="417.3" r="0.4" fill="#e6e4d8" opacity="0.7"/>
<circle cx="264.2" cy="464.5" r="0.9" fill="#a9a795" opacity="0.7"/>
<circle cx="231.5" cy="347.3" r="0.8" fill="#b5b3a0" opacity="0.7"/>
<circle cx="227.5" cy="435.9" r="0.8" fill="#bdb9a0" opacity="0.7"/>
<circle cx="225.2" cy="401.8" r="0.4" fill="#bdb9a0" opacity="0.7"/>
<circle cx="294.6" cy="340.2" r="0.6" fill="#e6e4d8" opacity="0.7"/>
<circle cx="243.9" cy="450.7" r="0.9" fill="#b5b3a0" opacity="0.7"/>
<circle cx="271.4" cy="414.9" r="0.8" fill="#b5b3a0" opacity="0.7"/>
<circle cx="238.5" cy="439.7" r="0.8" fill="#e6e4d8" opacity="0.7"/>
<circle cx="233.9" cy="456.3" r="1.1" fill="#e6e4d8" opacity="0.7"/>
<circle cx="226.0" cy="341.0" r="0.6" fill="#b5b3a0" opacity="0.7"/>
<circle cx="277.9" cy="453.6" r="0.8" fill="#bdb9a0" opacity="0.7"/>
<circle cx="238.9" cy="394.2" r="0.7" fill="#bdb9a0" opacity="0.7"/>
<circle cx="231.6" cy="478.1" r="0.9" fill="#bdb9a0" opacity="0.7"/>
<circle cx="250.6" cy="351.6" r="0.9" fill="#a9a795" opacity="0.7"/>
<circle cx="248.6" cy="435.2" r="1.2" fill="#dcdacb" opacity="0.7"/>
<circle cx="243.7" cy="353.1" r="0.7" fill="#a9a795" opacity="0.7"/>
<circle cx="225.9" cy="456.7" r="1.1" fill="#a9a795" opacity="0.7"/>
<circle cx="222.9" cy="486.5" r="0.5" fill="#bdb9a0" opacity="0.7"/>
</g>
<polyline points="222.0,347.0 227.5,494.5" fill="none" stroke="#8f8d7d" stroke-width="0.8" stroke-linecap="round" stroke-linejoin="round" />
<polyline points="227.5,494.5 165.0,459.0 163.0,380.0 158.0,371.0 95.0,340.0 94.0,295.0 222.0,347.0 300.0,330.0" fill="none" stroke="#2a2a2a" stroke-width="0.8" stroke-linecap="round" stroke-linejoin="round" />
<polyline points="227.5,494.5 279.0,479.0" fill="none" stroke="#2a2a2a" stroke-width="0.8" stroke-linecap="round" stroke-linejoin="round" />
<polygon points="165.0,459.5 227.5,494.5 228.3,501.0 177.5,475.2" fill="#f6f6f6" stroke="#2a2a2a" stroke-width="0.6" stroke-linejoin="round" />
<polygon points="227.5,494.5 278.2,479.5 277.6,484.5 228.3,501.0" fill="#c6c6c6" stroke="#2a2a2a" stroke-width="0.6" stroke-linejoin="round" />
<polygon points="177.0,475.0 228.0,502.0 235.0,633.0 186.0,598.0" fill="#e7e7e7" stroke="#555" stroke-width="0.8" stroke-linejoin="round" />
<polygon points="228.0,502.0 277.0,484.5 256.0,625.0 235.0,633.0" fill="#fbfbfb" stroke="#555" stroke-width="0.8" stroke-linejoin="round" />
<circle cx="123.5" cy="456.2" r="3.9" fill="#666" stroke="#2e2e2e" stroke-width="0.8"/>
<polygon points="124.5,460.0 180.0,445.3 178.0,437.7 122.5,452.4" fill="#737373" stroke="#2e2e2e" stroke-width="0.8" stroke-linejoin="round" />
<circle cx="123.5" cy="456.2" r="3.3" fill="#6a6a6a"/>
<line x1="125.5" y1="457.3" x2="130.3" y2="452.5" stroke="#3d3d3d" stroke-width="1.2"/>
<line x1="126.5" y1="452.7" x2="129.9" y2="456.7" stroke="#a2a2a2" stroke-width="0.9"/>
<line x1="132.4" y1="455.5" x2="137.2" y2="450.7" stroke="#3d3d3d" stroke-width="1.2"/>
<line x1="133.4" y1="450.9" x2="136.8" y2="454.9" stroke="#a2a2a2" stroke-width="0.9"/>
<line x1="139.3" y1="453.6" x2="144.1" y2="448.8" stroke="#3d3d3d" stroke-width="1.2"/>
<line x1="140.3" y1="449.0" x2="143.7" y2="453.0" stroke="#a2a2a2" stroke-width="0.9"/>
<line x1="146.3" y1="451.8" x2="151.1" y2="447.0" stroke="#3d3d3d" stroke-width="1.2"/>
<line x1="147.3" y1="447.2" x2="150.7" y2="451.2" stroke="#a2a2a2" stroke-width="0.9"/>
<line x1="153.2" y1="449.9" x2="158.0" y2="445.1" stroke="#3d3d3d" stroke-width="1.2"/>
<line x1="154.2" y1="445.3" x2="157.6" y2="449.3" stroke="#a2a2a2" stroke-width="0.9"/>
<line x1="160.2" y1="448.1" x2="164.9" y2="443.3" stroke="#3d3d3d" stroke-width="1.2"/>
<line x1="161.2" y1="443.5" x2="164.5" y2="447.5" stroke="#a2a2a2" stroke-width="0.9"/>
<line x1="167.1" y1="446.3" x2="171.9" y2="441.5" stroke="#3d3d3d" stroke-width="1.2"/>
<line x1="168.1" y1="441.7" x2="171.5" y2="445.7" stroke="#a2a2a2" stroke-width="0.9"/>
<line x1="174.0" y1="444.4" x2="178.8" y2="439.6" stroke="#3d3d3d" stroke-width="1.2"/>
<line x1="175.0" y1="439.8" x2="178.4" y2="443.8" stroke="#a2a2a2" stroke-width="0.9"/>
<circle cx="156.0" cy="475.0" r="3.9" fill="#666" stroke="#2e2e2e" stroke-width="0.8"/>
<polygon points="157.0,478.8 213.8,463.8 211.8,456.2 155.0,471.2" fill="#737373" stroke="#2e2e2e" stroke-width="0.8" stroke-linejoin="round" />
<circle cx="156.0" cy="475.0" r="3.3" fill="#6a6a6a"/>
<line x1="158.1" y1="476.1" x2="162.9" y2="471.3" stroke="#3d3d3d" stroke-width="1.2"/>
<line x1="159.1" y1="471.5" x2="162.5" y2="475.5" stroke="#a2a2a2" stroke-width="0.9"/>
<line x1="165.2" y1="474.2" x2="170.0" y2="469.4" stroke="#3d3d3d" stroke-width="1.2"/>
<line x1="166.2" y1="469.6" x2="169.6" y2="473.6" stroke="#a2a2a2" stroke-width="0.9"/>
<line x1="172.3" y1="472.3" x2="177.1" y2="467.5" stroke="#3d3d3d" stroke-width="1.2"/>
<line x1="173.3" y1="467.7" x2="176.7" y2="471.7" stroke="#a2a2a2" stroke-width="0.9"/>
<line x1="179.4" y1="470.4" x2="184.2" y2="465.6" stroke="#3d3d3d" stroke-width="1.2"/>
<line x1="180.4" y1="465.9" x2="183.8" y2="469.9" stroke="#a2a2a2" stroke-width="0.9"/>
<line x1="186.5" y1="468.6" x2="191.3" y2="463.8" stroke="#3d3d3d" stroke-width="1.2"/>
<line x1="187.5" y1="464.0" x2="190.9" y2="468.0" stroke="#a2a2a2" stroke-width="0.9"/>
<line x1="193.6" y1="466.7" x2="198.4" y2="461.9" stroke="#3d3d3d" stroke-width="1.2"/>
<line x1="194.6" y1="462.1" x2="198.0" y2="466.1" stroke="#a2a2a2" stroke-width="0.9"/>
<line x1="200.7" y1="464.8" x2="205.5" y2="460.0" stroke="#3d3d3d" stroke-width="1.2"/>
<line x1="201.7" y1="460.2" x2="205.1" y2="464.2" stroke="#a2a2a2" stroke-width="0.9"/>
<line x1="207.8" y1="462.9" x2="212.6" y2="458.1" stroke="#3d3d3d" stroke-width="1.2"/>
<line x1="208.8" y1="458.4" x2="212.2" y2="462.4" stroke="#a2a2a2" stroke-width="0.9"/>
<polygon points="328.0,127.0 638.0,88.5 635.6,168.0 634.0,300.0 470.0,420.0 403.0,568.5 255.6,624.5" fill="url(#gMem)" stroke="#2a2a2a" stroke-width="0.8" stroke-linejoin="round" />
<polygon points="600.0,93.2 638.0,88.5 635.6,168.0 634.0,300.0 602.0,300.0" fill="#8a3c00" opacity="0.08"/>
<polygon points="281.5,455.0 304.0,455.0 279.0,616.0 255.6,624.5" fill="#6a2a00" opacity="0.16"/>
<polygon points="318.0,455.0 360.0,455.0 345.0,590.0 300.0,607.0" fill="#ffd28a" opacity="0.08"/>
<g clip-path="url(#cMem)" fill="#4f4a17" font-family="Liberation Sans, sans-serif">
<text transform="translate(420.3,111) rotate(90) skewX(6)" font-size="17" textLength="12.5" lengthAdjust="spacingAndGlyphs" font-weight="bold" opacity="0.85">P</text>
<text transform="translate(419.6,125) rotate(90) skewX(6)" font-size="22.5" textLength="21.3" lengthAdjust="spacingAndGlyphs" font-weight="bold" opacity="0.88">S</text>
<text transform="translate(420,147.8) rotate(90) skewX(6)" font-size="17.2" textLength="54.5" lengthAdjust="spacingAndGlyphs" font-weight="bold" opacity="0.88">HIELD</text>
<text transform="translate(429.5,203.3) rotate(90) skewX(6)" font-size="6" textLength="4" lengthAdjust="spacingAndGlyphs" font-weight="bold" opacity="0.8">®</text>
<text transform="translate(419.6,213.3) rotate(90) skewX(6)" font-size="22.5" textLength="44.2" lengthAdjust="spacingAndGlyphs" font-weight="bold" opacity="0.88">SA</text>
<text transform="translate(413.4,120) rotate(90) skewX(6)" font-size="6.6" textLength="78" lengthAdjust="spacingAndGlyphs" font-style="italic" opacity="0.7">Breathable Air Barrier</text>
<text transform="translate(397.6,122.5) rotate(90) skewX(6)" font-size="6.6" textLength="129.7" lengthAdjust="spacingAndGlyphs" font-weight="bold" opacity="0.62">64'0" (50m) 807 Sq. Ft. Roll (75m²)</text>
<text transform="translate(386.2,123.8) rotate(90) skewX(6)" font-size="6.6" textLength="68.8" lengthAdjust="spacingAndGlyphs" font-weight="bold" opacity="0.62">Ph: 1.866.731.7663</text>
<text transform="translate(375.6,122.5) rotate(90) skewX(6)" font-size="6.4" textLength="78" lengthAdjust="spacingAndGlyphs" opacity="0.62">www.VaproShield.com</text>
<text transform="translate(396,449) rotate(90) skewX(6)" font-size="6.4" textLength="62" lengthAdjust="spacingAndGlyphs" font-style="italic" opacity="0.35">Breathable Air Barrier</text>
<text transform="translate(378.5,449) rotate(90) skewX(6)" font-size="6.4" textLength="17" lengthAdjust="spacingAndGlyphs" opacity="0.3">Ph: 1.866</text>
<path d="M409.5,121 q-2.5,6 -1,13" fill="none" stroke="#5c4c16" stroke-width="0.9" opacity="0.7"/>
</g>
<path d="M436.3,115.6 C438.2,115.3 442.6,113.1 448.0,113.8 C453.3,114.6 462.6,118.8 468.6,120.1 C474.6,121.5 478.9,121.9 483.9,121.9 C488.8,121.9 495.4,120.1 498.2,120.1 C501.1,120.1 500.5,121.6 500.9,121.9" fill="none" stroke="#4a3d14" stroke-width="1.1" stroke-linecap="round" opacity="0.85"/>
<path d="M437.2,127.3 C439.9,126.6 448.1,123.4 453.3,122.8 C458.6,122.2 464.1,121.9 468.6,123.7 C473.1,125.5 476.5,130.9 480.3,133.6 C484.0,136.3 488.9,137.6 491.0,139.9 C493.1,142.1 491.9,144.7 492.8,147.1 C493.7,149.4 495.8,153.0 496.4,154.2" fill="none" stroke="#4a3d14" stroke-width="1.1" stroke-linecap="round" opacity="0.85"/>
<path d="M436.3,115.6 L437.2,127.3" fill="none" stroke="#4a3d14" stroke-width="1.1" stroke-linecap="round" opacity="0.85"/>
<path d="M458.7,157.8 C461.4,156.5 469.2,151.5 474.9,149.7 C480.6,148.0 489.8,147.5 492.8,147.1" fill="none" stroke="#4a3d14" stroke-width="1.1" stroke-linecap="round" opacity="0.85"/>
<path d="M459.6,156.9 C458.3,160.1 452.4,170.4 451.5,175.8 C450.6,181.2 453.8,187.0 454.2,189.2" fill="none" stroke="#4a3d14" stroke-width="1.1" stroke-linecap="round" opacity="0.85"/>
<path d="M463.2,158.7 C462.2,161.3 458.4,168.9 456.9,174.0 C455.4,179.1 454.7,186.7 454.2,189.2" fill="none" stroke="#4a3d14" stroke-width="1.1" stroke-linecap="round" opacity="0.85"/>
<path d="M474.9,152.4 C477.9,153.3 487.1,157.8 492.8,157.8 C498.5,157.8 503.3,154.2 509.0,152.4 C514.7,150.6 522.7,148.0 526.9,147.1 C531.1,146.2 532.9,147.1 534.1,147.1" fill="none" stroke="#4a3d14" stroke-width="1.1" stroke-linecap="round" opacity="0.85"/>
<path d="M492.8,156.0 C495.2,155.9 501.5,156.3 507.2,155.1 C512.9,153.9 523.6,149.9 526.9,148.9" fill="none" stroke="#4a3d14" stroke-width="1.1" stroke-linecap="round" opacity="0.85"/>
<path d="M514.4,107.6 C516.6,107.0 523.9,103.4 527.8,104.0 C531.7,104.6 534.9,108.8 537.7,111.2 C540.5,113.5 544.0,114.4 544.9,118.3 C545.8,122.2 544.9,129.7 543.1,134.5 C541.3,139.3 535.6,145.0 534.1,147.1" fill="none" stroke="#4a3d14" stroke-width="1.1" stroke-linecap="round" opacity="0.85"/>
<path d="M535.9,121.9 L533.2,143.5" fill="none" stroke="#4a3d14" stroke-width="1.1" stroke-linecap="round" opacity="0.85"/>
<path d="M500.9,120.1 C501.7,118.0 503.1,109.8 505.4,107.6 C507.6,105.3 511.4,105.8 514.4,106.7 C517.4,107.6 522.7,108.9 523.3,113.0 C523.9,117.0 517.4,125.2 518.0,130.9 C518.6,136.6 525.4,144.4 526.9,147.1" fill="none" stroke="#4a3d14" stroke-width="1.1" stroke-linecap="round" opacity="0.85"/>
<path d="M498.2,120.1 L497.3,124.6" fill="none" stroke="#4a3d14" stroke-width="1.1" stroke-linecap="round" opacity="0.85"/>
<path d="M500.0,121.0 L500.4,127.3" fill="none" stroke="#4a3d14" stroke-width="1.1" stroke-linecap="round" opacity="0.85"/>
<path d="M501.8,120.1 L503.2,125.5" fill="none" stroke="#4a3d14" stroke-width="1.1" stroke-linecap="round" opacity="0.85"/>
<ellipse cx="541.5" cy="120.5" rx="3" ry="3.8" fill="none" stroke="#6a4a14" stroke-width="0.8" opacity="0.85"/>
<ellipse cx="541.8" cy="120.8" rx="1.2" ry="1.8" fill="#5c4c16" opacity="0.8"/>
<polygon points="323.0,276.0 458.0,251.0 458.0,380.0 431.0,386.5 334.6,414.8 331.8,411.5 328.0,343.0 325.2,341.5" fill="#dcdee0" stroke="#2a2a2a" stroke-width="0.8" stroke-linejoin="round" />
<g clip-path="url(#cFlashV)">
<line x1="458.2" y1="340.7" x2="461.7" y2="334.0" stroke="#ffffff" stroke-width="1.3" opacity="0.40"/>
<line x1="368.1" y1="280.4" x2="370.9" y2="277.0" stroke="#bfc1c3" stroke-width="1.1" opacity="0.53"/>
<line x1="390.0" y1="293.4" x2="393.0" y2="287.9" stroke="#bfc1c3" stroke-width="1.8" opacity="0.37"/>
<line x1="381.0" y1="348.5" x2="385.5" y2="343.0" stroke="#c4c6c8" stroke-width="1.7" opacity="0.54"/>
<line x1="449.6" y1="263.0" x2="452.9" y2="256.9" stroke="#eceeef" stroke-width="1.0" opacity="0.50"/>
<line x1="368.5" y1="260.2" x2="372.4" y2="253.6" stroke="#ffffff" stroke-width="1.0" opacity="0.69"/>
<line x1="377.3" y1="303.8" x2="381.6" y2="296.3" stroke="#eceeef" stroke-width="1.0" opacity="0.51"/>
<line x1="403.0" y1="393.2" x2="407.0" y2="387.9" stroke="#eceeef" stroke-width="0.8" opacity="0.37"/>
<line x1="372.1" y1="299.1" x2="374.8" y2="296.0" stroke="#eceeef" stroke-width="1.3" opacity="0.62"/>
<line x1="389.7" y1="250.9" x2="393.4" y2="246.5" stroke="#ffffff" stroke-width="1.1" opacity="0.40"/>
<line x1="397.6" y1="399.7" x2="401.4" y2="394.0" stroke="#ffffff" stroke-width="1.2" opacity="0.69"/>
<line x1="323.7" y1="300.4" x2="326.2" y2="296.9" stroke="#bfc1c3" stroke-width="0.9" opacity="0.66"/>
<line x1="331.2" y1="255.2" x2="334.2" y2="251.7" stroke="#bfc1c3" stroke-width="1.8" opacity="0.50"/>
<line x1="455.2" y1="351.4" x2="457.8" y2="347.0" stroke="#bfc1c3" stroke-width="1.6" opacity="0.53"/>
<line x1="322.5" y1="300.1" x2="325.3" y2="295.2" stroke="#eceeef" stroke-width="0.8" opacity="0.47"/>
<line x1="334.3" y1="318.2" x2="338.9" y2="311.6" stroke="#eceeef" stroke-width="1.1" opacity="0.39"/>
<line x1="386.9" y1="404.9" x2="389.0" y2="401.2" stroke="#ffffff" stroke-width="0.8" opacity="0.50"/>
<line x1="457.7" y1="345.1" x2="459.3" y2="342.5" stroke="#ffffff" stroke-width="1.5" opacity="0.33"/>
<line x1="384.7" y1="329.8" x2="386.7" y2="326.4" stroke="#c4c6c8" stroke-width="1.1" opacity="0.39"/>
<line x1="340.6" y1="307.1" x2="344.6" y2="299.8" stroke="#eceeef" stroke-width="1.0" opacity="0.32"/>
<line x1="360.7" y1="365.4" x2="364.2" y2="359.8" stroke="#bfc1c3" stroke-width="1.5" opacity="0.65"/>
<line x1="416.6" y1="264.9" x2="421.7" y2="259.1" stroke="#ffffff" stroke-width="0.9" opacity="0.65"/>
<line x1="389.1" y1="370.9" x2="393.5" y2="363.6" stroke="#ffffff" stroke-width="1.7" opacity="0.64"/>
<line x1="344.3" y1="364.9" x2="348.8" y2="358.6" stroke="#bfc1c3" stroke-width="1.5" opacity="0.53"/>
<line x1="438.7" y1="325.3" x2="440.7" y2="322.5" stroke="#c4c6c8" stroke-width="1.1" opacity="0.67"/>
<line x1="451.8" y1="377.2" x2="456.6" y2="371.8" stroke="#bfc1c3" stroke-width="1.8" opacity="0.39"/>
<line x1="418.4" y1="387.6" x2="422.7" y2="380.6" stroke="#eceeef" stroke-width="1.5" opacity="0.42"/>
<line x1="338.9" y1="374.3" x2="342.8" y2="369.4" stroke="#bfc1c3" stroke-width="1.3" opacity="0.56"/>
<line x1="433.6" y1="406.3" x2="436.5" y2="402.0" stroke="#eceeef" stroke-width="1.6" opacity="0.41"/>
<line x1="440.9" y1="376.8" x2="444.4" y2="371.3" stroke="#ffffff" stroke-width="0.9" opacity="0.31"/>
<line x1="329.3" y1="397.2" x2="331.9" y2="393.1" stroke="#ffffff" stroke-width="1.3" opacity="0.35"/>
<line x1="356.3" y1="355.9" x2="359.0" y2="352.7" stroke="#bfc1c3" stroke-width="1.6" opacity="0.65"/>
<line x1="323.9" y1="308.0" x2="326.5" y2="303.1" stroke="#c4c6c8" stroke-width="1.7" opacity="0.58"/>
<line x1="455.2" y1="356.2" x2="457.9" y2="351.5" stroke="#eceeef" stroke-width="1.8" opacity="0.48"/>
<line x1="415.8" y1="416.0" x2="420.5" y2="410.4" stroke="#c4c6c8" stroke-width="1.4" opacity="0.65"/>
<line x1="369.5" y1="387.0" x2="372.4" y2="382.2" stroke="#c4c6c8" stroke-width="1.6" opacity="0.55"/>
<line x1="385.9" y1="293.6" x2="390.8" y2="287.2" stroke="#ffffff" stroke-width="1.1" opacity="0.35"/>
<line x1="451.5" y1="378.2" x2="454.1" y2="374.3" stroke="#ffffff" stroke-width="1.3" opacity="0.67"/>
<line x1="347.0" y1="332.1" x2="349.2" y2="329.5" stroke="#bfc1c3" stroke-width="1.2" opacity="0.62"/>
<line x1="341.1" y1="384.0" x2="346.0" y2="377.8" stroke="#ffffff" stroke-width="1.0" opacity="0.43"/>
<line x1="379.2" y1="273.7" x2="383.6" y2="268.5" stroke="#c4c6c8" stroke-width="1.4" opacity="0.41"/>
<line x1="348.1" y1="394.5" x2="351.5" y2="389.2" stroke="#c4c6c8" stroke-width="1.8" opacity="0.66"/>
<line x1="391.8" y1="290.9" x2="395.8" y2="285.3" stroke="#ffffff" stroke-width="1.2" opacity="0.32"/>
<line x1="443.9" y1="300.3" x2="448.8" y2="294.7" stroke="#eceeef" stroke-width="0.9" opacity="0.61"/>
<line x1="399.6" y1="363.1" x2="404.1" y2="355.9" stroke="#c4c6c8" stroke-width="1.0" opacity="0.41"/>
<line x1="363.0" y1="395.3" x2="366.6" y2="390.2" stroke="#bfc1c3" stroke-width="1.1" opacity="0.53"/>
<line x1="370.6" y1="276.1" x2="376.4" y2="269.7" stroke="#ffffff" stroke-width="1.6" opacity="0.49"/>
<line x1="394.3" y1="300.2" x2="398.6" y2="293.4" stroke="#ffffff" stroke-width="1.7" opacity="0.46"/>
<line x1="350.3" y1="378.5" x2="353.5" y2="374.6" stroke="#c4c6c8" stroke-width="1.7" opacity="0.67"/>
<line x1="361.7" y1="303.1" x2="365.9" y2="295.9" stroke="#c4c6c8" stroke-width="1.5" opacity="0.46"/>
<line x1="380.5" y1="372.9" x2="384.2" y2="366.7" stroke="#eceeef" stroke-width="1.5" opacity="0.46"/>
<line x1="349.7" y1="305.5" x2="352.7" y2="301.2" stroke="#eceeef" stroke-width="1.7" opacity="0.52"/>
<line x1="340.2" y1="285.7" x2="341.8" y2="282.9" stroke="#c4c6c8" stroke-width="1.3" opacity="0.66"/>
<line x1="457.2" y1="346.6" x2="459.1" y2="343.9" stroke="#ffffff" stroke-width="1.7" opacity="0.66"/>
<line x1="423.2" y1="269.4" x2="426.2" y2="265.6" stroke="#ffffff" stroke-width="1.3" opacity="0.63"/>
<line x1="459.8" y1="411.5" x2="462.6" y2="407.4" stroke="#bfc1c3" stroke-width="1.1" opacity="0.39"/>
<line x1="440.2" y1="294.3" x2="444.3" y2="289.1" stroke="#bfc1c3" stroke-width="1.5" opacity="0.64"/>
<line x1="342.2" y1="295.6" x2="347.3" y2="288.5" stroke="#bfc1c3" stroke-width="1.3" opacity="0.59"/>
<line x1="402.0" y1="318.8" x2="407.0" y2="311.4" stroke="#ffffff" stroke-width="0.9" opacity="0.65"/>
<line x1="410.4" y1="332.4" x2="413.4" y2="328.5" stroke="#c4c6c8" stroke-width="0.9" opacity="0.57"/>
<line x1="338.3" y1="303.8" x2="342.6" y2="298.1" stroke="#c4c6c8" stroke-width="1.0" opacity="0.32"/>
<line x1="351.3" y1="406.4" x2="355.4" y2="401.1" stroke="#eceeef" stroke-width="0.8" opacity="0.65"/>
<line x1="402.6" y1="340.1" x2="408.4" y2="333.6" stroke="#ffffff" stroke-width="1.4" opacity="0.63"/>
<line x1="342.6" y1="283.8" x2="346.7" y2="276.4" stroke="#eceeef" stroke-width="1.5" opacity="0.35"/>
<line x1="337.4" y1="354.6" x2="342.1" y2="348.3" stroke="#c4c6c8" stroke-width="1.8" opacity="0.46"/>
<line x1="432.8" y1="352.4" x2="435.3" y2="348.9" stroke="#ffffff" stroke-width="1.7" opacity="0.63"/>
<line x1="404.7" y1="384.5" x2="406.4" y2="381.8" stroke="#eceeef" stroke-width="1.3" opacity="0.32"/>
<line x1="397.1" y1="311.2" x2="399.7" y2="308.2" stroke="#bfc1c3" stroke-width="1.0" opacity="0.50"/>
<line x1="374.4" y1="270.1" x2="378.7" y2="265.0" stroke="#bfc1c3" stroke-width="1.6" opacity="0.48"/>
<line x1="376.2" y1="320.4" x2="380.4" y2="315.6" stroke="#ffffff" stroke-width="1.6" opacity="0.46"/>
<line x1="442.4" y1="269.6" x2="444.8" y2="265.4" stroke="#ffffff" stroke-width="1.0" opacity="0.53"/>
<line x1="390.7" y1="371.9" x2="394.0" y2="366.6" stroke="#ffffff" stroke-width="1.3" opacity="0.37"/>
<line x1="396.2" y1="335.3" x2="397.9" y2="332.2" stroke="#eceeef" stroke-width="1.3" opacity="0.45"/>
<line x1="363.7" y1="298.1" x2="369.4" y2="291.2" stroke="#ffffff" stroke-width="1.3" opacity="0.67"/>
<line x1="377.2" y1="312.7" x2="378.9" y2="310.2" stroke="#c4c6c8" stroke-width="1.2" opacity="0.48"/>
<line x1="405.0" y1="259.1" x2="408.9" y2="254.4" stroke="#ffffff" stroke-width="1.3" opacity="0.52"/>
<line x1="397.1" y1="408.3" x2="401.8" y2="402.6" stroke="#ffffff" stroke-width="1.8" opacity="0.37"/>
<line x1="364.8" y1="293.9" x2="369.8" y2="287.1" stroke="#bfc1c3" stroke-width="1.4" opacity="0.58"/>
<line x1="432.0" y1="312.5" x2="434.5" y2="308.9" stroke="#ffffff" stroke-width="1.6" opacity="0.39"/>
<line x1="343.7" y1="394.6" x2="347.7" y2="388.7" stroke="#ffffff" stroke-width="1.7" opacity="0.30"/>
<line x1="450.3" y1="281.5" x2="453.6" y2="277.6" stroke="#eceeef" stroke-width="0.9" opacity="0.49"/>
<line x1="344.4" y1="319.8" x2="347.2" y2="314.8" stroke="#ffffff" stroke-width="1.1" opacity="0.42"/>
<line x1="432.5" y1="386.4" x2="435.1" y2="382.3" stroke="#c4c6c8" stroke-width="1.0" opacity="0.47"/>
<line x1="329.5" y1="323.7" x2="334.1" y2="318.5" stroke="#c4c6c8" stroke-width="0.8" opacity="0.56"/>
<line x1="353.8" y1="391.9" x2="357.8" y2="386.7" stroke="#ffffff" stroke-width="1.7" opacity="0.63"/>
<line x1="448.5" y1="387.0" x2="451.3" y2="383.5" stroke="#c4c6c8" stroke-width="0.8" opacity="0.40"/>
<line x1="356.9" y1="392.7" x2="359.0" y2="390.2" stroke="#c4c6c8" stroke-width="0.9" opacity="0.65"/>
<line x1="447.4" y1="308.1" x2="450.8" y2="303.5" stroke="#eceeef" stroke-width="0.9" opacity="0.69"/>
<line x1="324.3" y1="268.9" x2="328.2" y2="262.7" stroke="#bfc1c3" stroke-width="1.5" opacity="0.66"/>
<line x1="413.9" y1="329.4" x2="418.6" y2="322.4" stroke="#ffffff" stroke-width="1.7" opacity="0.34"/>
<line x1="361.5" y1="253.9" x2="363.3" y2="251.3" stroke="#eceeef" stroke-width="1.1" opacity="0.34"/>
<line x1="437.0" y1="396.2" x2="440.2" y2="390.8" stroke="#ffffff" stroke-width="1.4" opacity="0.47"/>
<line x1="388.9" y1="262.2" x2="394.1" y2="255.0" stroke="#ffffff" stroke-width="1.7" opacity="0.34"/>
<line x1="328.4" y1="287.1" x2="330.5" y2="283.7" stroke="#eceeef" stroke-width="1.0" opacity="0.60"/>
<line x1="364.3" y1="289.3" x2="367.6" y2="285.2" stroke="#ffffff" stroke-width="1.0" opacity="0.39"/>
<line x1="424.5" y1="280.3" x2="429.1" y2="272.5" stroke="#ffffff" stroke-width="1.1" opacity="0.34"/>
<line x1="329.8" y1="379.1" x2="333.1" y2="374.1" stroke="#ffffff" stroke-width="1.1" opacity="0.67"/>
<line x1="352.4" y1="282.9" x2="355.2" y2="279.7" stroke="#c4c6c8" stroke-width="1.0" opacity="0.67"/>
<line x1="324.7" y1="365.9" x2="327.7" y2="361.0" stroke="#bfc1c3" stroke-width="1.5" opacity="0.40"/>
<line x1="391.6" y1="326.3" x2="395.2" y2="322.1" stroke="#bfc1c3" stroke-width="1.0" opacity="0.38"/>
<line x1="321.5" y1="308.5" x2="323.4" y2="305.6" stroke="#ffffff" stroke-width="1.5" opacity="0.65"/>
<line x1="375.6" y1="396.7" x2="380.5" y2="389.2" stroke="#c4c6c8" stroke-width="0.9" opacity="0.32"/>
<line x1="434.7" y1="264.5" x2="437.4" y2="260.1" stroke="#ffffff" stroke-width="1.1" opacity="0.43"/>
<line x1="398.1" y1="273.3" x2="402.9" y2="265.8" stroke="#eceeef" stroke-width="1.7" opacity="0.66"/>
<line x1="391.4" y1="406.9" x2="396.2" y2="401.3" stroke="#bfc1c3" stroke-width="1.3" opacity="0.33"/>
<line x1="456.8" y1="278.1" x2="461.5" y2="271.8" stroke="#bfc1c3" stroke-width="1.7" opacity="0.43"/>
<line x1="426.3" y1="379.3" x2="429.9" y2="373.3" stroke="#ffffff" stroke-width="1.3" opacity="0.51"/>
<line x1="455.6" y1="364.9" x2="457.9" y2="361.5" stroke="#ffffff" stroke-width="1.7" opacity="0.55"/>
<line x1="361.6" y1="374.8" x2="367.2" y2="367.9" stroke="#c4c6c8" stroke-width="1.8" opacity="0.42"/>
<line x1="436.1" y1="415.7" x2="440.9" y2="409.8" stroke="#ffffff" stroke-width="1.7" opacity="0.41"/>
<line x1="375.0" y1="377.2" x2="377.9" y2="373.5" stroke="#ffffff" stroke-width="1.7" opacity="0.46"/>
<line x1="370.0" y1="375.4" x2="372.8" y2="371.9" stroke="#ffffff" stroke-width="1.5" opacity="0.60"/>
<line x1="404.3" y1="287.4" x2="408.2" y2="280.9" stroke="#c4c6c8" stroke-width="0.9" opacity="0.37"/>
<line x1="443.7" y1="403.9" x2="445.8" y2="401.6" stroke="#bfc1c3" stroke-width="1.2" opacity="0.39"/>
<line x1="376.7" y1="313.8" x2="380.1" y2="308.6" stroke="#c4c6c8" stroke-width="1.8" opacity="0.35"/>
<line x1="391.6" y1="253.3" x2="397.2" y2="246.2" stroke="#bfc1c3" stroke-width="1.5" opacity="0.61"/>
<line x1="343.0" y1="369.6" x2="346.7" y2="365.3" stroke="#ffffff" stroke-width="0.9" opacity="0.47"/>
<line x1="457.1" y1="321.2" x2="460.7" y2="316.1" stroke="#ffffff" stroke-width="1.0" opacity="0.62"/>
<line x1="442.4" y1="335.9" x2="445.4" y2="330.5" stroke="#eceeef" stroke-width="0.9" opacity="0.50"/>
<line x1="410.6" y1="380.5" x2="414.3" y2="374.1" stroke="#ffffff" stroke-width="0.8" opacity="0.38"/>
<line x1="408.2" y1="357.1" x2="411.5" y2="352.9" stroke="#eceeef" stroke-width="1.6" opacity="0.49"/>
<line x1="346.9" y1="350.7" x2="349.9" y2="347.1" stroke="#ffffff" stroke-width="1.4" opacity="0.67"/>
<line x1="433.9" y1="385.7" x2="436.5" y2="382.5" stroke="#ffffff" stroke-width="1.5" opacity="0.63"/>
<line x1="336.6" y1="283.2" x2="341.6" y2="276.0" stroke="#bfc1c3" stroke-width="1.1" opacity="0.59"/>
<line x1="321.5" y1="400.5" x2="323.9" y2="396.3" stroke="#ffffff" stroke-width="1.5" opacity="0.62"/>
<line x1="443.0" y1="325.3" x2="446.5" y2="321.0" stroke="#eceeef" stroke-width="1.8" opacity="0.56"/>
<line x1="385.2" y1="265.9" x2="387.6" y2="261.5" stroke="#ffffff" stroke-width="1.4" opacity="0.46"/>
<line x1="378.9" y1="331.3" x2="382.6" y2="326.5" stroke="#ffffff" stroke-width="1.2" opacity="0.52"/>
<line x1="328.8" y1="258.0" x2="333.4" y2="252.7" stroke="#ffffff" stroke-width="1.5" opacity="0.70"/>
<line x1="404.7" y1="361.6" x2="406.2" y2="359.0" stroke="#bfc1c3" stroke-width="1.6" opacity="0.69"/>
<line x1="364.2" y1="364.6" x2="369.8" y2="358.0" stroke="#eceeef" stroke-width="1.8" opacity="0.41"/>
<line x1="432.4" y1="291.1" x2="436.2" y2="283.9" stroke="#bfc1c3" stroke-width="1.5" opacity="0.48"/>
<line x1="367.9" y1="401.8" x2="371.2" y2="397.6" stroke="#c4c6c8" stroke-width="1.2" opacity="0.60"/>
<line x1="339.0" y1="387.3" x2="343.6" y2="380.4" stroke="#ffffff" stroke-width="1.1" opacity="0.47"/>
<line x1="417.5" y1="400.6" x2="419.8" y2="397.3" stroke="#c4c6c8" stroke-width="1.4" opacity="0.64"/>
<line x1="353.3" y1="341.4" x2="357.4" y2="335.8" stroke="#c4c6c8" stroke-width="0.8" opacity="0.45"/>
<line x1="388.7" y1="401.8" x2="390.7" y2="398.9" stroke="#c4c6c8" stroke-width="1.1" opacity="0.48"/>
<line x1="398.5" y1="277.6" x2="402.7" y2="270.4" stroke="#c4c6c8" stroke-width="1.6" opacity="0.42"/>
<line x1="459.9" y1="285.8" x2="462.1" y2="282.3" stroke="#ffffff" stroke-width="1.0" opacity="0.68"/>
<line x1="330.9" y1="298.9" x2="335.4" y2="293.0" stroke="#c4c6c8" stroke-width="1.3" opacity="0.66"/>
<line x1="334.3" y1="377.1" x2="338.8" y2="369.7" stroke="#ffffff" stroke-width="1.0" opacity="0.53"/>
<line x1="445.4" y1="355.4" x2="449.8" y2="348.5" stroke="#c4c6c8" stroke-width="0.8" opacity="0.48"/>
<line x1="444.6" y1="257.3" x2="448.3" y2="252.8" stroke="#ffffff" stroke-width="1.3" opacity="0.34"/>
<line x1="412.8" y1="342.3" x2="415.3" y2="337.8" stroke="#ffffff" stroke-width="1.3" opacity="0.49"/>
<line x1="365.9" y1="335.8" x2="370.1" y2="329.3" stroke="#ffffff" stroke-width="1.4" opacity="0.39"/>
<line x1="430.4" y1="303.3" x2="434.9" y2="297.7" stroke="#ffffff" stroke-width="1.2" opacity="0.41"/>
<line x1="420.4" y1="303.2" x2="422.9" y2="299.6" stroke="#eceeef" stroke-width="1.4" opacity="0.66"/>
<line x1="398.6" y1="323.4" x2="400.3" y2="320.6" stroke="#ffffff" stroke-width="1.1" opacity="0.45"/>
<line x1="326.7" y1="350.4" x2="329.2" y2="346.0" stroke="#bfc1c3" stroke-width="1.5" opacity="0.32"/>
<line x1="347.6" y1="283.5" x2="352.7" y2="277.0" stroke="#ffffff" stroke-width="1.8" opacity="0.35"/>
<line x1="437.6" y1="278.3" x2="442.1" y2="272.8" stroke="#c4c6c8" stroke-width="1.1" opacity="0.41"/>
<line x1="390.2" y1="317.4" x2="394.2" y2="310.7" stroke="#eceeef" stroke-width="1.4" opacity="0.46"/>
<line x1="455.4" y1="307.8" x2="460.5" y2="302.1" stroke="#eceeef" stroke-width="1.0" opacity="0.41"/>
<line x1="450.7" y1="376.4" x2="453.7" y2="371.8" stroke="#ffffff" stroke-width="1.1" opacity="0.61"/>
<line x1="336.3" y1="315.3" x2="339.7" y2="309.9" stroke="#ffffff" stroke-width="1.0" opacity="0.43"/>
<line x1="374.5" y1="373.3" x2="378.4" y2="366.5" stroke="#bfc1c3" stroke-width="1.0" opacity="0.49"/>
<line x1="353.2" y1="396.1" x2="355.5" y2="392.8" stroke="#ffffff" stroke-width="1.3" opacity="0.47"/>
<line x1="347.4" y1="400.9" x2="353.1" y2="394.4" stroke="#c4c6c8" stroke-width="1.5" opacity="0.48"/>
<line x1="421.5" y1="379.9" x2="423.7" y2="375.8" stroke="#bfc1c3" stroke-width="0.8" opacity="0.42"/>
<line x1="430.4" y1="351.2" x2="434.1" y2="344.2" stroke="#eceeef" stroke-width="0.8" opacity="0.49"/>
<line x1="446.6" y1="330.9" x2="450.7" y2="325.0" stroke="#ffffff" stroke-width="1.0" opacity="0.37"/>
<line x1="331.5" y1="362.7" x2="337.0" y2="356.4" stroke="#ffffff" stroke-width="0.9" opacity="0.58"/>
<line x1="363.6" y1="354.7" x2="366.1" y2="351.0" stroke="#c4c6c8" stroke-width="1.2" opacity="0.48"/>
<line x1="324.7" y1="256.5" x2="329.3" y2="249.1" stroke="#c4c6c8" stroke-width="1.3" opacity="0.61"/>
<line x1="356.1" y1="310.0" x2="361.0" y2="302.7" stroke="#c4c6c8" stroke-width="1.1" opacity="0.35"/>
<line x1="350.7" y1="377.3" x2="354.4" y2="372.3" stroke="#eceeef" stroke-width="1.4" opacity="0.57"/>
<line x1="347.1" y1="280.5" x2="350.7" y2="276.2" stroke="#ffffff" stroke-width="1.5" opacity="0.56"/>
<line x1="431.9" y1="354.5" x2="436.0" y2="347.3" stroke="#ffffff" stroke-width="1.4" opacity="0.61"/>
<line x1="326.2" y1="293.7" x2="328.0" y2="291.0" stroke="#ffffff" stroke-width="1.2" opacity="0.67"/>
<line x1="357.5" y1="325.1" x2="359.6" y2="322.2" stroke="#bfc1c3" stroke-width="1.5" opacity="0.62"/>
<line x1="354.2" y1="330.0" x2="357.2" y2="326.0" stroke="#ffffff" stroke-width="1.7" opacity="0.56"/>
<line x1="426.6" y1="296.7" x2="431.7" y2="289.7" stroke="#bfc1c3" stroke-width="0.9" opacity="0.40"/>
<line x1="384.1" y1="262.0" x2="388.2" y2="256.2" stroke="#ffffff" stroke-width="1.8" opacity="0.38"/>
<line x1="454.5" y1="297.1" x2="458.0" y2="292.7" stroke="#c4c6c8" stroke-width="1.5" opacity="0.33"/>
<line x1="441.5" y1="355.6" x2="444.2" y2="351.7" stroke="#ffffff" stroke-width="1.7" opacity="0.44"/>
<line x1="448.0" y1="354.0" x2="449.9" y2="350.9" stroke="#c4c6c8" stroke-width="0.9" opacity="0.63"/>
<line x1="356.9" y1="300.5" x2="358.5" y2="297.8" stroke="#ffffff" stroke-width="1.5" opacity="0.63"/>
<line x1="380.9" y1="285.2" x2="382.8" y2="282.6" stroke="#bfc1c3" stroke-width="1.4" opacity="0.69"/>
<line x1="406.8" y1="389.0" x2="412.2" y2="382.6" stroke="#c4c6c8" stroke-width="1.1" opacity="0.38"/>
<line x1="438.3" y1="345.4" x2="440.8" y2="341.5" stroke="#c4c6c8" stroke-width="1.8" opacity="0.51"/>
<line x1="384.9" y1="415.9" x2="389.2" y2="409.5" stroke="#eceeef" stroke-width="1.1" opacity="0.58"/>
<line x1="448.3" y1="300.5" x2="452.4" y2="294.0" stroke="#c4c6c8" stroke-width="0.9" opacity="0.37"/>
<line x1="417.5" y1="307.3" x2="421.2" y2="302.9" stroke="#ffffff" stroke-width="1.3" opacity="0.70"/>
<line x1="374.6" y1="315.0" x2="376.4" y2="311.8" stroke="#eceeef" stroke-width="1.5" opacity="0.32"/>
<line x1="430.3" y1="405.6" x2="433.4" y2="401.9" stroke="#c4c6c8" stroke-width="1.1" opacity="0.69"/>
<line x1="358.5" y1="288.9" x2="361.1" y2="284.1" stroke="#ffffff" stroke-width="1.7" opacity="0.67"/>
<line x1="419.1" y1="402.4" x2="421.6" y2="398.0" stroke="#eceeef" stroke-width="1.2" opacity="0.57"/>
<line x1="332.9" y1="253.0" x2="337.4" y2="247.1" stroke="#bfc1c3" stroke-width="1.0" opacity="0.46"/>
<line x1="454.4" y1="402.9" x2="458.5" y2="397.6" stroke="#c4c6c8" stroke-width="1.5" opacity="0.50"/>
<line x1="437.9" y1="398.6" x2="439.9" y2="396.0" stroke="#bfc1c3" stroke-width="0.8" opacity="0.46"/>
<line x1="423.5" y1="290.0" x2="428.9" y2="283.3" stroke="#ffffff" stroke-width="1.0" opacity="0.44"/>
<line x1="444.0" y1="403.4" x2="446.4" y2="399.3" stroke="#ffffff" stroke-width="1.4" opacity="0.45"/>
<line x1="418.4" y1="282.9" x2="421.5" y2="279.3" stroke="#ffffff" stroke-width="1.8" opacity="0.44"/>
<line x1="432.7" y1="385.1" x2="436.5" y2="379.9" stroke="#eceeef" stroke-width="1.2" opacity="0.62"/>
<line x1="387.6" y1="303.8" x2="392.1" y2="296.0" stroke="#eceeef" stroke-width="1.5" opacity="0.37"/>
<line x1="444.4" y1="256.6" x2="449.2" y2="251.1" stroke="#eceeef" stroke-width="1.7" opacity="0.58"/>
<line x1="422.1" y1="400.5" x2="426.8" y2="393.4" stroke="#ffffff" stroke-width="1.3" opacity="0.44"/>
<line x1="353.6" y1="359.0" x2="356.2" y2="355.2" stroke="#eceeef" stroke-width="0.9" opacity="0.39"/>
<line x1="408.7" y1="370.6" x2="413.2" y2="365.2" stroke="#bfc1c3" stroke-width="1.2" opacity="0.31"/>
<line x1="379.6" y1="250.9" x2="383.2" y2="244.8" stroke="#bfc1c3" stroke-width="1.4" opacity="0.48"/>
<line x1="407.7" y1="404.7" x2="410.4" y2="400.2" stroke="#bfc1c3" stroke-width="1.3" opacity="0.42"/>
<line x1="406.6" y1="289.9" x2="409.9" y2="285.6" stroke="#eceeef" stroke-width="1.6" opacity="0.55"/>
<line x1="398.2" y1="329.4" x2="404.1" y2="322.8" stroke="#eceeef" stroke-width="1.4" opacity="0.56"/>
<line x1="449.7" y1="288.4" x2="453.2" y2="283.6" stroke="#c4c6c8" stroke-width="1.8" opacity="0.37"/>
<line x1="327.6" y1="392.1" x2="329.4" y2="389.7" stroke="#ffffff" stroke-width="1.3" opacity="0.41"/>
<line x1="395.2" y1="305.9" x2="397.8" y2="301.2" stroke="#bfc1c3" stroke-width="1.8" opacity="0.66"/>
<line x1="411.1" y1="330.3" x2="416.3" y2="323.6" stroke="#eceeef" stroke-width="1.4" opacity="0.70"/>
<line x1="332.9" y1="370.6" x2="338.2" y2="364.7" stroke="#ffffff" stroke-width="1.0" opacity="0.54"/>
<line x1="327.0" y1="379.0" x2="332.3" y2="372.0" stroke="#ffffff" stroke-width="0.9" opacity="0.59"/>
<line x1="376.1" y1="276.3" x2="379.0" y2="272.8" stroke="#ffffff" stroke-width="1.8" opacity="0.32"/>
<line x1="443.6" y1="354.1" x2="446.1" y2="349.4" stroke="#ffffff" stroke-width="1.3" opacity="0.39"/>
<line x1="394.9" y1="263.3" x2="400.4" y2="256.7" stroke="#ffffff" stroke-width="1.0" opacity="0.49"/>
<line x1="453.7" y1="400.0" x2="457.1" y2="394.0" stroke="#eceeef" stroke-width="0.8" opacity="0.52"/>
<line x1="436.0" y1="280.5" x2="438.7" y2="276.9" stroke="#c4c6c8" stroke-width="1.8" opacity="0.37"/>
<line x1="348.9" y1="413.1" x2="350.7" y2="409.7" stroke="#eceeef" stroke-width="1.2" opacity="0.39"/>
<line x1="430.5" y1="410.9" x2="433.8" y2="405.6" stroke="#ffffff" stroke-width="1.0" opacity="0.54"/>
<line x1="435.4" y1="270.2" x2="439.5" y2="265.4" stroke="#eceeef" stroke-width="1.7" opacity="0.33"/>
<line x1="330.5" y1="361.6" x2="332.9" y2="358.7" stroke="#ffffff" stroke-width="1.7" opacity="0.49"/>
<line x1="397.5" y1="273.6" x2="401.0" y2="268.5" stroke="#ffffff" stroke-width="1.7" opacity="0.49"/>
<line x1="360.5" y1="393.4" x2="363.3" y2="390.3" stroke="#eceeef" stroke-width="0.9" opacity="0.45"/>
<line x1="324.4" y1="400.3" x2="328.5" y2="395.5" stroke="#bfc1c3" stroke-width="1.3" opacity="0.35"/>
<line x1="405.4" y1="389.8" x2="407.9" y2="386.6" stroke="#bfc1c3" stroke-width="1.6" opacity="0.36"/>
<line x1="378.7" y1="397.3" x2="382.9" y2="392.2" stroke="#c4c6c8" stroke-width="1.1" opacity="0.58"/>
<line x1="413.0" y1="361.9" x2="417.0" y2="355.4" stroke="#eceeef" stroke-width="1.3" opacity="0.54"/>
<line x1="459.4" y1="276.9" x2="462.7" y2="273.0" stroke="#bfc1c3" stroke-width="0.9" opacity="0.50"/>
<line x1="414.7" y1="379.3" x2="418.0" y2="373.1" stroke="#bfc1c3" stroke-width="0.9" opacity="0.32"/>
<line x1="453.0" y1="333.5" x2="454.8" y2="330.1" stroke="#bfc1c3" stroke-width="1.1" opacity="0.36"/>
<line x1="430.5" y1="291.8" x2="434.7" y2="286.4" stroke="#ffffff" stroke-width="1.2" opacity="0.55"/>
<line x1="444.1" y1="266.5" x2="449.2" y2="260.2" stroke="#ffffff" stroke-width="1.0" opacity="0.40"/>
<line x1="364.0" y1="376.2" x2="366.7" y2="371.3" stroke="#ffffff" stroke-width="1.2" opacity="0.55"/>
<line x1="370.5" y1="305.7" x2="373.8" y2="301.7" stroke="#eceeef" stroke-width="1.4" opacity="0.58"/>
<line x1="366.9" y1="316.3" x2="371.5" y2="310.0" stroke="#c4c6c8" stroke-width="1.1" opacity="0.56"/>
<line x1="409.9" y1="366.0" x2="412.6" y2="362.4" stroke="#bfc1c3" stroke-width="1.5" opacity="0.36"/>
<line x1="390.0" y1="272.5" x2="394.5" y2="266.2" stroke="#ffffff" stroke-width="1.4" opacity="0.58"/>
<line x1="377.2" y1="284.6" x2="379.0" y2="281.5" stroke="#ffffff" stroke-width="1.5" opacity="0.50"/>
<line x1="345.4" y1="250.2" x2="350.4" y2="244.5" stroke="#bfc1c3" stroke-width="1.6" opacity="0.48"/>
<line x1="388.1" y1="397.5" x2="392.8" y2="390.4" stroke="#bfc1c3" stroke-width="1.5" opacity="0.65"/>
<line x1="388.1" y1="349.1" x2="393.6" y2="342.0" stroke="#c4c6c8" stroke-width="1.2" opacity="0.33"/>
<line x1="368.2" y1="330.6" x2="370.9" y2="327.3" stroke="#ffffff" stroke-width="1.5" opacity="0.59"/>
<line x1="343.4" y1="353.3" x2="348.1" y2="345.7" stroke="#eceeef" stroke-width="0.9" opacity="0.55"/>
<line x1="387.9" y1="349.3" x2="391.2" y2="345.4" stroke="#bfc1c3" stroke-width="1.0" opacity="0.44"/>
<line x1="439.8" y1="254.1" x2="444.9" y2="247.8" stroke="#c4c6c8" stroke-width="1.5" opacity="0.50"/>
<line x1="421.6" y1="338.0" x2="425.7" y2="332.6" stroke="#bfc1c3" stroke-width="1.2" opacity="0.35"/>
<line x1="363.1" y1="362.3" x2="366.2" y2="356.7" stroke="#ffffff" stroke-width="1.2" opacity="0.62"/>
<line x1="411.5" y1="394.2" x2="414.0" y2="390.8" stroke="#c4c6c8" stroke-width="1.3" opacity="0.63"/>
<line x1="365.6" y1="258.9" x2="370.4" y2="252.6" stroke="#ffffff" stroke-width="1.2" opacity="0.48"/>
<line x1="376.4" y1="372.7" x2="380.1" y2="367.8" stroke="#c4c6c8" stroke-width="1.5" opacity="0.53"/>
<line x1="394.2" y1="309.1" x2="399.3" y2="303.3" stroke="#ffffff" stroke-width="1.4" opacity="0.40"/>
<line x1="436.8" y1="342.1" x2="439.3" y2="338.4" stroke="#bfc1c3" stroke-width="1.3" opacity="0.31"/>
<line x1="399.4" y1="277.4" x2="403.2" y2="272.7" stroke="#ffffff" stroke-width="1.2" opacity="0.36"/>
<line x1="333.6" y1="381.0" x2="337.0" y2="376.3" stroke="#bfc1c3" stroke-width="1.8" opacity="0.49"/>
<line x1="405.9" y1="306.2" x2="408.1" y2="303.0" stroke="#ffffff" stroke-width="1.7" opacity="0.52"/>
<line x1="354.9" y1="409.6" x2="358.3" y2="404.5" stroke="#ffffff" stroke-width="1.5" opacity="0.44"/>
<line x1="336.9" y1="261.1" x2="340.1" y2="255.6" stroke="#eceeef" stroke-width="1.1" opacity="0.46"/>
<line x1="356.3" y1="252.6" x2="361.2" y2="245.3" stroke="#bfc1c3" stroke-width="0.8" opacity="0.66"/>
<line x1="388.4" y1="388.0" x2="391.0" y2="383.8" stroke="#eceeef" stroke-width="1.5" opacity="0.54"/>
<line x1="341.6" y1="407.2" x2="345.7" y2="400.2" stroke="#ffffff" stroke-width="1.0" opacity="0.63"/>
<line x1="413.1" y1="343.1" x2="414.9" y2="340.2" stroke="#bfc1c3" stroke-width="1.7" opacity="0.66"/>
<line x1="370.4" y1="357.8" x2="373.1" y2="354.3" stroke="#bfc1c3" stroke-width="1.2" opacity="0.33"/>
<line x1="395.6" y1="358.9" x2="400.6" y2="353.1" stroke="#eceeef" stroke-width="1.7" opacity="0.63"/>
<line x1="436.7" y1="267.1" x2="440.4" y2="262.7" stroke="#ffffff" stroke-width="1.5" opacity="0.55"/>
<line x1="336.9" y1="308.9" x2="341.1" y2="303.5" stroke="#bfc1c3" stroke-width="1.8" opacity="0.69"/>
<line x1="368.3" y1="411.7" x2="371.7" y2="407.3" stroke="#eceeef" stroke-width="1.1" opacity="0.51"/>
<line x1="329.5" y1="387.5" x2="332.5" y2="384.0" stroke="#ffffff" stroke-width="0.8" opacity="0.65"/>
<line x1="413.8" y1="331.8" x2="418.0" y2="325.2" stroke="#eceeef" stroke-width="1.5" opacity="0.69"/>
<line x1="404.5" y1="280.5" x2="409.2" y2="273.9" stroke="#ffffff" stroke-width="0.9" opacity="0.62"/>
<line x1="324.2" y1="335.7" x2="326.4" y2="333.1" stroke="#eceeef" stroke-width="1.1" opacity="0.53"/>
<line x1="428.5" y1="406.4" x2="432.7" y2="401.5" stroke="#eceeef" stroke-width="1.8" opacity="0.38"/>
<line x1="383.9" y1="352.0" x2="387.2" y2="346.2" stroke="#bfc1c3" stroke-width="0.8" opacity="0.69"/>
<line x1="346.1" y1="255.6" x2="349.4" y2="249.9" stroke="#eceeef" stroke-width="0.9" opacity="0.41"/>
<line x1="400.1" y1="277.3" x2="403.5" y2="272.4" stroke="#c4c6c8" stroke-width="1.5" opacity="0.48"/>
<line x1="342.6" y1="396.4" x2="346.3" y2="392.0" stroke="#ffffff" stroke-width="1.0" opacity="0.51"/>
<line x1="359.0" y1="272.9" x2="361.2" y2="269.8" stroke="#bfc1c3" stroke-width="1.6" opacity="0.69"/>
<line x1="430.1" y1="362.6" x2="434.3" y2="356.4" stroke="#c4c6c8" stroke-width="1.0" opacity="0.62"/>
<line x1="331.8" y1="356.4" x2="335.0" y2="352.8" stroke="#ffffff" stroke-width="1.0" opacity="0.60"/>
<line x1="336.4" y1="406.8" x2="340.8" y2="401.0" stroke="#bfc1c3" stroke-width="0.9" opacity="0.42"/>
<line x1="354.8" y1="292.2" x2="357.9" y2="286.4" stroke="#ffffff" stroke-width="1.4" opacity="0.35"/>
<line x1="360.4" y1="271.7" x2="365.5" y2="264.8" stroke="#c4c6c8" stroke-width="1.6" opacity="0.69"/>
<line x1="345.7" y1="310.7" x2="349.1" y2="306.0" stroke="#bfc1c3" stroke-width="0.8" opacity="0.58"/>
<line x1="435.4" y1="325.4" x2="438.5" y2="320.6" stroke="#bfc1c3" stroke-width="1.2" opacity="0.65"/>
<line x1="345.9" y1="336.1" x2="348.0" y2="332.4" stroke="#bfc1c3" stroke-width="1.7" opacity="0.61"/>
<line x1="346.0" y1="321.9" x2="349.9" y2="316.7" stroke="#eceeef" stroke-width="1.0" opacity="0.59"/>
<line x1="359.4" y1="315.8" x2="362.0" y2="312.9" stroke="#c4c6c8" stroke-width="1.7" opacity="0.60"/>
<line x1="437.0" y1="299.7" x2="441.1" y2="292.8" stroke="#eceeef" stroke-width="1.2" opacity="0.65"/>
<line x1="352.0" y1="414.9" x2="354.0" y2="412.5" stroke="#bfc1c3" stroke-width="0.9" opacity="0.45"/>
<line x1="342.9" y1="296.6" x2="346.4" y2="292.2" stroke="#bfc1c3" stroke-width="1.1" opacity="0.40"/>
<line x1="328.8" y1="311.7" x2="331.4" y2="307.1" stroke="#c4c6c8" stroke-width="1.0" opacity="0.66"/>
<line x1="372.5" y1="343.0" x2="375.3" y2="338.9" stroke="#eceeef" stroke-width="1.2" opacity="0.49"/>
<line x1="355.9" y1="317.5" x2="359.0" y2="314.0" stroke="#ffffff" stroke-width="1.8" opacity="0.68"/>
<line x1="361.0" y1="410.6" x2="363.0" y2="406.9" stroke="#eceeef" stroke-width="1.6" opacity="0.57"/>
<line x1="384.7" y1="370.2" x2="389.1" y2="362.7" stroke="#ffffff" stroke-width="1.6" opacity="0.65"/>
<line x1="438.3" y1="364.4" x2="442.9" y2="357.1" stroke="#ffffff" stroke-width="1.2" opacity="0.33"/>
<line x1="418.4" y1="269.1" x2="420.3" y2="266.0" stroke="#ffffff" stroke-width="1.4" opacity="0.45"/>
<line x1="357.6" y1="270.7" x2="361.2" y2="265.0" stroke="#ffffff" stroke-width="1.0" opacity="0.33"/>
<line x1="332.6" y1="296.9" x2="335.7" y2="291.3" stroke="#bfc1c3" stroke-width="1.2" opacity="0.67"/>
<line x1="361.4" y1="345.8" x2="363.6" y2="342.5" stroke="#ffffff" stroke-width="1.5" opacity="0.42"/>
<line x1="343.9" y1="377.9" x2="345.9" y2="375.0" stroke="#c4c6c8" stroke-width="1.2" opacity="0.31"/>
<line x1="446.7" y1="388.9" x2="449.8" y2="385.0" stroke="#bfc1c3" stroke-width="1.8" opacity="0.39"/>
<line x1="362.5" y1="308.4" x2="364.6" y2="305.1" stroke="#bfc1c3" stroke-width="1.4" opacity="0.63"/>
<line x1="455.0" y1="329.5" x2="459.5" y2="323.0" stroke="#ffffff" stroke-width="1.4" opacity="0.54"/>
<line x1="449.4" y1="304.6" x2="454.0" y2="298.0" stroke="#ffffff" stroke-width="1.6" opacity="0.42"/>
<line x1="403.1" y1="325.1" x2="405.3" y2="321.8" stroke="#c4c6c8" stroke-width="0.9" opacity="0.61"/>
<line x1="411.8" y1="260.9" x2="414.4" y2="257.7" stroke="#bfc1c3" stroke-width="1.2" opacity="0.53"/>
<line x1="386.4" y1="341.8" x2="390.9" y2="334.0" stroke="#ffffff" stroke-width="1.2" opacity="0.58"/>
<line x1="363.6" y1="287.6" x2="366.2" y2="284.3" stroke="#ffffff" stroke-width="1.8" opacity="0.57"/>
<line x1="349.8" y1="256.7" x2="351.9" y2="254.4" stroke="#ffffff" stroke-width="1.3" opacity="0.40"/>
<line x1="428.4" y1="257.5" x2="430.6" y2="254.0" stroke="#ffffff" stroke-width="0.9" opacity="0.31"/>
<line x1="413.2" y1="382.2" x2="417.5" y2="376.4" stroke="#eceeef" stroke-width="1.7" opacity="0.35"/>
<line x1="334.8" y1="313.7" x2="339.5" y2="307.7" stroke="#bfc1c3" stroke-width="1.7" opacity="0.64"/>
<line x1="421.0" y1="405.4" x2="423.5" y2="402.3" stroke="#eceeef" stroke-width="1.4" opacity="0.35"/>
<line x1="389.9" y1="400.2" x2="394.7" y2="394.7" stroke="#c4c6c8" stroke-width="0.9" opacity="0.46"/>
<line x1="438.3" y1="369.7" x2="441.7" y2="364.7" stroke="#eceeef" stroke-width="1.1" opacity="0.32"/>
<line x1="445.9" y1="326.5" x2="450.9" y2="319.2" stroke="#bfc1c3" stroke-width="1.4" opacity="0.53"/>
<line x1="388.6" y1="336.4" x2="392.0" y2="332.6" stroke="#c4c6c8" stroke-width="1.1" opacity="0.49"/>
<line x1="429.2" y1="279.5" x2="434.4" y2="273.7" stroke="#c4c6c8" stroke-width="1.1" opacity="0.68"/>
<line x1="368.1" y1="340.8" x2="370.4" y2="336.6" stroke="#eceeef" stroke-width="1.6" opacity="0.61"/>
<line x1="457.9" y1="309.6" x2="459.8" y2="307.2" stroke="#ffffff" stroke-width="1.1" opacity="0.55"/>
<line x1="455.9" y1="268.1" x2="460.1" y2="262.7" stroke="#ffffff" stroke-width="1.7" opacity="0.51"/>
<line x1="427.3" y1="292.7" x2="430.8" y2="287.8" stroke="#c4c6c8" stroke-width="1.4" opacity="0.68"/>
<line x1="435.5" y1="274.8" x2="438.6" y2="271.2" stroke="#ffffff" stroke-width="1.5" opacity="0.34"/>
<line x1="350.5" y1="404.0" x2="352.4" y2="400.7" stroke="#bfc1c3" stroke-width="1.0" opacity="0.46"/>
<line x1="444.9" y1="287.1" x2="447.8" y2="282.6" stroke="#ffffff" stroke-width="1.5" opacity="0.44"/>
<line x1="378.3" y1="375.3" x2="381.4" y2="371.4" stroke="#bfc1c3" stroke-width="1.0" opacity="0.66"/>
<line x1="340.1" y1="252.6" x2="344.5" y2="246.9" stroke="#ffffff" stroke-width="1.3" opacity="0.33"/>
<line x1="325.3" y1="357.3" x2="329.4" y2="350.9" stroke="#ffffff" stroke-width="1.2" opacity="0.48"/>
<line x1="416.1" y1="364.3" x2="419.6" y2="358.3" stroke="#ffffff" stroke-width="1.6" opacity="0.60"/>
<line x1="408.2" y1="348.5" x2="411.2" y2="345.2" stroke="#c4c6c8" stroke-width="1.0" opacity="0.65"/>
<line x1="331.2" y1="356.7" x2="333.5" y2="354.2" stroke="#bfc1c3" stroke-width="1.6" opacity="0.51"/>
<line x1="395.4" y1="254.8" x2="396.9" y2="252.0" stroke="#ffffff" stroke-width="1.0" opacity="0.55"/>
<line x1="453.1" y1="306.1" x2="454.9" y2="303.4" stroke="#ffffff" stroke-width="0.9" opacity="0.61"/>
<line x1="337.6" y1="290.2" x2="341.4" y2="283.1" stroke="#bfc1c3" stroke-width="1.2" opacity="0.62"/>
<line x1="451.7" y1="408.1" x2="455.9" y2="403.0" stroke="#ffffff" stroke-width="1.5" opacity="0.35"/>
<line x1="429.4" y1="254.5" x2="432.9" y2="250.4" stroke="#c4c6c8" stroke-width="1.4" opacity="0.66"/>
<line x1="405.6" y1="385.7" x2="409.0" y2="379.9" stroke="#bfc1c3" stroke-width="1.8" opacity="0.68"/>
<line x1="337.7" y1="367.6" x2="339.5" y2="364.4" stroke="#ffffff" stroke-width="1.3" opacity="0.66"/>
<line x1="411.9" y1="336.0" x2="416.2" y2="330.1" stroke="#eceeef" stroke-width="1.3" opacity="0.66"/>
<line x1="324.5" y1="367.9" x2="326.5" y2="365.1" stroke="#ffffff" stroke-width="1.2" opacity="0.66"/>
<line x1="457.5" y1="388.0" x2="460.3" y2="384.4" stroke="#ffffff" stroke-width="1.1" opacity="0.45"/>
<line x1="350.7" y1="315.8" x2="355.1" y2="308.1" stroke="#eceeef" stroke-width="1.5" opacity="0.51"/>
<line x1="448.5" y1="362.2" x2="453.3" y2="355.2" stroke="#bfc1c3" stroke-width="1.8" opacity="0.32"/>
<line x1="405.7" y1="373.9" x2="407.7" y2="371.1" stroke="#ffffff" stroke-width="1.2" opacity="0.63"/>
<line x1="448.1" y1="288.0" x2="450.9" y2="284.5" stroke="#ffffff" stroke-width="1.2" opacity="0.70"/>
<line x1="456.7" y1="348.8" x2="459.3" y2="344.1" stroke="#ffffff" stroke-width="1.1" opacity="0.60"/>
<line x1="424.2" y1="364.9" x2="427.4" y2="359.1" stroke="#c4c6c8" stroke-width="1.5" opacity="0.56"/>
<line x1="384.8" y1="268.4" x2="388.9" y2="261.3" stroke="#eceeef" stroke-width="1.1" opacity="0.52"/>
<line x1="320.3" y1="303.4" x2="322.3" y2="299.8" stroke="#eceeef" stroke-width="1.4" opacity="0.51"/>
<line x1="423.6" y1="270.5" x2="428.4" y2="264.3" stroke="#eceeef" stroke-width="1.0" opacity="0.64"/>
<line x1="340.7" y1="342.9" x2="344.3" y2="337.1" stroke="#ffffff" stroke-width="1.4" opacity="0.40"/>
<line x1="417.9" y1="404.8" x2="422.5" y2="397.9" stroke="#ffffff" stroke-width="1.8" opacity="0.63"/>
<line x1="421.9" y1="326.8" x2="425.2" y2="322.1" stroke="#bfc1c3" stroke-width="0.8" opacity="0.39"/>
<line x1="393.4" y1="287.0" x2="397.9" y2="279.5" stroke="#c4c6c8" stroke-width="1.2" opacity="0.53"/>
<line x1="405.4" y1="335.2" x2="410.9" y2="328.9" stroke="#ffffff" stroke-width="1.1" opacity="0.35"/>
<line x1="359.5" y1="385.9" x2="362.2" y2="381.7" stroke="#bfc1c3" stroke-width="1.0" opacity="0.50"/>
<line x1="324.0" y1="326.3" x2="328.9" y2="319.1" stroke="#c4c6c8" stroke-width="1.0" opacity="0.59"/>
<line x1="353.0" y1="265.8" x2="355.6" y2="261.8" stroke="#bfc1c3" stroke-width="1.1" opacity="0.56"/>
<line x1="408.3" y1="252.9" x2="410.3" y2="250.2" stroke="#ffffff" stroke-width="1.4" opacity="0.57"/>
<line x1="332.0" y1="400.9" x2="337.8" y2="394.3" stroke="#ffffff" stroke-width="1.0" opacity="0.68"/>
<line x1="442.4" y1="398.5" x2="446.3" y2="391.3" stroke="#eceeef" stroke-width="1.1" opacity="0.63"/>
<line x1="441.4" y1="345.3" x2="445.7" y2="338.3" stroke="#bfc1c3" stroke-width="1.6" opacity="0.31"/>
<line x1="331.2" y1="386.1" x2="333.5" y2="383.0" stroke="#eceeef" stroke-width="1.7" opacity="0.50"/>
<line x1="325.4" y1="347.4" x2="329.3" y2="342.3" stroke="#c4c6c8" stroke-width="1.3" opacity="0.57"/>
<line x1="390.2" y1="351.1" x2="394.5" y2="346.1" stroke="#bfc1c3" stroke-width="1.8" opacity="0.31"/>
<line x1="390.2" y1="410.6" x2="392.2" y2="407.7" stroke="#c4c6c8" stroke-width="1.6" opacity="0.51"/>
<line x1="401.0" y1="339.8" x2="405.7" y2="334.6" stroke="#ffffff" stroke-width="1.0" opacity="0.39"/>
<line x1="388.7" y1="360.8" x2="392.8" y2="354.2" stroke="#ffffff" stroke-width="0.9" opacity="0.31"/>
<line x1="407.9" y1="280.8" x2="413.2" y2="274.5" stroke="#c4c6c8" stroke-width="1.8" opacity="0.41"/>
<line x1="369.1" y1="268.1" x2="371.1" y2="264.8" stroke="#ffffff" stroke-width="1.0" opacity="0.69"/>
<line x1="394.4" y1="294.0" x2="398.5" y2="287.3" stroke="#ffffff" stroke-width="0.9" opacity="0.45"/>
<line x1="361.1" y1="342.5" x2="365.8" y2="337.3" stroke="#c4c6c8" stroke-width="1.4" opacity="0.52"/>
<line x1="359.7" y1="399.5" x2="363.3" y2="393.9" stroke="#c4c6c8" stroke-width="1.6" opacity="0.54"/>
<line x1="426.6" y1="401.7" x2="429.0" y2="397.7" stroke="#ffffff" stroke-width="1.7" opacity="0.43"/>
<line x1="395.1" y1="316.2" x2="397.7" y2="312.2" stroke="#c4c6c8" stroke-width="1.8" opacity="0.46"/>
<line x1="435.7" y1="412.5" x2="437.4" y2="409.8" stroke="#eceeef" stroke-width="1.1" opacity="0.66"/>
<line x1="340.3" y1="364.0" x2="345.6" y2="356.8" stroke="#ffffff" stroke-width="1.3" opacity="0.45"/>
<line x1="442.0" y1="323.0" x2="446.5" y2="315.2" stroke="#ffffff" stroke-width="1.4" opacity="0.31"/>
<line x1="320.6" y1="389.3" x2="324.9" y2="384.5" stroke="#bfc1c3" stroke-width="1.5" opacity="0.44"/>
<line x1="364.6" y1="273.6" x2="370.5" y2="266.8" stroke="#ffffff" stroke-width="1.7" opacity="0.44"/>
<line x1="352.9" y1="412.4" x2="354.7" y2="409.6" stroke="#eceeef" stroke-width="1.5" opacity="0.36"/>
<line x1="390.1" y1="348.3" x2="393.5" y2="344.4" stroke="#ffffff" stroke-width="1.5" opacity="0.48"/>
<line x1="338.0" y1="359.3" x2="341.6" y2="354.7" stroke="#bfc1c3" stroke-width="1.4" opacity="0.39"/>
<line x1="404.9" y1="371.0" x2="407.1" y2="368.4" stroke="#c4c6c8" stroke-width="1.4" opacity="0.64"/>
<line x1="377.0" y1="307.3" x2="381.8" y2="301.4" stroke="#ffffff" stroke-width="1.2" opacity="0.44"/>
<line x1="390.6" y1="348.8" x2="395.1" y2="343.3" stroke="#c4c6c8" stroke-width="1.6" opacity="0.31"/>
<line x1="386.4" y1="405.6" x2="390.8" y2="397.8" stroke="#ffffff" stroke-width="1.2" opacity="0.36"/>
<line x1="325.3" y1="367.0" x2="327.0" y2="364.3" stroke="#eceeef" stroke-width="1.6" opacity="0.45"/>
<line x1="427.2" y1="393.0" x2="431.3" y2="388.2" stroke="#ffffff" stroke-width="1.4" opacity="0.53"/>
<line x1="359.7" y1="309.0" x2="364.6" y2="301.9" stroke="#c4c6c8" stroke-width="1.2" opacity="0.37"/>
<line x1="369.7" y1="323.4" x2="374.5" y2="316.5" stroke="#eceeef" stroke-width="1.0" opacity="0.31"/>
<line x1="358.9" y1="338.4" x2="361.0" y2="336.1" stroke="#eceeef" stroke-width="1.1" opacity="0.57"/>
<line x1="320.2" y1="355.0" x2="324.0" y2="350.7" stroke="#c4c6c8" stroke-width="1.5" opacity="0.49"/>
<line x1="413.9" y1="370.8" x2="415.8" y2="367.8" stroke="#c4c6c8" stroke-width="1.3" opacity="0.62"/>
<line x1="353.6" y1="408.6" x2="358.1" y2="402.7" stroke="#bfc1c3" stroke-width="0.9" opacity="0.54"/>
<line x1="348.7" y1="325.4" x2="353.9" y2="319.5" stroke="#bfc1c3" stroke-width="1.0" opacity="0.45"/>
<line x1="458.4" y1="260.5" x2="462.0" y2="256.5" stroke="#eceeef" stroke-width="1.3" opacity="0.48"/>
<line x1="329.8" y1="374.9" x2="332.2" y2="370.5" stroke="#ffffff" stroke-width="1.5" opacity="0.50"/>
<line x1="452.1" y1="366.8" x2="456.6" y2="361.7" stroke="#ffffff" stroke-width="1.5" opacity="0.47"/>
<line x1="455.2" y1="391.6" x2="458.0" y2="388.3" stroke="#eceeef" stroke-width="0.9" opacity="0.35"/>
<line x1="387.0" y1="382.9" x2="389.9" y2="377.5" stroke="#c4c6c8" stroke-width="1.5" opacity="0.66"/>
<line x1="416.6" y1="409.9" x2="422.2" y2="403.3" stroke="#c4c6c8" stroke-width="1.0" opacity="0.57"/>
<line x1="353.3" y1="270.8" x2="356.9" y2="266.8" stroke="#eceeef" stroke-width="1.1" opacity="0.57"/>
<line x1="421.9" y1="329.6" x2="426.8" y2="323.7" stroke="#ffffff" stroke-width="1.5" opacity="0.52"/>
<line x1="323.0" y1="412.8" x2="326.7" y2="407.6" stroke="#ffffff" stroke-width="1.4" opacity="0.42"/>
<line x1="352.6" y1="404.5" x2="355.0" y2="400.6" stroke="#bfc1c3" stroke-width="1.7" opacity="0.41"/>
<line x1="405.8" y1="363.8" x2="408.6" y2="358.6" stroke="#ffffff" stroke-width="1.1" opacity="0.44"/>
<line x1="335.5" y1="341.8" x2="337.7" y2="339.2" stroke="#c4c6c8" stroke-width="0.9" opacity="0.49"/>
<line x1="428.9" y1="342.0" x2="431.5" y2="338.7" stroke="#ffffff" stroke-width="1.3" opacity="0.51"/>
<line x1="442.4" y1="339.7" x2="446.7" y2="334.1" stroke="#c4c6c8" stroke-width="1.5" opacity="0.48"/>
<line x1="381.0" y1="352.5" x2="384.2" y2="347.4" stroke="#c4c6c8" stroke-width="1.6" opacity="0.46"/>
<line x1="377.9" y1="381.1" x2="380.8" y2="377.3" stroke="#ffffff" stroke-width="1.1" opacity="0.51"/>
<line x1="426.3" y1="367.3" x2="428.9" y2="364.1" stroke="#ffffff" stroke-width="1.8" opacity="0.37"/>
<line x1="436.1" y1="413.4" x2="438.1" y2="409.9" stroke="#eceeef" stroke-width="0.9" opacity="0.59"/>
<line x1="345.1" y1="377.7" x2="347.7" y2="373.7" stroke="#c4c6c8" stroke-width="0.9" opacity="0.37"/>
<line x1="375.5" y1="306.5" x2="380.2" y2="299.9" stroke="#ffffff" stroke-width="0.9" opacity="0.41"/>
<line x1="345.3" y1="301.4" x2="347.6" y2="297.8" stroke="#eceeef" stroke-width="1.7" opacity="0.57"/>
<line x1="375.5" y1="260.1" x2="378.2" y2="255.4" stroke="#bfc1c3" stroke-width="1.1" opacity="0.41"/>
<line x1="341.9" y1="268.4" x2="344.7" y2="265.1" stroke="#ffffff" stroke-width="1.4" opacity="0.43"/>
<line x1="366.0" y1="399.7" x2="367.9" y2="396.4" stroke="#c4c6c8" stroke-width="1.0" opacity="0.59"/>
<line x1="369.1" y1="264.6" x2="373.7" y2="258.2" stroke="#bfc1c3" stroke-width="0.9" opacity="0.69"/>
<line x1="356.3" y1="365.3" x2="361.5" y2="358.9" stroke="#ffffff" stroke-width="1.4" opacity="0.45"/>
<line x1="364.3" y1="406.8" x2="368.3" y2="401.1" stroke="#ffffff" stroke-width="1.0" opacity="0.37"/>
</g>
<polyline points="328.0,342.3 458.0,310.3" fill="none" stroke="#777" stroke-width="0.8" stroke-linecap="round" stroke-linejoin="round" />
<polyline points="328.5,343.8 458.0,311.8" fill="none" stroke="#f5f5f5" stroke-width="1" stroke-linecap="round" stroke-linejoin="round" />
<polygon points="339.2,273.8 458.0,250.3 458.0,268.0 341.5,294.6" fill="#f7f7f7" stroke="#2a2a2a" stroke-width="0.8" stroke-linejoin="round" />
<polyline points="340.0,277.5 458.0,254.0" fill="none" stroke="#d0d0d0" stroke-width="1.2" stroke-linecap="round" stroke-linejoin="round" />
<polyline points="341.5,291.5 458.0,265.5" fill="none" stroke="#c8c8c8" stroke-width="1.5" stroke-linecap="round" stroke-linejoin="round" />
<polyline points="339.5,273.5 458.0,250.0" fill="none" stroke="#111" stroke-width="1.8" stroke-linecap="round" stroke-linejoin="round" />
<circle cx="353" cy="282" r="1.2" fill="#222"/><circle cx="409" cy="270" r="1.2" fill="#222"/>
<polygon points="249.0,438.0 334.0,414.5 381.0,434.0 363.0,448.5 296.0,462.5" fill="url(#gLeg)" stroke="#2a2a2a" stroke-width="0.8" stroke-linejoin="round" />
<polygon points="244.0,363.0 328.0,343.0 331.8,411.5 334.6,414.8 252.0,439.0 247.5,438.0" fill="#a8553f" stroke="#2a2a2a" stroke-width="0.8" stroke-linejoin="round" />
<polygon points="244.2,362.9 248.3,364.3 251.5,437.3 246.6,439.4" fill="#b9664d" stroke="#2a2a2a" stroke-width="0.6" stroke-linejoin="round" />
<polygon points="247.5,438.0 252.0,439.0 296.0,462.5 364.0,448.0 367.0,452.5 298.5,467.5 293.0,465.5" fill="#b3624b" stroke="#2a2a2a" stroke-width="0.8" stroke-linejoin="round" />
<g transform="translate(305.2,388)"><ellipse cx="-0.8" cy="0.8" rx="8" ry="8.3" fill="#2a2a2a"/><ellipse cx="0" cy="0" rx="7.3" ry="7.8" fill="#c9cdd3" stroke="#222" stroke-width="0.8"/><polygon points="-5.6,-1.5 -2.2,-6 3.2,-5.6 5.8,-0.8 3.4,4.8 -2.4,5.4" fill="#e3e6ea" stroke="#333" stroke-width="0.8"/><ellipse cx="0.6" cy="-0.4" rx="3" ry="3.2" fill="#f6f7f9" stroke="#555" stroke-width="0.7"/></g>
<polygon points="402.5,422.0 419.0,422.0 419.0,577.3 401.8,569.4" fill="#e7e4a6" stroke="#2a2a2a" stroke-width="0.7" stroke-linejoin="round" />
<polygon points="419.0,422.0 434.0,415.0 433.6,572.0 419.0,577.3" fill="#f7f4b4" stroke="#2a2a2a" stroke-width="0.7" stroke-linejoin="round" />
<polygon points="335.0,414.2 430.8,386.5 470.0,405.0 458.5,413.5 378.9,434.3" fill="url(#gFlashH)" stroke="#2a2a2a" stroke-width="0.7" stroke-linejoin="round" />
<g opacity="0.5">
<ellipse cx="431.4" cy="392.4" rx="2.2" ry="0.7" fill="#9fa0a1" opacity="0.53" transform="rotate(-17 431.4 392.4)"/>
<ellipse cx="414.5" cy="403.3" rx="1.8" ry="1.1" fill="#8a8b8c" opacity="0.33" transform="rotate(-17 414.5 403.3)"/>
<ellipse cx="380.7" cy="407.7" rx="2.3" ry="1.2" fill="#b8b9ba" opacity="0.39" transform="rotate(-17 380.7 407.7)"/>
<ellipse cx="378.4" cy="419.5" rx="3.9" ry="1.1" fill="#8a8b8c" opacity="0.39" transform="rotate(-17 378.4 419.5)"/>
<ellipse cx="348.4" cy="415.9" rx="2.4" ry="1.1" fill="#8a8b8c" opacity="0.47" transform="rotate(-17 348.4 415.9)"/>
<ellipse cx="407.5" cy="417.2" rx="2.1" ry="1.3" fill="#c4c5c6" opacity="0.41" transform="rotate(-17 407.5 417.2)"/>
<ellipse cx="432.8" cy="411.5" rx="3.3" ry="1.1" fill="#b8b9ba" opacity="0.37" transform="rotate(-17 432.8 411.5)"/>
<ellipse cx="423.7" cy="399.7" rx="1.8" ry="1.2" fill="#b8b9ba" opacity="0.52" transform="rotate(-17 423.7 399.7)"/>
<ellipse cx="423.7" cy="396.0" rx="1.5" ry="0.8" fill="#9fa0a1" opacity="0.38" transform="rotate(-17 423.7 396.0)"/>
<ellipse cx="382.5" cy="405.2" rx="2.3" ry="1.1" fill="#b8b9ba" opacity="0.30" transform="rotate(-17 382.5 405.2)"/>
<ellipse cx="404.7" cy="423.0" rx="2.2" ry="0.6" fill="#8a8b8c" opacity="0.52" transform="rotate(-17 404.7 423.0)"/>
<ellipse cx="409.5" cy="416.7" rx="4.0" ry="1.4" fill="#8a8b8c" opacity="0.40" transform="rotate(-17 409.5 416.7)"/>
<ellipse cx="418.9" cy="397.9" rx="1.9" ry="1.3" fill="#b8b9ba" opacity="0.48" transform="rotate(-17 418.9 397.9)"/>
<ellipse cx="424.0" cy="413.6" rx="3.3" ry="1.4" fill="#b8b9ba" opacity="0.45" transform="rotate(-17 424.0 413.6)"/>
<ellipse cx="421.6" cy="414.4" rx="3.7" ry="1.4" fill="#9fa0a1" opacity="0.50" transform="rotate(-17 421.6 414.4)"/>
<ellipse cx="391.0" cy="403.7" rx="2.7" ry="1.3" fill="#9fa0a1" opacity="0.55" transform="rotate(-17 391.0 403.7)"/>
<ellipse cx="387.3" cy="429.0" rx="2.2" ry="1.1" fill="#b8b9ba" opacity="0.37" transform="rotate(-17 387.3 429.0)"/>
<ellipse cx="369.3" cy="426.1" rx="1.7" ry="0.7" fill="#8a8b8c" opacity="0.52" transform="rotate(-17 369.3 426.1)"/>
<ellipse cx="367.6" cy="424.4" rx="3.1" ry="1.1" fill="#9fa0a1" opacity="0.46" transform="rotate(-17 367.6 424.4)"/>
<ellipse cx="419.6" cy="400.9" rx="3.3" ry="0.8" fill="#c4c5c6" opacity="0.34" transform="rotate(-17 419.6 400.9)"/>
<ellipse cx="426.7" cy="406.2" rx="2.5" ry="0.9" fill="#b8b9ba" opacity="0.43" transform="rotate(-17 426.7 406.2)"/>
<ellipse cx="410.5" cy="395.5" rx="1.8" ry="0.6" fill="#9fa0a1" opacity="0.38" transform="rotate(-17 410.5 395.5)"/>
<ellipse cx="363.2" cy="408.9" rx="2.2" ry="0.6" fill="#8a8b8c" opacity="0.36" transform="rotate(-17 363.2 408.9)"/>
<ellipse cx="450.7" cy="410.2" rx="4.0" ry="1.4" fill="#9fa0a1" opacity="0.38" transform="rotate(-17 450.7 410.2)"/>
<ellipse cx="444.2" cy="405.2" rx="3.4" ry="1.0" fill="#9fa0a1" opacity="0.30" transform="rotate(-17 444.2 405.2)"/>
<ellipse cx="411.7" cy="413.2" rx="3.3" ry="0.9" fill="#b8b9ba" opacity="0.27" transform="rotate(-17 411.7 413.2)"/>
<ellipse cx="376.7" cy="405.6" rx="3.8" ry="1.1" fill="#8a8b8c" opacity="0.54" transform="rotate(-17 376.7 405.6)"/>
<ellipse cx="407.9" cy="411.7" rx="3.2" ry="1.0" fill="#c4c5c6" opacity="0.36" transform="rotate(-17 407.9 411.7)"/>
<ellipse cx="372.1" cy="413.8" rx="2.3" ry="1.4" fill="#9fa0a1" opacity="0.43" transform="rotate(-17 372.1 413.8)"/>
<ellipse cx="365.6" cy="422.4" rx="3.0" ry="1.3" fill="#b8b9ba" opacity="0.50" transform="rotate(-17 365.6 422.4)"/>
<ellipse cx="404.0" cy="401.6" rx="1.8" ry="1.1" fill="#b8b9ba" opacity="0.51" transform="rotate(-17 404.0 401.6)"/>
<ellipse cx="401.9" cy="425.0" rx="2.4" ry="0.9" fill="#c4c5c6" opacity="0.34" transform="rotate(-17 401.9 425.0)"/>
<ellipse cx="428.9" cy="413.7" rx="2.4" ry="1.0" fill="#8a8b8c" opacity="0.47" transform="rotate(-17 428.9 413.7)"/>
<ellipse cx="406.0" cy="412.0" rx="3.7" ry="1.3" fill="#8a8b8c" opacity="0.41" transform="rotate(-17 406.0 412.0)"/>
<ellipse cx="424.0" cy="411.2" rx="2.1" ry="0.7" fill="#c4c5c6" opacity="0.30" transform="rotate(-17 424.0 411.2)"/>
<ellipse cx="375.1" cy="429.1" rx="3.4" ry="0.8" fill="#8a8b8c" opacity="0.35" transform="rotate(-17 375.1 429.1)"/>
<ellipse cx="394.5" cy="413.8" rx="2.8" ry="1.4" fill="#8a8b8c" opacity="0.53" transform="rotate(-17 394.5 413.8)"/>
<ellipse cx="397.7" cy="403.3" rx="1.5" ry="1.4" fill="#b8b9ba" opacity="0.49" transform="rotate(-17 397.7 403.3)"/>
<ellipse cx="405.1" cy="400.3" rx="2.6" ry="0.9" fill="#9fa0a1" opacity="0.51" transform="rotate(-17 405.1 400.3)"/>
<ellipse cx="399.8" cy="417.2" rx="2.0" ry="1.1" fill="#b8b9ba" opacity="0.49" transform="rotate(-17 399.8 417.2)"/>
<ellipse cx="435.4" cy="395.3" rx="3.7" ry="1.3" fill="#b8b9ba" opacity="0.47" transform="rotate(-17 435.4 395.3)"/>
<ellipse cx="398.3" cy="420.2" rx="2.5" ry="0.7" fill="#c4c5c6" opacity="0.37" transform="rotate(-17 398.3 420.2)"/>
<ellipse cx="373.4" cy="423.1" rx="2.8" ry="1.1" fill="#c4c5c6" opacity="0.33" transform="rotate(-17 373.4 423.1)"/>
<ellipse cx="410.2" cy="395.3" rx="3.7" ry="1.1" fill="#c4c5c6" opacity="0.29" transform="rotate(-17 410.2 395.3)"/>
<ellipse cx="394.8" cy="416.6" rx="1.8" ry="1.3" fill="#c4c5c6" opacity="0.37" transform="rotate(-17 394.8 416.6)"/>
<ellipse cx="371.1" cy="407.9" rx="2.9" ry="1.2" fill="#8a8b8c" opacity="0.28" transform="rotate(-17 371.1 407.9)"/>
<ellipse cx="385.2" cy="411.4" rx="3.1" ry="1.2" fill="#c4c5c6" opacity="0.50" transform="rotate(-17 385.2 411.4)"/>
<ellipse cx="364.6" cy="424.5" rx="2.7" ry="0.7" fill="#b8b9ba" opacity="0.37" transform="rotate(-17 364.6 424.5)"/>
<ellipse cx="375.8" cy="417.1" rx="2.7" ry="0.8" fill="#9fa0a1" opacity="0.48" transform="rotate(-17 375.8 417.1)"/>
<ellipse cx="381.7" cy="426.5" rx="2.0" ry="0.7" fill="#8a8b8c" opacity="0.42" transform="rotate(-17 381.7 426.5)"/>
<ellipse cx="362.3" cy="423.1" rx="1.5" ry="1.2" fill="#9fa0a1" opacity="0.30" transform="rotate(-17 362.3 423.1)"/>
<ellipse cx="379.5" cy="429.7" rx="3.9" ry="1.3" fill="#9fa0a1" opacity="0.33" transform="rotate(-17 379.5 429.7)"/>
<ellipse cx="381.8" cy="420.1" rx="1.5" ry="0.9" fill="#c4c5c6" opacity="0.34" transform="rotate(-17 381.8 420.1)"/>
<ellipse cx="423.2" cy="415.3" rx="3.8" ry="1.0" fill="#8a8b8c" opacity="0.26" transform="rotate(-17 423.2 415.3)"/>
<ellipse cx="428.9" cy="415.2" rx="3.6" ry="0.6" fill="#9fa0a1" opacity="0.52" transform="rotate(-17 428.9 415.2)"/>
<ellipse cx="387.8" cy="422.2" rx="3.6" ry="1.4" fill="#8a8b8c" opacity="0.50" transform="rotate(-17 387.8 422.2)"/>
<ellipse cx="419.3" cy="417.8" rx="3.3" ry="1.0" fill="#9fa0a1" opacity="0.26" transform="rotate(-17 419.3 417.8)"/>
<ellipse cx="426.6" cy="402.0" rx="2.5" ry="1.3" fill="#8a8b8c" opacity="0.43" transform="rotate(-17 426.6 402.0)"/>
<ellipse cx="366.3" cy="424.9" rx="2.4" ry="0.7" fill="#c4c5c6" opacity="0.28" transform="rotate(-17 366.3 424.9)"/>
<ellipse cx="421.8" cy="412.3" rx="3.8" ry="0.9" fill="#9fa0a1" opacity="0.46" transform="rotate(-17 421.8 412.3)"/>
<ellipse cx="387.1" cy="428.3" rx="2.9" ry="0.9" fill="#c4c5c6" opacity="0.27" transform="rotate(-17 387.1 428.3)"/>
<ellipse cx="402.9" cy="408.8" rx="1.9" ry="1.0" fill="#c4c5c6" opacity="0.55" transform="rotate(-17 402.9 408.8)"/>
<ellipse cx="432.9" cy="414.1" rx="3.3" ry="1.1" fill="#9fa0a1" opacity="0.27" transform="rotate(-17 432.9 414.1)"/>
<ellipse cx="423.4" cy="408.0" rx="2.3" ry="0.8" fill="#8a8b8c" opacity="0.44" transform="rotate(-17 423.4 408.0)"/>
<ellipse cx="434.0" cy="401.5" rx="2.2" ry="1.0" fill="#c4c5c6" opacity="0.27" transform="rotate(-17 434.0 401.5)"/>
<ellipse cx="411.3" cy="401.7" rx="1.7" ry="1.1" fill="#b8b9ba" opacity="0.54" transform="rotate(-17 411.3 401.7)"/>
<ellipse cx="378.2" cy="408.1" rx="3.7" ry="1.2" fill="#c4c5c6" opacity="0.26" transform="rotate(-17 378.2 408.1)"/>
<ellipse cx="412.1" cy="419.6" rx="2.6" ry="0.9" fill="#c4c5c6" opacity="0.34" transform="rotate(-17 412.1 419.6)"/>
<ellipse cx="431.6" cy="398.0" rx="1.6" ry="1.4" fill="#8a8b8c" opacity="0.44" transform="rotate(-17 431.6 398.0)"/>
<ellipse cx="391.4" cy="401.7" rx="2.4" ry="0.8" fill="#8a8b8c" opacity="0.46" transform="rotate(-17 391.4 401.7)"/>
</g>
<polygon points="456.4,197.7 638.0,165.4 657.0,167.9 474.6,201.2" fill="#a9a98a" stroke="#2a2a2a" stroke-width="0.7" stroke-linejoin="round" />
<polygon points="456.4,197.7 474.6,201.2 478.5,400.0 459.5,395.0" fill="#e5e3a5" stroke="#6b6a50" stroke-width="0.7" stroke-linejoin="round" />
<polygon points="474.6,201.2 657.0,167.9 657.0,300.0 478.5,400.0" fill="#f7f4b4" stroke="#6b6a50" stroke-width="0.7" stroke-linejoin="round" />
<polygon points="588.7,192.5 620.0,199.2 703.6,182.7 672.0,176.5" fill="#a9543d" stroke="#2a2a2a" stroke-width="0.7" stroke-linejoin="round" />
<polygon points="620.0,199.2 703.6,182.7 701.4,221.4 618.3,238.3" fill="#cc6b4c" stroke="#2a2a2a" stroke-width="0.7" stroke-linejoin="round" />
<polygon points="588.7,192.5 620.0,199.2 618.3,238.3 586.7,232.5" fill="#bf6043" stroke="#2a2a2a" stroke-width="0.7" stroke-linejoin="round" />
<polygon points="618.3,238.3 701.4,221.4 701.2,225.0 618.3,242.1" fill="#e6dfd5" stroke="#4a3c34" stroke-width="0.55" stroke-linejoin="round" />
<polygon points="586.7,232.5 618.3,238.3 618.3,242.1 586.7,236.3" fill="#e4e2dc" stroke="#4a3c34" stroke-width="0.55" stroke-linejoin="round" />
<polygon points="538.7,246.7 569.2,254.2 618.3,242.1 586.7,236.3" fill="#a9543d" stroke="#2a2a2a" stroke-width="0.7" stroke-linejoin="round" />
<polygon points="569.2,254.2 618.3,242.1 701.1,225.0 698.9,263.5 568.3,295.0" fill="#cc6b4c" />
<polyline points="618.3,242.1 569.2,254.2 568.3,295.0" fill="none" stroke="#2a2a2a" stroke-width="0.7" stroke-linecap="round" stroke-linejoin="round" />
<polygon points="538.7,246.7 569.2,254.2 568.3,295.0 538.0,287.0" fill="#bf6043" stroke="#2a2a2a" stroke-width="0.7" stroke-linejoin="round" />
<polygon points="568.3,295.0 698.9,263.5 698.7,267.1 568.3,298.8" fill="#e6dfd5" stroke="#4a3c34" stroke-width="0.55" stroke-linejoin="round" />
<polygon points="538.0,287.0 568.3,295.0 568.3,298.8 538.0,290.8" fill="#e4e2dc" stroke="#4a3c34" stroke-width="0.55" stroke-linejoin="round" />
<polygon points="488.7,303.8 520.5,312.0 568.3,298.8 538.0,290.8" fill="#a9543d" stroke="#2a2a2a" stroke-width="0.7" stroke-linejoin="round" />
<polygon points="520.5,312.0 568.3,298.8 698.7,267.2 696.5,305.0 519.5,352.0" fill="#cc6b4c" />
<polyline points="568.3,298.8 520.5,312.0 519.5,352.0" fill="none" stroke="#2a2a2a" stroke-width="0.7" stroke-linecap="round" stroke-linejoin="round" />
<polygon points="488.7,303.8 520.5,312.0 519.5,352.0 488.7,344.3" fill="#bf6043" stroke="#2a2a2a" stroke-width="0.7" stroke-linejoin="round" />
<polygon points="519.5,352.0 696.5,305.0 696.3,308.6 519.5,355.8" fill="#e6dfd5" stroke="#4a3c34" stroke-width="0.55" stroke-linejoin="round" />
<polygon points="488.7,344.3 519.5,352.0 519.5,355.8 488.7,348.1" fill="#e4e2dc" stroke="#4a3c34" stroke-width="0.55" stroke-linejoin="round" />
<polygon points="430.7,363.3 464.0,372.6 519.5,355.8 488.7,348.1" fill="#a9543d" stroke="#2a2a2a" stroke-width="0.7" stroke-linejoin="round" />
<polygon points="464.0,372.6 519.5,355.8 696.3,308.0 694.2,344.6 463.3,413.3" fill="#cc6b4c" />
<polyline points="519.5,355.8 464.0,372.6 463.3,413.3" fill="none" stroke="#2a2a2a" stroke-width="0.7" stroke-linecap="round" stroke-linejoin="round" />
<polyline points="703.6,182.7 694.2,344.6" fill="none" stroke="#2a2a2a" stroke-width="0.8" stroke-linecap="round" stroke-linejoin="round" />
<ellipse cx="617.3" cy="192.1" rx="6.9" ry="2.4" fill="#e38563" stroke="#7a3322" stroke-width="0.9" transform="rotate(-10 617.3 192.1)"/>
<ellipse cx="632" cy="189.4" rx="6.9" ry="2.4" fill="#e38563" stroke="#7a3322" stroke-width="0.9" transform="rotate(-10 632 189.4)"/>
<ellipse cx="646.8" cy="186.5" rx="6.9" ry="2.4" fill="#e38563" stroke="#7a3322" stroke-width="0.9" transform="rotate(-10 646.8 186.5)"/>
<ellipse cx="661.4" cy="183.8" rx="6.9" ry="2.4" fill="#e38563" stroke="#7a3322" stroke-width="0.9" transform="rotate(-10 661.4 183.8)"/>
<ellipse cx="675" cy="181.3" rx="6.9" ry="2.4" fill="#e38563" stroke="#7a3322" stroke-width="0.9" transform="rotate(-10 675 181.3)"/>
<ellipse cx="567.5" cy="247.6" rx="7.2" ry="2.5" fill="#e38563" stroke="#7a3322" stroke-width="0.9" transform="rotate(-12 567.5 247.6)"/>
<ellipse cx="583" cy="243.5" rx="7.2" ry="2.5" fill="#e38563" stroke="#7a3322" stroke-width="0.9" transform="rotate(-12 583 243.5)"/>
<ellipse cx="597.5" cy="240.3" rx="7.2" ry="2.5" fill="#e38563" stroke="#7a3322" stroke-width="0.9" transform="rotate(-12 597.5 240.3)"/>
<ellipse cx="517.4" cy="303.3" rx="7.5" ry="2.8" fill="#e38563" stroke="#7a3322" stroke-width="0.9" transform="rotate(-13 517.4 303.3)"/>
<ellipse cx="534.9" cy="299.2" rx="7.5" ry="2.8" fill="#e38563" stroke="#7a3322" stroke-width="0.9" transform="rotate(-13 534.9 299.2)"/>
<ellipse cx="549.2" cy="295.6" rx="7.5" ry="2.8" fill="#e38563" stroke="#7a3322" stroke-width="0.9" transform="rotate(-13 549.2 295.6)"/>
<ellipse cx="464.1" cy="363.4" rx="7.8" ry="3" fill="#e38563" stroke="#7a3322" stroke-width="0.9" transform="rotate(-14 464.1 363.4)"/>
<ellipse cx="481.5" cy="358.7" rx="7.8" ry="3" fill="#e38563" stroke="#7a3322" stroke-width="0.9" transform="rotate(-14 481.5 358.7)"/>
<ellipse cx="499" cy="353.8" rx="7.8" ry="3" fill="#e38563" stroke="#7a3322" stroke-width="0.9" transform="rotate(-14 499 353.8)"/>
<polygon points="588.7,192.5 620.0,199.2 618.3,238.3 586.7,232.5" fill="#bf6043" stroke="#2a2a2a" stroke-width="0.7" stroke-linejoin="round" />
<polygon points="586.7,232.5 618.3,238.3 618.3,242.1 586.7,236.3" fill="#e4e2dc" stroke="#4a3c34" stroke-width="0.55" stroke-linejoin="round" />
<polygon points="538.7,246.7 569.2,254.2 568.3,295.0 538.0,287.0" fill="#bf6043" stroke="#2a2a2a" stroke-width="0.7" stroke-linejoin="round" />
<polygon points="538.0,287.0 568.3,295.0 568.3,298.8 538.0,290.8" fill="#e4e2dc" stroke="#4a3c34" stroke-width="0.55" stroke-linejoin="round" />
<polygon points="488.7,303.8 520.5,312.0 519.5,352.0 488.7,344.3" fill="#bf6043" stroke="#2a2a2a" stroke-width="0.7" stroke-linejoin="round" />
<polygon points="488.7,344.3 519.5,352.0 519.5,355.8 488.7,348.1" fill="#e4e2dc" stroke="#4a3c34" stroke-width="0.55" stroke-linejoin="round" />
<polygon points="656.7,233.8 659.9,233.5 659.6,273.0 656.4,273.3" fill="#e6dfd5" stroke="#4a3c34" stroke-width="0.55" stroke-linejoin="round" />
<polygon points="611.4,288.0 614.6,287.7 614.3,326.9 611.1,327.2" fill="#e6dfd5" stroke="#4a3c34" stroke-width="0.55" stroke-linejoin="round" />
<polygon points="562.0,343.9 565.2,343.6 564.9,383.2 561.7,383.5" fill="#e6dfd5" stroke="#4a3c34" stroke-width="0.55" stroke-linejoin="round" />
<polygon points="652.1,319.5 655.3,319.5 655.1,356.7 651.9,356.7" fill="#3a3026" />
<rect x="652.8" y="322.5" width="1.8" height="2.2" fill="#c9b9a8"/>
<rect x="652.8" y="327.3" width="1.8" height="2.2" fill="#c9b9a8"/>
<rect x="652.8" y="332.0" width="1.8" height="2.2" fill="#c9b9a8"/>
<rect x="652.8" y="336.7" width="1.8" height="2.2" fill="#c9b9a8"/>
<rect x="652.8" y="341.5" width="1.8" height="2.2" fill="#c9b9a8"/>
<rect x="652.8" y="346.2" width="1.8" height="2.2" fill="#c9b9a8"/>
<rect x="652.8" y="350.9" width="1.8" height="2.2" fill="#c9b9a8"/>
<polygon points="430.7,363.3 464.0,372.6 462.5,415.5 432.0,404.0" fill="#303030" stroke="#2a2a2a" stroke-width="0.7" stroke-linejoin="round" />
<polygon points="430.7,363.8 464.0,373.1 463.9,375.5 430.8,366.1" fill="#b9b9b9" />
<polyline points="430.7,363.8 464.0,373.1" fill="none" stroke="#f0f0f0" stroke-width="0.7" stroke-linecap="round" stroke-linejoin="round" />
<polygon points="430.9,368.9 463.8,378.5 463.7,380.9 431.0,371.2" fill="#b9b9b9" />
<polyline points="430.9,368.9 463.8,378.5" fill="none" stroke="#f0f0f0" stroke-width="0.7" stroke-linecap="round" stroke-linejoin="round" />
<polygon points="431.0,374.0 463.6,383.9 463.5,386.3 431.1,376.3" fill="#b9b9b9" />
<polyline points="431.0,374.0 463.6,383.9" fill="none" stroke="#f0f0f0" stroke-width="0.7" stroke-linecap="round" stroke-linejoin="round" />
<polygon points="431.2,379.1 463.4,389.2 463.3,391.6 431.3,381.4" fill="#b9b9b9" />
<polyline points="431.2,379.1 463.4,389.2" fill="none" stroke="#f0f0f0" stroke-width="0.7" stroke-linecap="round" stroke-linejoin="round" />
<polygon points="431.4,384.2 463.2,394.6 463.1,397.0 431.4,386.4" fill="#b9b9b9" />
<polyline points="431.4,384.2 463.2,394.6" fill="none" stroke="#f0f0f0" stroke-width="0.7" stroke-linecap="round" stroke-linejoin="round" />
<polygon points="431.5,389.2 463.0,399.9 463.0,402.4 431.6,391.5" fill="#b9b9b9" />
<polyline points="431.5,389.2 463.0,399.9" fill="none" stroke="#f0f0f0" stroke-width="0.7" stroke-linecap="round" stroke-linejoin="round" />
<polygon points="431.7,394.3 462.9,405.3 462.8,407.7 431.8,396.6" fill="#b9b9b9" />
<polyline points="431.7,394.3 462.9,405.3" fill="none" stroke="#f0f0f0" stroke-width="0.7" stroke-linecap="round" stroke-linejoin="round" />
<polygon points="431.9,399.4 462.7,410.7 462.6,413.1 431.9,401.7" fill="#b9b9b9" />
<polyline points="431.9,399.4 462.7,410.7" fill="none" stroke="#f0f0f0" stroke-width="0.7" stroke-linecap="round" stroke-linejoin="round" />
<polygon points="459.5,371.3 464.0,372.6 462.5,415.5 458.5,414.0" fill="#bdbdbd" stroke="#333" stroke-width="0.4" stroke-linejoin="round" />
<polygon points="455.0,424.8 463.0,422.3 620.0,373.6 693.0,349.6 691.0,352.6 462.6,426.7 455.0,427.5" fill="#9b9b9b" stroke="#333" stroke-width="0.5" stroke-linejoin="round" />
<polygon points="462.6,426.7 691.0,352.6 685.0,505.0 461.5,598.9" fill="#cc6b4c" stroke="#2a2a2a" stroke-width="0.8" stroke-linejoin="round" />
<polygon points="433.8,431.4 462.6,423.0 461.5,598.9 433.2,583.0" fill="#bf6043" stroke="#2a2a2a" stroke-width="0.8" stroke-linejoin="round" />
<polygon points="438.0,426.5 455.4,430.0 455.4,465.5 438.0,460.0" fill="#9c4a34" />
<polygon points="442.0,428.0 454.4,431.5 454.4,462.0 442.0,458.0" fill="#e58461" stroke="#7a3322" stroke-width="0.5" stroke-linejoin="round" />
<polygon points="442.0,428.0 445.5,429.0 445.5,459.0 442.0,458.0" fill="#f09a78" />
<polygon points="438.0,460.0 455.4,465.5 455.4,462.0 442.0,458.0" fill="#bdbdb5" />
<polygon points="437.0,507.5 454.7,511.0 454.7,551.5 437.0,546.0" fill="#9c4a34" />
<polygon points="441.0,509.0 453.7,512.5 453.7,548.0 441.0,544.0" fill="#e58461" stroke="#7a3322" stroke-width="0.5" stroke-linejoin="round" />
<polygon points="441.0,509.0 444.5,510.0 444.5,545.0 441.0,544.0" fill="#f09a78" />
<polygon points="437.0,546.0 454.7,551.5 454.7,548.0 441.0,544.0" fill="#bdbdb5" />
<polygon points="462.3,468.7 689.4,393.0 689.3,396.5 462.3,473.4" fill="#e6dfd5" stroke="#4a3c34" stroke-width="0.55" stroke-linejoin="round" />
<polygon points="433.6,457.5 462.3,468.7 462.3,473.4 433.6,461.5" fill="#e4e2dc" stroke="#4a3c34" stroke-width="0.55" stroke-linejoin="round" />
<polygon points="462.1,512.4 687.9,432.5 687.7,436.0 462.0,517.3" fill="#e6dfd5" stroke="#4a3c34" stroke-width="0.55" stroke-linejoin="round" />
<polygon points="433.6,501.0 462.1,512.4 462.0,517.3 433.6,504.3" fill="#e4e2dc" stroke="#4a3c34" stroke-width="0.55" stroke-linejoin="round" />
<polygon points="461.8,556.4 686.5,467.5 686.3,471.0 461.7,561.0" fill="#e6dfd5" stroke="#4a3c34" stroke-width="0.55" stroke-linejoin="round" />
<polygon points="433.6,543.0 461.8,556.4 461.7,561.0 433.6,546.3" fill="#e4e2dc" stroke="#4a3c34" stroke-width="0.55" stroke-linejoin="round" />
<polygon points="512.2,410.1 515.4,409.8 515.1,451.2 511.9,451.5" fill="#e6dfd5" stroke="#4a3c34" stroke-width="0.55" stroke-linejoin="round" />
<polygon points="607.8,379.1 611.0,378.8 610.7,419.4 607.5,419.7" fill="#e6dfd5" stroke="#4a3c34" stroke-width="0.55" stroke-linejoin="round" />
<polygon points="558.0,440.4 561.2,440.1 560.9,477.6 557.7,477.9" fill="#e6dfd5" stroke="#4a3c34" stroke-width="0.55" stroke-linejoin="round" />
<polygon points="646.1,410.6 649.3,410.3 649.0,446.4 645.8,446.7" fill="#e6dfd5" stroke="#4a3c34" stroke-width="0.55" stroke-linejoin="round" />
<polygon points="510.4,499.3 513.6,499.0 513.3,536.2 510.1,536.5" fill="#e6dfd5" stroke="#4a3c34" stroke-width="0.55" stroke-linejoin="round" />
<polygon points="604.2,465.5 607.4,465.2 607.1,499.1 603.9,499.4" fill="#e6dfd5" stroke="#4a3c34" stroke-width="0.55" stroke-linejoin="round" />
<polygon points="554.9,523.0 558.1,522.7 557.8,558.7 554.6,559.0" fill="#e6dfd5" stroke="#4a3c34" stroke-width="0.55" stroke-linejoin="round" />
<polygon points="642.2,488.0 645.4,487.7 645.1,522.0 641.9,522.3" fill="#e6dfd5" stroke="#4a3c34" stroke-width="0.55" stroke-linejoin="round" />
<polyline points="462.6,426.7 461.5,598.9" fill="none" stroke="#2a2a2a" stroke-width="0.7" stroke-linecap="round" stroke-linejoin="round" />
<polygon points="335.0,434.3 358.0,428.0 379.0,434.3 458.5,413.5 463.3,413.3 694.2,344.6 696.3,347.2 463.0,417.8 363.8,446.5" fill="#cdcecf" stroke="#333" stroke-width="0.5" stroke-linejoin="round" />
<polygon points="363.8,446.5 463.0,417.8 696.3,347.2 693.0,349.6 620.0,373.6 463.0,422.3 366.5,452.3" fill="#ebebeb" stroke="#333" stroke-width="0.5" stroke-linejoin="round" />
<polyline points="364.6,447.6 463.2,418.9 695.5,348.4" fill="none" stroke="#fafafa" stroke-width="1" stroke-linecap="round" stroke-linejoin="round" />
<polyline points="88.0,104.0 247.0,140.0" fill="none" stroke="#1a1a1a" stroke-width="0.9" stroke-linecap="round" stroke-linejoin="round" />
<circle cx="247" cy="140" r="3.9" fill="#111"/>
<polyline points="255.0,57.0 379.0,152.0" fill="none" stroke="#1a1a1a" stroke-width="0.9" stroke-linecap="round" stroke-linejoin="round" />
<circle cx="379" cy="152" r="3.9" fill="#111"/>
<polyline points="110.0,235.0 354.0,272.7" fill="none" stroke="#1a1a1a" stroke-width="0.9" stroke-linecap="round" stroke-linejoin="round" />
<circle cx="354" cy="272.7" r="3.9" fill="#111"/>
<polyline points="493.6,73.3 537.0,202.0" fill="none" stroke="#1a1a1a" stroke-width="0.9" stroke-linecap="round" stroke-linejoin="round" />
<circle cx="537" cy="202" r="3.9" fill="#111"/>
<polyline points="671.0,70.0 625.8,165.4" fill="none" stroke="#1a1a1a" stroke-width="0.9" stroke-linecap="round" stroke-linejoin="round" />
<circle cx="625.8" cy="165.4" r="3.9" fill="#111"/>
<polyline points="723.0,147.0 625.6,279.3" fill="none" stroke="#1a1a1a" stroke-width="0.9" stroke-linecap="round" stroke-linejoin="round" />
<circle cx="625.6" cy="279.3" r="3.9" fill="#111"/>
<polyline points="145.3,398.5 296.0,390.0" fill="none" stroke="#1a1a1a" stroke-width="0.9" stroke-linecap="round" stroke-linejoin="round" />
<circle cx="296" cy="390" r="3.9" fill="#111"/>
<polyline points="146.0,593.0 362.0,438.0" fill="none" stroke="#1a1a1a" stroke-width="0.9" stroke-linecap="round" stroke-linejoin="round" />
<circle cx="362" cy="438" r="3.9" fill="#111"/>
<polyline points="533.3,605.8 370.0,369.0" fill="none" stroke="#1a1a1a" stroke-width="0.9" stroke-linecap="round" stroke-linejoin="round" />
<circle cx="370" cy="369" r="3.9" fill="#111"/>
<g font-family="Liberation Sans, sans-serif" font-size="13" fill="#2b2b2b" style="white-space:pre">
<text x="18" y="74.0" xml:space="preserve" textLength="143.8" lengthAdjust="spacing">Backup wall construction</text>
<text x="18" y="90.0" xml:space="preserve" textLength="116.5" lengthAdjust="spacing">may vary  per design</text>
<text x="204" y="22.0" xml:space="preserve" textLength="120" lengthAdjust="spacing">WrapShield SA Self-</text>
<text x="204" y="38.0" xml:space="preserve" textLength="106" lengthAdjust="spacing">Adhered  WRB/Air</text>
<text x="204" y="54.0" xml:space="preserve">Barrier</text>
<text x="18" y="175.0" xml:space="preserve">Mech. fastened</text>
<text x="18" y="191.0" xml:space="preserve" textLength="128.3" lengthAdjust="spacing">VaproTermination  Bar</text>
<text x="18" y="207.0" xml:space="preserve">w/ cont. bead of Dow</text>
<text x="18" y="223.0" xml:space="preserve" textLength="127.3" lengthAdjust="spacing">Corning® 758 sealant</text>
<text x="18" y="239.0" xml:space="preserve">at top</text>
<text x="440.3" y="31.6" xml:space="preserve">Typical cavity</text>
<text x="440.3" y="47.6" xml:space="preserve">insulation by</text>
<text x="440.3" y="63.6" xml:space="preserve">others</text>
<text x="626" y="45.0" xml:space="preserve">Air space for</text>
<text x="626" y="61.0" xml:space="preserve">drainage</text>
<text x="669.5" y="122.0" xml:space="preserve" textLength="94.2" lengthAdjust="spacing">Typical masonry</text>
<text x="669.5" y="138.0" xml:space="preserve" textLength="97.5" lengthAdjust="spacing">veneer  by others</text>
<text x="19.2" y="386.7" xml:space="preserve">Typical shelf angle</text>
<text x="19.2" y="402.7" xml:space="preserve" textLength="123.3" lengthAdjust="spacing">anchored  to structure</text>
<text x="19.2" y="418.7" xml:space="preserve">by others</text>
<text x="24.2" y="598.8" xml:space="preserve" textLength="119" lengthAdjust="spacing">Typical drip edge by</text>
<text x="24.2" y="614.8" xml:space="preserve">others</text>
<text x="539.2" y="614.6" xml:space="preserve" textLength="109.6" lengthAdjust="spacing">Vapro-SS Flashing</text>
</g>
</svg>
</body></html>
